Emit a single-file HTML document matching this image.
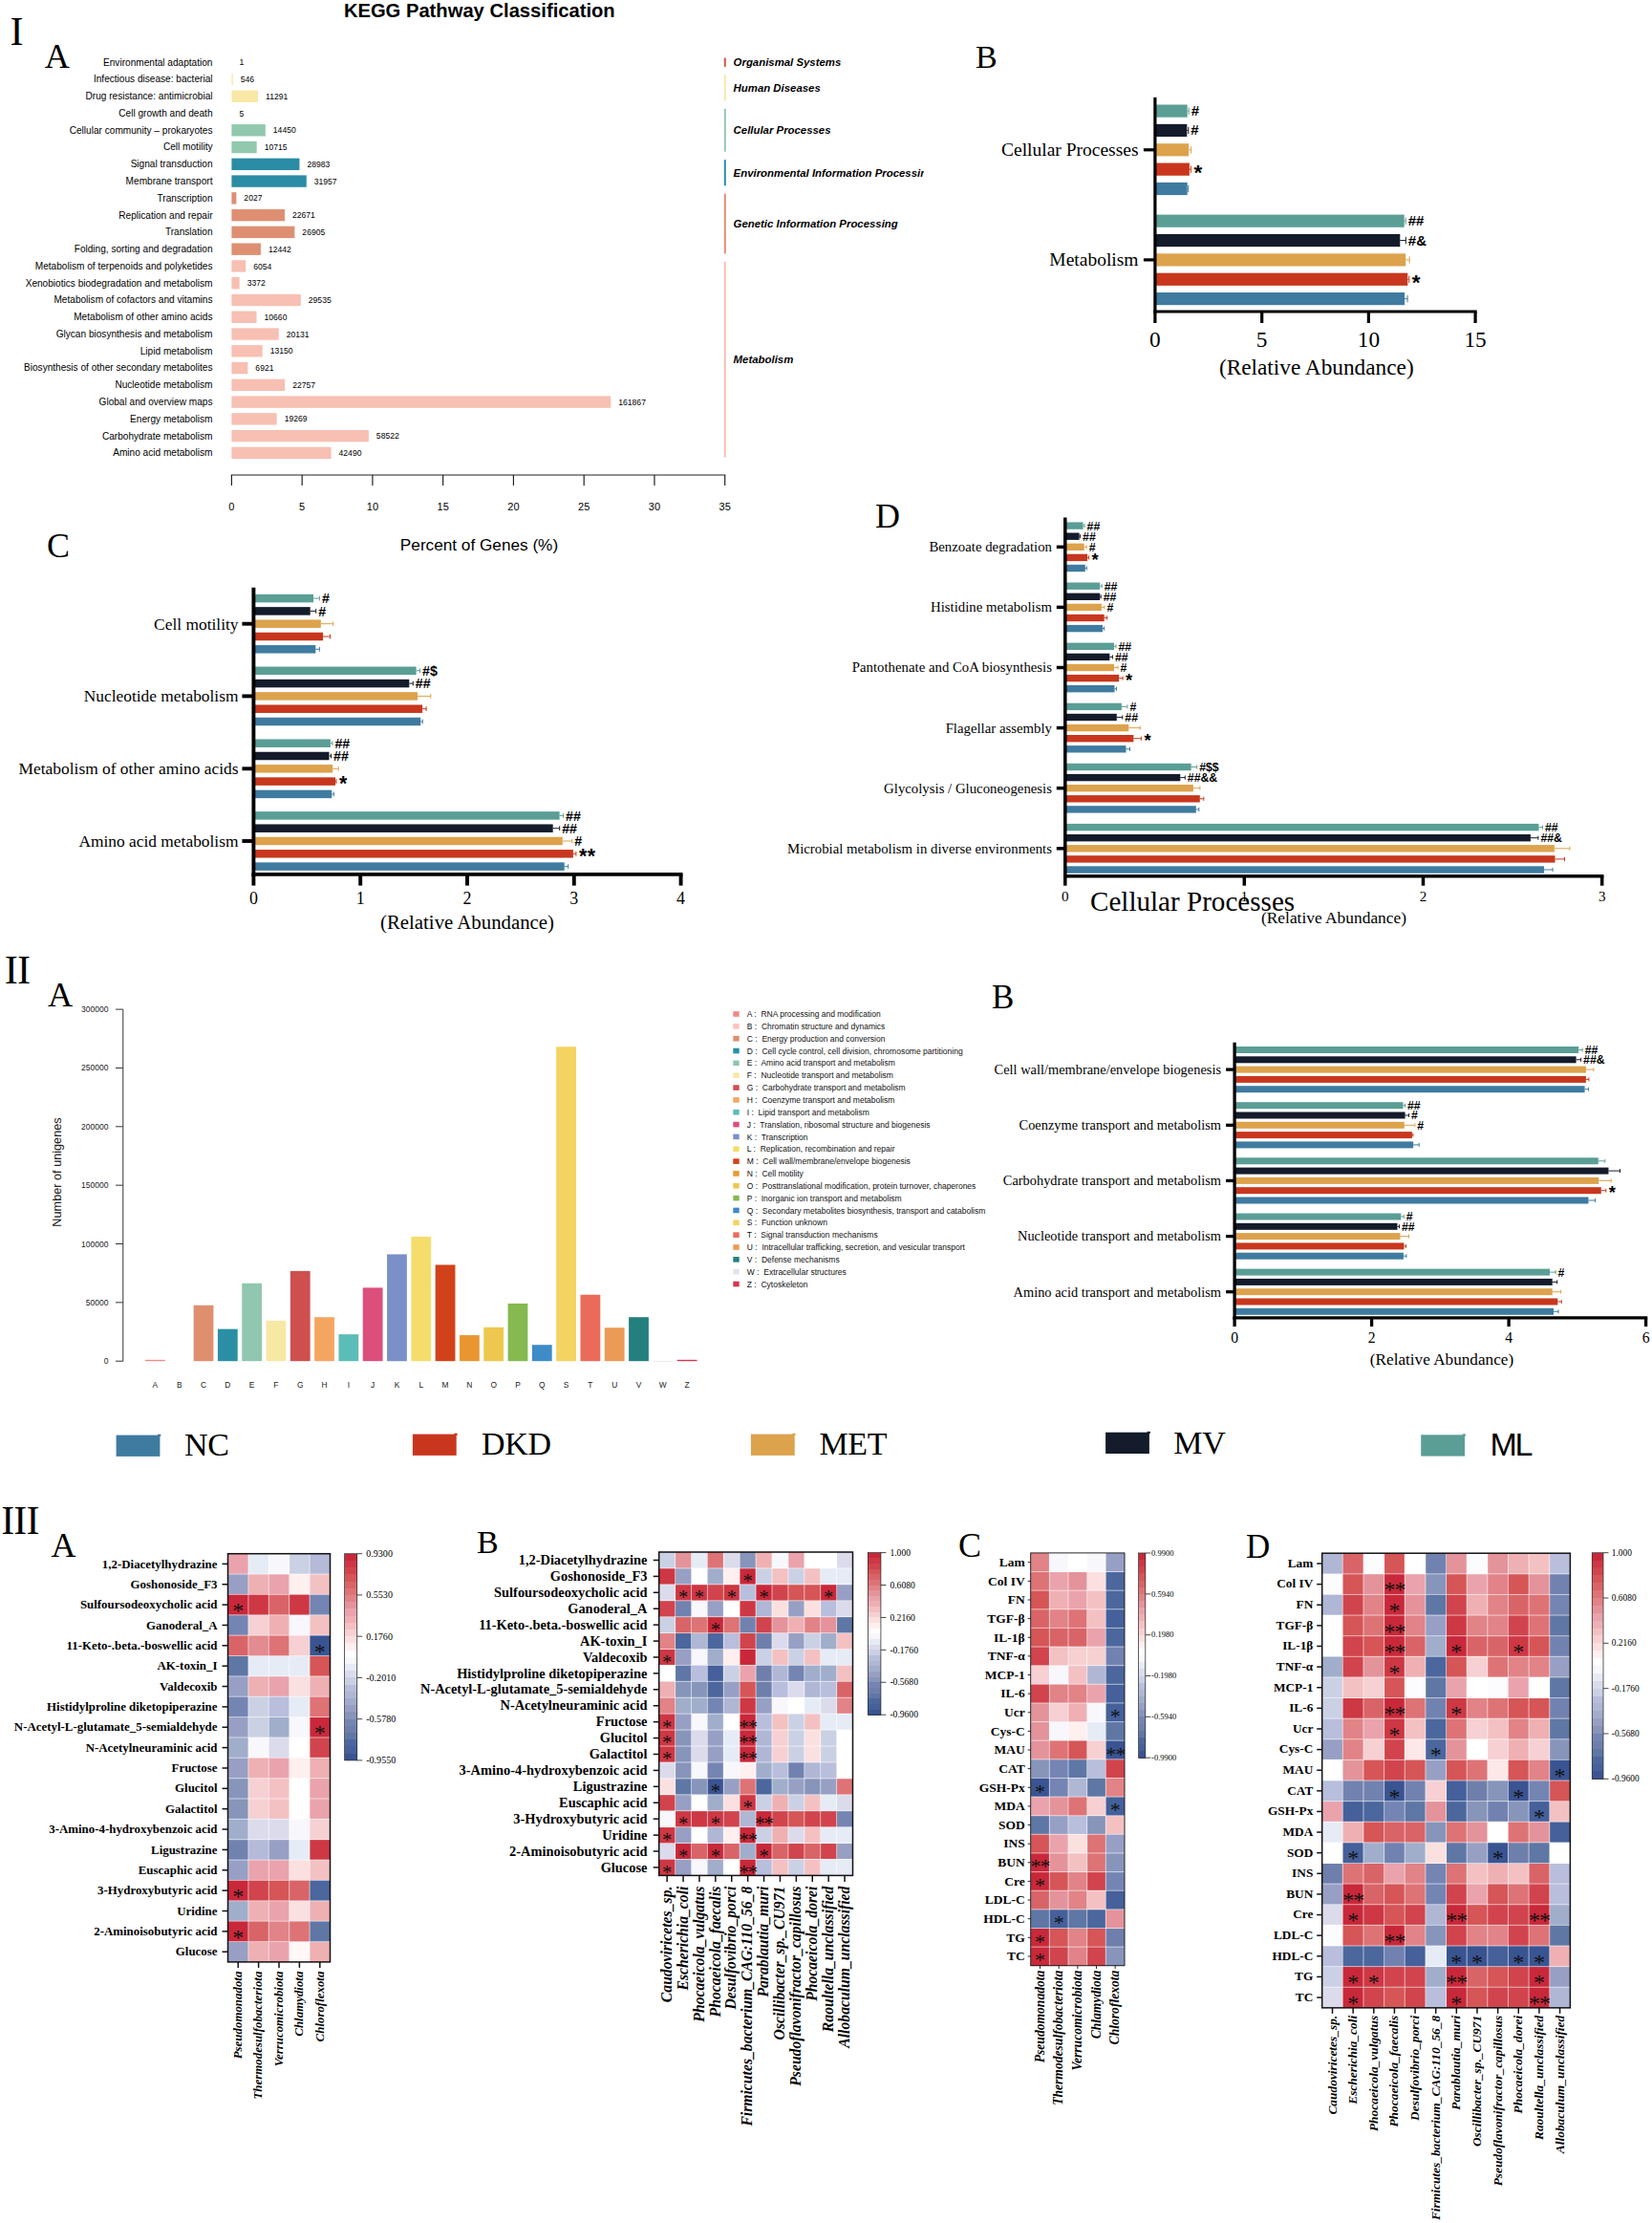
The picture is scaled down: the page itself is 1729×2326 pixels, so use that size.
<!DOCTYPE html>
<html lang="en"><head><meta charset="utf-8"><title>Figure</title>
<style>html,body{margin:0;padding:0;background:#fff}svg{display:block}text{white-space:pre}</style>
</head><body>
<svg width="1729" height="2326" viewBox="0 0 1729 2326">
<rect x="0.00" y="0.00" width="1729.00" height="2326.00" fill="#fff"/>
<text x="10.60" y="47.40" font-family="Liberation Serif, Times New Roman, serif" font-size="42.3">I</text>
<text x="46.70" y="70.50" font-family="Liberation Serif, Times New Roman, serif" font-size="36.2">A</text>
<text x="1021.00" y="70.70" font-family="Liberation Serif, Times New Roman, serif" font-size="34">B</text>
<text x="49.00" y="583.00" font-family="Liberation Serif, Times New Roman, serif" font-size="36">C</text>
<text x="916.00" y="552.00" font-family="Liberation Serif, Times New Roman, serif" font-size="36">D</text>
<text x="4.70" y="1029.00" font-family="Liberation Serif, Times New Roman, serif" font-size="42.3" letter-spacing="-0.8">II</text>
<text x="50.00" y="1052.50" font-family="Liberation Serif, Times New Roman, serif" font-size="36.2">A</text>
<text x="1038.00" y="1055.00" font-family="Liberation Serif, Times New Roman, serif" font-size="35">B</text>
<text x="1.20" y="1604.80" font-family="Liberation Serif, Times New Roman, serif" font-size="41.8" letter-spacing="-0.8">III</text>
<text x="53.40" y="1629.00" font-family="Liberation Serif, Times New Roman, serif" font-size="36">A</text>
<text x="499.00" y="1625.20" font-family="Liberation Serif, Times New Roman, serif" font-size="34">B</text>
<text x="1003.00" y="1628.50" font-family="Liberation Serif, Times New Roman, serif" font-size="36">C</text>
<text x="1304.00" y="1629.80" font-family="Liberation Serif, Times New Roman, serif" font-size="35">D</text>
<text x="501.80" y="17.50" font-family="Liberation Sans, Arial, Helvetica, sans-serif" font-size="20.2" text-anchor="middle" font-weight="bold">KEGG Pathway Classification</text>
<text x="222.50" y="68.60" font-family="Liberation Sans, Arial, Helvetica, sans-serif" font-size="10.1" text-anchor="end">Environmental adaptation</text>
<text x="250.40" y="68.30" font-family="Liberation Sans, Arial, Helvetica, sans-serif" font-size="8.6">1</text>
<text x="222.50" y="86.37" font-family="Liberation Sans, Arial, Helvetica, sans-serif" font-size="10.1" text-anchor="end">Infectious disease: bacterial</text>
<rect x="242.40" y="76.77" width="1.34" height="12.40" fill="#F9E7A5"/>
<text x="251.74" y="86.07" font-family="Liberation Sans, Arial, Helvetica, sans-serif" font-size="8.6">546</text>
<text x="222.50" y="104.14" font-family="Liberation Sans, Arial, Helvetica, sans-serif" font-size="10.1" text-anchor="end">Drug resistance: antimicrobial</text>
<rect x="242.40" y="94.54" width="27.68" height="12.40" fill="#F9E7A5"/>
<text x="278.08" y="103.84" font-family="Liberation Sans, Arial, Helvetica, sans-serif" font-size="8.6">11291</text>
<text x="222.50" y="121.91" font-family="Liberation Sans, Arial, Helvetica, sans-serif" font-size="10.1" text-anchor="end">Cell growth and death</text>
<text x="250.41" y="121.61" font-family="Liberation Sans, Arial, Helvetica, sans-serif" font-size="8.6">5</text>
<text x="222.50" y="139.68" font-family="Liberation Sans, Arial, Helvetica, sans-serif" font-size="10.1" text-anchor="end">Cellular community – prokaryotes</text>
<rect x="242.40" y="130.08" width="35.43" height="12.40" fill="#91C8AE"/>
<text x="285.83" y="139.38" font-family="Liberation Sans, Arial, Helvetica, sans-serif" font-size="8.6">14450</text>
<text x="222.50" y="157.45" font-family="Liberation Sans, Arial, Helvetica, sans-serif" font-size="10.1" text-anchor="end">Cell motility</text>
<rect x="242.40" y="147.85" width="26.27" height="12.40" fill="#91C8AE"/>
<text x="276.67" y="157.15" font-family="Liberation Sans, Arial, Helvetica, sans-serif" font-size="8.6">10715</text>
<text x="222.50" y="175.22" font-family="Liberation Sans, Arial, Helvetica, sans-serif" font-size="10.1" text-anchor="end">Signal transduction</text>
<rect x="242.40" y="165.62" width="71.06" height="12.40" fill="#2A8CA5"/>
<text x="321.46" y="174.92" font-family="Liberation Sans, Arial, Helvetica, sans-serif" font-size="8.6">28983</text>
<text x="222.50" y="192.99" font-family="Liberation Sans, Arial, Helvetica, sans-serif" font-size="10.1" text-anchor="end">Membrane transport</text>
<rect x="242.40" y="183.39" width="78.35" height="12.40" fill="#2A8CA5"/>
<text x="328.75" y="192.69" font-family="Liberation Sans, Arial, Helvetica, sans-serif" font-size="8.6">31957</text>
<text x="222.50" y="210.76" font-family="Liberation Sans, Arial, Helvetica, sans-serif" font-size="10.1" text-anchor="end">Transcription</text>
<rect x="242.40" y="201.16" width="4.97" height="12.40" fill="#DE8F72"/>
<text x="255.37" y="210.46" font-family="Liberation Sans, Arial, Helvetica, sans-serif" font-size="8.6">2027</text>
<text x="222.50" y="228.53" font-family="Liberation Sans, Arial, Helvetica, sans-serif" font-size="10.1" text-anchor="end">Replication and repair</text>
<rect x="242.40" y="218.93" width="55.58" height="12.40" fill="#DE8F72"/>
<text x="305.98" y="228.23" font-family="Liberation Sans, Arial, Helvetica, sans-serif" font-size="8.6">22671</text>
<text x="222.50" y="246.30" font-family="Liberation Sans, Arial, Helvetica, sans-serif" font-size="10.1" text-anchor="end">Translation</text>
<rect x="242.40" y="236.70" width="65.96" height="12.40" fill="#DE8F72"/>
<text x="316.36" y="246.00" font-family="Liberation Sans, Arial, Helvetica, sans-serif" font-size="8.6">26905</text>
<text x="222.50" y="264.07" font-family="Liberation Sans, Arial, Helvetica, sans-serif" font-size="10.1" text-anchor="end">Folding, sorting and degradation</text>
<rect x="242.40" y="254.47" width="30.50" height="12.40" fill="#DE8F72"/>
<text x="280.90" y="263.77" font-family="Liberation Sans, Arial, Helvetica, sans-serif" font-size="8.6">12442</text>
<text x="222.50" y="281.84" font-family="Liberation Sans, Arial, Helvetica, sans-serif" font-size="10.1" text-anchor="end">Metabolism of terpenoids and polyketides</text>
<rect x="242.40" y="272.24" width="14.84" height="12.40" fill="#F8BFB3"/>
<text x="265.24" y="281.54" font-family="Liberation Sans, Arial, Helvetica, sans-serif" font-size="8.6">6054</text>
<text x="222.50" y="299.61" font-family="Liberation Sans, Arial, Helvetica, sans-serif" font-size="10.1" text-anchor="end">Xenobiotics biodegradation and metabolism</text>
<rect x="242.40" y="290.01" width="8.27" height="12.40" fill="#F8BFB3"/>
<text x="258.67" y="299.31" font-family="Liberation Sans, Arial, Helvetica, sans-serif" font-size="8.6">3372</text>
<text x="222.50" y="317.38" font-family="Liberation Sans, Arial, Helvetica, sans-serif" font-size="10.1" text-anchor="end">Metabolism of cofactors and vitamins</text>
<rect x="242.40" y="307.78" width="72.41" height="12.40" fill="#F8BFB3"/>
<text x="322.81" y="317.08" font-family="Liberation Sans, Arial, Helvetica, sans-serif" font-size="8.6">29535</text>
<text x="222.50" y="335.15" font-family="Liberation Sans, Arial, Helvetica, sans-serif" font-size="10.1" text-anchor="end">Metabolism of other amino acids</text>
<rect x="242.40" y="325.55" width="26.13" height="12.40" fill="#F8BFB3"/>
<text x="276.53" y="334.85" font-family="Liberation Sans, Arial, Helvetica, sans-serif" font-size="8.6">10660</text>
<text x="222.50" y="352.92" font-family="Liberation Sans, Arial, Helvetica, sans-serif" font-size="10.1" text-anchor="end">Glycan biosynthesis and metabolism</text>
<rect x="242.40" y="343.32" width="49.35" height="12.40" fill="#F8BFB3"/>
<text x="299.75" y="352.62" font-family="Liberation Sans, Arial, Helvetica, sans-serif" font-size="8.6">20131</text>
<text x="222.50" y="370.69" font-family="Liberation Sans, Arial, Helvetica, sans-serif" font-size="10.1" text-anchor="end">Lipid metabolism</text>
<rect x="242.40" y="361.09" width="32.24" height="12.40" fill="#F8BFB3"/>
<text x="282.64" y="370.39" font-family="Liberation Sans, Arial, Helvetica, sans-serif" font-size="8.6">13150</text>
<text x="222.50" y="388.46" font-family="Liberation Sans, Arial, Helvetica, sans-serif" font-size="10.1" text-anchor="end">Biosynthesis of other secondary metabolites</text>
<rect x="242.40" y="378.86" width="16.97" height="12.40" fill="#F8BFB3"/>
<text x="267.37" y="388.16" font-family="Liberation Sans, Arial, Helvetica, sans-serif" font-size="8.6">6921</text>
<text x="222.50" y="406.23" font-family="Liberation Sans, Arial, Helvetica, sans-serif" font-size="10.1" text-anchor="end">Nucleotide metabolism</text>
<rect x="242.40" y="396.63" width="55.79" height="12.40" fill="#F8BFB3"/>
<text x="306.19" y="405.93" font-family="Liberation Sans, Arial, Helvetica, sans-serif" font-size="8.6">22757</text>
<text x="222.50" y="424.00" font-family="Liberation Sans, Arial, Helvetica, sans-serif" font-size="10.1" text-anchor="end">Global and overview maps</text>
<rect x="242.40" y="414.40" width="396.84" height="12.40" fill="#F8BFB3"/>
<text x="647.24" y="423.70" font-family="Liberation Sans, Arial, Helvetica, sans-serif" font-size="8.6">161867</text>
<text x="222.50" y="441.77" font-family="Liberation Sans, Arial, Helvetica, sans-serif" font-size="10.1" text-anchor="end">Energy metabolism</text>
<rect x="242.40" y="432.17" width="47.24" height="12.40" fill="#F8BFB3"/>
<text x="297.64" y="441.47" font-family="Liberation Sans, Arial, Helvetica, sans-serif" font-size="8.6">19269</text>
<text x="222.50" y="459.54" font-family="Liberation Sans, Arial, Helvetica, sans-serif" font-size="10.1" text-anchor="end">Carbohydrate metabolism</text>
<rect x="242.40" y="449.94" width="143.47" height="12.40" fill="#F8BFB3"/>
<text x="393.87" y="459.24" font-family="Liberation Sans, Arial, Helvetica, sans-serif" font-size="8.6">58522</text>
<text x="222.50" y="477.31" font-family="Liberation Sans, Arial, Helvetica, sans-serif" font-size="10.1" text-anchor="end">Amino acid metabolism</text>
<rect x="242.40" y="467.71" width="104.17" height="12.40" fill="#F8BFB3"/>
<text x="354.57" y="477.01" font-family="Liberation Sans, Arial, Helvetica, sans-serif" font-size="8.6">42490</text>
<clipPath id="kclip"><rect x="756" y="40" width="211" height="460"/></clipPath>
<g clip-path="url(#kclip)">
<line x1="758.80" y1="60.50" x2="758.80" y2="69.90" stroke="#D9534F" stroke-width="2"/>
<text x="767.60" y="69.40" font-family="Liberation Sans, Arial, Helvetica, sans-serif" font-size="11.4" font-weight="bold" font-style="italic">Organismal Systems</text>
<line x1="758.80" y1="78.27" x2="758.80" y2="105.44" stroke="#F9E7A5" stroke-width="2"/>
<text x="767.60" y="96.06" font-family="Liberation Sans, Arial, Helvetica, sans-serif" font-size="11.4" font-weight="bold" font-style="italic">Human Diseases</text>
<line x1="758.80" y1="113.81" x2="758.80" y2="158.75" stroke="#91C8AE" stroke-width="2"/>
<text x="767.60" y="140.48" font-family="Liberation Sans, Arial, Helvetica, sans-serif" font-size="11.4" font-weight="bold" font-style="italic">Cellular Processes</text>
<line x1="758.80" y1="167.12" x2="758.80" y2="194.29" stroke="#2A8CA5" stroke-width="2"/>
<text x="767.60" y="184.90" font-family="Liberation Sans, Arial, Helvetica, sans-serif" font-size="11.4" font-weight="bold" font-style="italic">Environmental Information Processing</text>
<line x1="758.80" y1="202.66" x2="758.80" y2="265.37" stroke="#DE8F72" stroke-width="2"/>
<text x="767.60" y="238.22" font-family="Liberation Sans, Arial, Helvetica, sans-serif" font-size="11.4" font-weight="bold" font-style="italic">Genetic Information Processing</text>
<line x1="758.80" y1="273.74" x2="758.80" y2="478.61" stroke="#F8BFB3" stroke-width="2"/>
<text x="767.60" y="380.37" font-family="Liberation Sans, Arial, Helvetica, sans-serif" font-size="11.4" font-weight="bold" font-style="italic">Metabolism</text>
</g>
<line x1="241.80" y1="497.00" x2="759.30" y2="497.00" stroke="#222" stroke-width="1.2"/>
<line x1="242.40" y1="497.00" x2="242.40" y2="508.00" stroke="#222" stroke-width="1.2"/>
<text x="242.40" y="534.00" font-family="Liberation Sans, Arial, Helvetica, sans-serif" font-size="11" text-anchor="middle">0</text>
<line x1="316.16" y1="497.00" x2="316.16" y2="508.00" stroke="#222" stroke-width="1.2"/>
<text x="316.16" y="534.00" font-family="Liberation Sans, Arial, Helvetica, sans-serif" font-size="11" text-anchor="middle">5</text>
<line x1="389.91" y1="497.00" x2="389.91" y2="508.00" stroke="#222" stroke-width="1.2"/>
<text x="389.91" y="534.00" font-family="Liberation Sans, Arial, Helvetica, sans-serif" font-size="11" text-anchor="middle">10</text>
<line x1="463.67" y1="497.00" x2="463.67" y2="508.00" stroke="#222" stroke-width="1.2"/>
<text x="463.67" y="534.00" font-family="Liberation Sans, Arial, Helvetica, sans-serif" font-size="11" text-anchor="middle">15</text>
<line x1="537.43" y1="497.00" x2="537.43" y2="508.00" stroke="#222" stroke-width="1.2"/>
<text x="537.43" y="534.00" font-family="Liberation Sans, Arial, Helvetica, sans-serif" font-size="11" text-anchor="middle">20</text>
<line x1="611.19" y1="497.00" x2="611.19" y2="508.00" stroke="#222" stroke-width="1.2"/>
<text x="611.19" y="534.00" font-family="Liberation Sans, Arial, Helvetica, sans-serif" font-size="11" text-anchor="middle">25</text>
<line x1="684.94" y1="497.00" x2="684.94" y2="508.00" stroke="#222" stroke-width="1.2"/>
<text x="684.94" y="534.00" font-family="Liberation Sans, Arial, Helvetica, sans-serif" font-size="11" text-anchor="middle">30</text>
<line x1="758.70" y1="497.00" x2="758.70" y2="508.00" stroke="#222" stroke-width="1.2"/>
<text x="758.70" y="534.00" font-family="Liberation Sans, Arial, Helvetica, sans-serif" font-size="11" text-anchor="middle">35</text>
<text x="501.50" y="575.80" font-family="Liberation Sans, Arial, Helvetica, sans-serif" font-size="17.2" text-anchor="middle">Percent of Genes (%)</text>
<rect x="1208.90" y="109.50" width="33.80" height="13.20" fill="#5A9E96"/>
<line x1="1242.70" y1="116.10" x2="1244.20" y2="116.10" stroke="#5A9E96" stroke-width="1"/>
<line x1="1244.20" y1="112.40" x2="1244.20" y2="119.80" stroke="#5A9E96" stroke-width="1"/>
<text x="1246.70" y="121.05" font-family="Liberation Sans, Arial, Helvetica, sans-serif" font-size="15" font-weight="bold">#</text>
<rect x="1208.90" y="129.85" width="33.40" height="13.20" fill="#141B2B"/>
<line x1="1242.30" y1="136.45" x2="1243.80" y2="136.45" stroke="#141B2B" stroke-width="1"/>
<line x1="1243.80" y1="132.75" x2="1243.80" y2="140.15" stroke="#141B2B" stroke-width="1"/>
<text x="1246.30" y="141.40" font-family="Liberation Sans, Arial, Helvetica, sans-serif" font-size="15" font-weight="bold">#</text>
<rect x="1208.90" y="150.20" width="35.20" height="13.20" fill="#DDA24C"/>
<line x1="1244.10" y1="156.80" x2="1246.60" y2="156.80" stroke="#DDA24C" stroke-width="1"/>
<line x1="1246.60" y1="153.10" x2="1246.60" y2="160.50" stroke="#DDA24C" stroke-width="1"/>
<rect x="1208.90" y="170.55" width="36.00" height="13.20" fill="#C8371D"/>
<line x1="1244.90" y1="177.15" x2="1246.40" y2="177.15" stroke="#C8371D" stroke-width="1"/>
<line x1="1246.40" y1="173.45" x2="1246.40" y2="180.85" stroke="#C8371D" stroke-width="1"/>
<text x="1249.40" y="187.50" font-family="Liberation Sans, Arial, Helvetica, sans-serif" font-size="22.5" font-weight="bold" letter-spacing="0.5">*</text>
<rect x="1208.90" y="190.90" width="33.80" height="13.20" fill="#3F7BA0"/>
<line x1="1242.70" y1="197.50" x2="1243.70" y2="197.50" stroke="#3F7BA0" stroke-width="1"/>
<line x1="1243.70" y1="193.80" x2="1243.70" y2="201.20" stroke="#3F7BA0" stroke-width="1"/>
<line x1="1196.90" y1="156.80" x2="1208.90" y2="156.80" stroke="#000" stroke-width="3.2"/>
<text x="1191.50" y="163.33" font-family="Liberation Serif, Times New Roman, serif" font-size="19.5" text-anchor="end">Cellular Processes</text>
<rect x="1208.90" y="224.60" width="260.80" height="13.20" fill="#5A9E96"/>
<line x1="1469.70" y1="231.20" x2="1471.20" y2="231.20" stroke="#5A9E96" stroke-width="1"/>
<line x1="1471.20" y1="227.50" x2="1471.20" y2="234.90" stroke="#5A9E96" stroke-width="1"/>
<text x="1473.70" y="236.15" font-family="Liberation Sans, Arial, Helvetica, sans-serif" font-size="15" font-weight="bold">##</text>
<rect x="1208.90" y="244.95" width="256.40" height="13.20" fill="#141B2B"/>
<line x1="1465.30" y1="251.55" x2="1471.30" y2="251.55" stroke="#141B2B" stroke-width="1"/>
<line x1="1471.30" y1="247.85" x2="1471.30" y2="255.25" stroke="#141B2B" stroke-width="1"/>
<text x="1473.80" y="256.50" font-family="Liberation Sans, Arial, Helvetica, sans-serif" font-size="15" font-weight="bold">#&amp;</text>
<rect x="1208.90" y="265.30" width="262.30" height="13.20" fill="#DDA24C"/>
<line x1="1471.20" y1="271.90" x2="1475.20" y2="271.90" stroke="#DDA24C" stroke-width="1"/>
<line x1="1475.20" y1="268.20" x2="1475.20" y2="275.60" stroke="#DDA24C" stroke-width="1"/>
<rect x="1208.90" y="285.65" width="264.40" height="13.20" fill="#C8371D"/>
<line x1="1473.30" y1="292.25" x2="1474.80" y2="292.25" stroke="#C8371D" stroke-width="1"/>
<line x1="1474.80" y1="288.55" x2="1474.80" y2="295.95" stroke="#C8371D" stroke-width="1"/>
<text x="1477.80" y="302.60" font-family="Liberation Sans, Arial, Helvetica, sans-serif" font-size="22.5" font-weight="bold" letter-spacing="0.5">*</text>
<rect x="1208.90" y="306.00" width="261.20" height="13.20" fill="#3F7BA0"/>
<line x1="1470.10" y1="312.60" x2="1473.10" y2="312.60" stroke="#3F7BA0" stroke-width="1"/>
<line x1="1473.10" y1="308.90" x2="1473.10" y2="316.30" stroke="#3F7BA0" stroke-width="1"/>
<line x1="1196.90" y1="271.90" x2="1208.90" y2="271.90" stroke="#000" stroke-width="3.2"/>
<text x="1191.50" y="278.43" font-family="Liberation Serif, Times New Roman, serif" font-size="19.5" text-anchor="end">Metabolism</text>
<line x1="1208.90" y1="101.90" x2="1208.90" y2="327.60" stroke="#000" stroke-width="3.2"/>
<line x1="1207.30" y1="326.00" x2="1545.70" y2="326.00" stroke="#000" stroke-width="3.2"/>
<line x1="1208.90" y1="326.00" x2="1208.90" y2="338.00" stroke="#000" stroke-width="3.2"/>
<text x="1208.90" y="363.00" font-family="Liberation Serif, Times New Roman, serif" font-size="23.3" text-anchor="middle">0</text>
<line x1="1320.70" y1="326.00" x2="1320.70" y2="338.00" stroke="#000" stroke-width="3.2"/>
<text x="1320.70" y="363.00" font-family="Liberation Serif, Times New Roman, serif" font-size="23.3" text-anchor="middle">5</text>
<line x1="1432.40" y1="326.00" x2="1432.40" y2="338.00" stroke="#000" stroke-width="3.2"/>
<text x="1432.40" y="363.00" font-family="Liberation Serif, Times New Roman, serif" font-size="23.3" text-anchor="middle">10</text>
<line x1="1544.10" y1="326.00" x2="1544.10" y2="338.00" stroke="#000" stroke-width="3.2"/>
<text x="1544.10" y="363.00" font-family="Liberation Serif, Times New Roman, serif" font-size="23.3" text-anchor="middle">15</text>
<text x="1377.80" y="391.80" font-family="Liberation Serif, Times New Roman, serif" font-size="23.3" text-anchor="middle">(Relative Abundance)</text>
<rect x="265.40" y="621.85" width="62.60" height="8.50" fill="#5A9E96"/>
<line x1="328.00" y1="626.10" x2="334.40" y2="626.10" stroke="#5A9E96" stroke-width="1"/>
<line x1="334.40" y1="623.72" x2="334.40" y2="628.48" stroke="#5A9E96" stroke-width="1"/>
<text x="336.90" y="631.21" font-family="Liberation Sans, Arial, Helvetica, sans-serif" font-size="14.2" font-weight="bold">#</text>
<rect x="265.40" y="635.15" width="59.30" height="8.50" fill="#141B2B"/>
<line x1="324.70" y1="639.40" x2="330.70" y2="639.40" stroke="#141B2B" stroke-width="1"/>
<line x1="330.70" y1="637.02" x2="330.70" y2="641.78" stroke="#141B2B" stroke-width="1"/>
<text x="333.20" y="644.51" font-family="Liberation Sans, Arial, Helvetica, sans-serif" font-size="14.2" font-weight="bold">#</text>
<rect x="265.40" y="648.45" width="70.40" height="8.50" fill="#DDA24C"/>
<line x1="335.80" y1="652.70" x2="348.70" y2="652.70" stroke="#DDA24C" stroke-width="1"/>
<line x1="348.70" y1="650.32" x2="348.70" y2="655.08" stroke="#DDA24C" stroke-width="1"/>
<rect x="265.40" y="661.75" width="72.70" height="8.50" fill="#C8371D"/>
<line x1="338.10" y1="666.00" x2="345.50" y2="666.00" stroke="#C8371D" stroke-width="1"/>
<line x1="345.50" y1="663.62" x2="345.50" y2="668.38" stroke="#C8371D" stroke-width="1"/>
<rect x="265.40" y="675.05" width="64.90" height="8.50" fill="#3F7BA0"/>
<line x1="330.30" y1="679.30" x2="334.40" y2="679.30" stroke="#3F7BA0" stroke-width="1"/>
<line x1="334.40" y1="676.92" x2="334.40" y2="681.68" stroke="#3F7BA0" stroke-width="1"/>
<line x1="253.40" y1="652.70" x2="265.40" y2="652.70" stroke="#000" stroke-width="3.9"/>
<text x="249.50" y="658.53" font-family="Liberation Serif, Times New Roman, serif" font-size="17.4" text-anchor="end">Cell motility</text>
<rect x="265.40" y="697.55" width="170.20" height="8.50" fill="#5A9E96"/>
<line x1="435.60" y1="701.80" x2="439.60" y2="701.80" stroke="#5A9E96" stroke-width="1"/>
<line x1="439.60" y1="699.42" x2="439.60" y2="704.18" stroke="#5A9E96" stroke-width="1"/>
<text x="442.10" y="706.91" font-family="Liberation Sans, Arial, Helvetica, sans-serif" font-size="14.2" font-weight="bold">#$</text>
<rect x="265.40" y="710.85" width="162.90" height="8.50" fill="#141B2B"/>
<line x1="428.30" y1="715.10" x2="432.30" y2="715.10" stroke="#141B2B" stroke-width="1"/>
<line x1="432.30" y1="712.72" x2="432.30" y2="717.48" stroke="#141B2B" stroke-width="1"/>
<text x="434.80" y="720.21" font-family="Liberation Sans, Arial, Helvetica, sans-serif" font-size="14.2" font-weight="bold">##</text>
<rect x="265.40" y="724.15" width="171.60" height="8.50" fill="#DDA24C"/>
<line x1="437.00" y1="728.40" x2="450.80" y2="728.40" stroke="#DDA24C" stroke-width="1"/>
<line x1="450.80" y1="726.02" x2="450.80" y2="730.78" stroke="#DDA24C" stroke-width="1"/>
<rect x="265.40" y="737.45" width="176.70" height="8.50" fill="#C8371D"/>
<line x1="442.10" y1="741.70" x2="446.10" y2="741.70" stroke="#C8371D" stroke-width="1"/>
<line x1="446.10" y1="739.32" x2="446.10" y2="744.08" stroke="#C8371D" stroke-width="1"/>
<rect x="265.40" y="750.75" width="174.80" height="8.50" fill="#3F7BA0"/>
<line x1="440.20" y1="755.00" x2="442.20" y2="755.00" stroke="#3F7BA0" stroke-width="1"/>
<line x1="442.20" y1="752.62" x2="442.20" y2="757.38" stroke="#3F7BA0" stroke-width="1"/>
<line x1="253.40" y1="728.40" x2="265.40" y2="728.40" stroke="#000" stroke-width="3.9"/>
<text x="249.50" y="734.23" font-family="Liberation Serif, Times New Roman, serif" font-size="17.4" text-anchor="end">Nucleotide metabolism</text>
<rect x="265.40" y="773.45" width="80.50" height="8.50" fill="#5A9E96"/>
<line x1="345.90" y1="777.70" x2="347.90" y2="777.70" stroke="#5A9E96" stroke-width="1"/>
<line x1="347.90" y1="775.32" x2="347.90" y2="780.08" stroke="#5A9E96" stroke-width="1"/>
<text x="350.40" y="782.81" font-family="Liberation Sans, Arial, Helvetica, sans-serif" font-size="14.2" font-weight="bold">##</text>
<rect x="265.40" y="786.75" width="79.10" height="8.50" fill="#141B2B"/>
<line x1="344.50" y1="791.00" x2="346.50" y2="791.00" stroke="#141B2B" stroke-width="1"/>
<line x1="346.50" y1="788.62" x2="346.50" y2="793.38" stroke="#141B2B" stroke-width="1"/>
<text x="349.00" y="796.11" font-family="Liberation Sans, Arial, Helvetica, sans-serif" font-size="14.2" font-weight="bold">##</text>
<rect x="265.40" y="800.05" width="82.80" height="8.50" fill="#DDA24C"/>
<line x1="348.20" y1="804.30" x2="354.20" y2="804.30" stroke="#DDA24C" stroke-width="1"/>
<line x1="354.20" y1="801.92" x2="354.20" y2="806.68" stroke="#DDA24C" stroke-width="1"/>
<rect x="265.40" y="813.35" width="85.60" height="8.50" fill="#C8371D"/>
<line x1="351.00" y1="817.60" x2="352.00" y2="817.60" stroke="#C8371D" stroke-width="1"/>
<line x1="352.00" y1="815.22" x2="352.00" y2="819.98" stroke="#C8371D" stroke-width="1"/>
<text x="355.00" y="827.40" font-family="Liberation Sans, Arial, Helvetica, sans-serif" font-size="21.299999999999997" font-weight="bold" letter-spacing="0.5">*</text>
<rect x="265.40" y="826.65" width="81.90" height="8.50" fill="#3F7BA0"/>
<line x1="347.30" y1="830.90" x2="349.30" y2="830.90" stroke="#3F7BA0" stroke-width="1"/>
<line x1="349.30" y1="828.52" x2="349.30" y2="833.28" stroke="#3F7BA0" stroke-width="1"/>
<line x1="253.40" y1="804.30" x2="265.40" y2="804.30" stroke="#000" stroke-width="3.9"/>
<text x="249.50" y="810.13" font-family="Liberation Serif, Times New Roman, serif" font-size="17.4" text-anchor="end">Metabolism of other amino acids</text>
<rect x="265.40" y="849.15" width="320.20" height="8.50" fill="#5A9E96"/>
<line x1="585.60" y1="853.40" x2="589.60" y2="853.40" stroke="#5A9E96" stroke-width="1"/>
<line x1="589.60" y1="851.02" x2="589.60" y2="855.78" stroke="#5A9E96" stroke-width="1"/>
<text x="592.10" y="858.51" font-family="Liberation Sans, Arial, Helvetica, sans-serif" font-size="14.2" font-weight="bold">##</text>
<rect x="265.40" y="862.45" width="313.30" height="8.50" fill="#141B2B"/>
<line x1="578.70" y1="866.70" x2="585.70" y2="866.70" stroke="#141B2B" stroke-width="1"/>
<line x1="585.70" y1="864.32" x2="585.70" y2="869.08" stroke="#141B2B" stroke-width="1"/>
<text x="588.20" y="871.81" font-family="Liberation Sans, Arial, Helvetica, sans-serif" font-size="14.2" font-weight="bold">##</text>
<rect x="265.40" y="875.75" width="323.40" height="8.50" fill="#DDA24C"/>
<line x1="588.80" y1="880.00" x2="598.80" y2="880.00" stroke="#DDA24C" stroke-width="1"/>
<line x1="598.80" y1="877.62" x2="598.80" y2="882.38" stroke="#DDA24C" stroke-width="1"/>
<text x="601.30" y="885.11" font-family="Liberation Sans, Arial, Helvetica, sans-serif" font-size="14.2" font-weight="bold">#</text>
<rect x="265.40" y="889.05" width="334.50" height="8.50" fill="#C8371D"/>
<line x1="599.90" y1="893.30" x2="602.90" y2="893.30" stroke="#C8371D" stroke-width="1"/>
<line x1="602.90" y1="890.92" x2="602.90" y2="895.68" stroke="#C8371D" stroke-width="1"/>
<text x="605.90" y="903.10" font-family="Liberation Sans, Arial, Helvetica, sans-serif" font-size="21.299999999999997" font-weight="bold" letter-spacing="0.5">**</text>
<rect x="265.40" y="902.35" width="325.30" height="8.50" fill="#3F7BA0"/>
<line x1="590.70" y1="906.60" x2="594.70" y2="906.60" stroke="#3F7BA0" stroke-width="1"/>
<line x1="594.70" y1="904.22" x2="594.70" y2="908.98" stroke="#3F7BA0" stroke-width="1"/>
<line x1="253.40" y1="880.00" x2="265.40" y2="880.00" stroke="#000" stroke-width="3.9"/>
<text x="249.50" y="885.83" font-family="Liberation Serif, Times New Roman, serif" font-size="17.4" text-anchor="end">Amino acid metabolism</text>
<line x1="265.40" y1="614.70" x2="265.40" y2="916.85" stroke="#000" stroke-width="3.9"/>
<line x1="263.45" y1="914.90" x2="714.55" y2="914.90" stroke="#000" stroke-width="3.9"/>
<line x1="265.40" y1="914.90" x2="265.40" y2="926.60" stroke="#000" stroke-width="3.9"/>
<text x="265.40" y="946.40" font-family="Liberation Serif, Times New Roman, serif" font-size="17.9" text-anchor="middle">0</text>
<line x1="377.20" y1="914.90" x2="377.20" y2="926.60" stroke="#000" stroke-width="3.9"/>
<text x="377.20" y="946.40" font-family="Liberation Serif, Times New Roman, serif" font-size="17.9" text-anchor="middle">1</text>
<line x1="489.00" y1="914.90" x2="489.00" y2="926.60" stroke="#000" stroke-width="3.9"/>
<text x="489.00" y="946.40" font-family="Liberation Serif, Times New Roman, serif" font-size="17.9" text-anchor="middle">2</text>
<line x1="600.80" y1="914.90" x2="600.80" y2="926.60" stroke="#000" stroke-width="3.9"/>
<text x="600.80" y="946.40" font-family="Liberation Serif, Times New Roman, serif" font-size="17.9" text-anchor="middle">3</text>
<line x1="712.60" y1="914.90" x2="712.60" y2="926.60" stroke="#000" stroke-width="3.9"/>
<text x="712.60" y="946.40" font-family="Liberation Serif, Times New Roman, serif" font-size="17.9" text-anchor="middle">4</text>
<text x="489.00" y="972.40" font-family="Liberation Serif, Times New Roman, serif" font-size="20.8" text-anchor="middle">(Relative Abundance)</text>
<rect x="1114.80" y="546.40" width="18.80" height="7.40" fill="#5A9E96"/>
<line x1="1133.60" y1="550.10" x2="1135.10" y2="550.10" stroke="#5A9E96" stroke-width="1"/>
<line x1="1135.10" y1="548.03" x2="1135.10" y2="552.17" stroke="#5A9E96" stroke-width="1"/>
<text x="1137.60" y="554.53" font-family="Liberation Sans, Arial, Helvetica, sans-serif" font-size="12.3" font-weight="bold">##</text>
<rect x="1114.80" y="557.50" width="14.80" height="7.40" fill="#141B2B"/>
<line x1="1129.60" y1="561.20" x2="1130.60" y2="561.20" stroke="#141B2B" stroke-width="1"/>
<line x1="1130.60" y1="559.13" x2="1130.60" y2="563.27" stroke="#141B2B" stroke-width="1"/>
<text x="1133.10" y="565.63" font-family="Liberation Sans, Arial, Helvetica, sans-serif" font-size="12.3" font-weight="bold">##</text>
<rect x="1114.80" y="568.60" width="19.90" height="7.40" fill="#DDA24C"/>
<line x1="1134.70" y1="572.30" x2="1137.20" y2="572.30" stroke="#DDA24C" stroke-width="1"/>
<line x1="1137.20" y1="570.23" x2="1137.20" y2="574.37" stroke="#DDA24C" stroke-width="1"/>
<text x="1139.70" y="576.73" font-family="Liberation Sans, Arial, Helvetica, sans-serif" font-size="12.3" font-weight="bold">#</text>
<rect x="1114.80" y="579.70" width="23.30" height="7.40" fill="#C8371D"/>
<line x1="1138.10" y1="583.40" x2="1139.60" y2="583.40" stroke="#C8371D" stroke-width="1"/>
<line x1="1139.60" y1="581.33" x2="1139.60" y2="585.47" stroke="#C8371D" stroke-width="1"/>
<text x="1142.60" y="591.89" font-family="Liberation Sans, Arial, Helvetica, sans-serif" font-size="18.450000000000003" font-weight="bold" letter-spacing="0.5">*</text>
<rect x="1114.80" y="590.80" width="21.00" height="7.40" fill="#3F7BA0"/>
<line x1="1135.80" y1="594.50" x2="1137.30" y2="594.50" stroke="#3F7BA0" stroke-width="1"/>
<line x1="1137.30" y1="592.43" x2="1137.30" y2="596.57" stroke="#3F7BA0" stroke-width="1"/>
<line x1="1105.80" y1="572.30" x2="1114.80" y2="572.30" stroke="#000" stroke-width="3.5"/>
<text x="1101.00" y="577.26" font-family="Liberation Serif, Times New Roman, serif" font-size="14.8" text-anchor="end">Benzoate degradation</text>
<rect x="1114.80" y="609.50" width="36.40" height="7.40" fill="#5A9E96"/>
<line x1="1151.20" y1="613.20" x2="1153.20" y2="613.20" stroke="#5A9E96" stroke-width="1"/>
<line x1="1153.20" y1="611.13" x2="1153.20" y2="615.27" stroke="#5A9E96" stroke-width="1"/>
<text x="1155.70" y="617.63" font-family="Liberation Sans, Arial, Helvetica, sans-serif" font-size="12.3" font-weight="bold">##</text>
<rect x="1114.80" y="620.60" width="36.40" height="7.40" fill="#141B2B"/>
<line x1="1151.20" y1="624.30" x2="1152.20" y2="624.30" stroke="#141B2B" stroke-width="1"/>
<line x1="1152.20" y1="622.23" x2="1152.20" y2="626.37" stroke="#141B2B" stroke-width="1"/>
<text x="1154.70" y="628.73" font-family="Liberation Sans, Arial, Helvetica, sans-serif" font-size="12.3" font-weight="bold">##</text>
<rect x="1114.80" y="631.70" width="38.10" height="7.40" fill="#DDA24C"/>
<line x1="1152.90" y1="635.40" x2="1155.90" y2="635.40" stroke="#DDA24C" stroke-width="1"/>
<line x1="1155.90" y1="633.33" x2="1155.90" y2="637.47" stroke="#DDA24C" stroke-width="1"/>
<text x="1158.40" y="639.83" font-family="Liberation Sans, Arial, Helvetica, sans-serif" font-size="12.3" font-weight="bold">#</text>
<rect x="1114.80" y="642.80" width="40.90" height="7.40" fill="#C8371D"/>
<line x1="1155.70" y1="646.50" x2="1158.70" y2="646.50" stroke="#C8371D" stroke-width="1"/>
<line x1="1158.70" y1="644.43" x2="1158.70" y2="648.57" stroke="#C8371D" stroke-width="1"/>
<rect x="1114.80" y="653.90" width="39.20" height="7.40" fill="#3F7BA0"/>
<line x1="1154.00" y1="657.60" x2="1155.50" y2="657.60" stroke="#3F7BA0" stroke-width="1"/>
<line x1="1155.50" y1="655.53" x2="1155.50" y2="659.67" stroke="#3F7BA0" stroke-width="1"/>
<line x1="1105.80" y1="635.40" x2="1114.80" y2="635.40" stroke="#000" stroke-width="3.5"/>
<text x="1101.00" y="640.36" font-family="Liberation Serif, Times New Roman, serif" font-size="14.8" text-anchor="end">Histidine metabolism</text>
<rect x="1114.80" y="672.60" width="51.20" height="7.40" fill="#5A9E96"/>
<line x1="1166.00" y1="676.30" x2="1168.00" y2="676.30" stroke="#5A9E96" stroke-width="1"/>
<line x1="1168.00" y1="674.23" x2="1168.00" y2="678.37" stroke="#5A9E96" stroke-width="1"/>
<text x="1170.50" y="680.73" font-family="Liberation Sans, Arial, Helvetica, sans-serif" font-size="12.3" font-weight="bold">##</text>
<rect x="1114.80" y="683.70" width="46.60" height="7.40" fill="#141B2B"/>
<line x1="1161.40" y1="687.40" x2="1164.40" y2="687.40" stroke="#141B2B" stroke-width="1"/>
<line x1="1164.40" y1="685.33" x2="1164.40" y2="689.47" stroke="#141B2B" stroke-width="1"/>
<text x="1166.90" y="691.83" font-family="Liberation Sans, Arial, Helvetica, sans-serif" font-size="12.3" font-weight="bold">##</text>
<rect x="1114.80" y="694.80" width="51.20" height="7.40" fill="#DDA24C"/>
<line x1="1166.00" y1="698.50" x2="1170.00" y2="698.50" stroke="#DDA24C" stroke-width="1"/>
<line x1="1170.00" y1="696.43" x2="1170.00" y2="700.57" stroke="#DDA24C" stroke-width="1"/>
<text x="1172.50" y="702.93" font-family="Liberation Sans, Arial, Helvetica, sans-serif" font-size="12.3" font-weight="bold">#</text>
<rect x="1114.80" y="705.90" width="56.30" height="7.40" fill="#C8371D"/>
<line x1="1171.10" y1="709.60" x2="1175.10" y2="709.60" stroke="#C8371D" stroke-width="1"/>
<line x1="1175.10" y1="707.53" x2="1175.10" y2="711.67" stroke="#C8371D" stroke-width="1"/>
<text x="1178.10" y="718.09" font-family="Liberation Sans, Arial, Helvetica, sans-serif" font-size="18.450000000000003" font-weight="bold" letter-spacing="0.5">*</text>
<rect x="1114.80" y="717.00" width="51.70" height="7.40" fill="#3F7BA0"/>
<line x1="1166.50" y1="720.70" x2="1168.50" y2="720.70" stroke="#3F7BA0" stroke-width="1"/>
<line x1="1168.50" y1="718.63" x2="1168.50" y2="722.77" stroke="#3F7BA0" stroke-width="1"/>
<line x1="1105.80" y1="698.50" x2="1114.80" y2="698.50" stroke="#000" stroke-width="3.5"/>
<text x="1101.00" y="703.46" font-family="Liberation Serif, Times New Roman, serif" font-size="14.8" text-anchor="end">Pantothenate and CoA biosynthesis</text>
<rect x="1114.80" y="735.70" width="59.10" height="7.40" fill="#5A9E96"/>
<line x1="1173.90" y1="739.40" x2="1179.90" y2="739.40" stroke="#5A9E96" stroke-width="1"/>
<line x1="1179.90" y1="737.33" x2="1179.90" y2="741.47" stroke="#5A9E96" stroke-width="1"/>
<text x="1182.40" y="743.83" font-family="Liberation Sans, Arial, Helvetica, sans-serif" font-size="12.3" font-weight="bold">#</text>
<rect x="1114.80" y="746.80" width="54.00" height="7.40" fill="#141B2B"/>
<line x1="1168.80" y1="750.50" x2="1174.80" y2="750.50" stroke="#141B2B" stroke-width="1"/>
<line x1="1174.80" y1="748.43" x2="1174.80" y2="752.57" stroke="#141B2B" stroke-width="1"/>
<text x="1177.30" y="754.93" font-family="Liberation Sans, Arial, Helvetica, sans-serif" font-size="12.3" font-weight="bold">##</text>
<rect x="1114.80" y="757.90" width="66.50" height="7.40" fill="#DDA24C"/>
<line x1="1181.30" y1="761.60" x2="1193.30" y2="761.60" stroke="#DDA24C" stroke-width="1"/>
<line x1="1193.30" y1="759.53" x2="1193.30" y2="763.67" stroke="#DDA24C" stroke-width="1"/>
<rect x="1114.80" y="769.00" width="71.60" height="7.40" fill="#C8371D"/>
<line x1="1186.40" y1="772.70" x2="1194.40" y2="772.70" stroke="#C8371D" stroke-width="1"/>
<line x1="1194.40" y1="770.63" x2="1194.40" y2="774.77" stroke="#C8371D" stroke-width="1"/>
<text x="1197.40" y="781.19" font-family="Liberation Sans, Arial, Helvetica, sans-serif" font-size="18.450000000000003" font-weight="bold" letter-spacing="0.5">*</text>
<rect x="1114.80" y="780.10" width="63.70" height="7.40" fill="#3F7BA0"/>
<line x1="1178.50" y1="783.80" x2="1182.50" y2="783.80" stroke="#3F7BA0" stroke-width="1"/>
<line x1="1182.50" y1="781.73" x2="1182.50" y2="785.87" stroke="#3F7BA0" stroke-width="1"/>
<line x1="1105.80" y1="761.60" x2="1114.80" y2="761.60" stroke="#000" stroke-width="3.5"/>
<text x="1101.00" y="766.56" font-family="Liberation Serif, Times New Roman, serif" font-size="14.8" text-anchor="end">Flagellar assembly</text>
<rect x="1114.80" y="798.80" width="131.90" height="7.40" fill="#5A9E96"/>
<line x1="1246.70" y1="802.50" x2="1252.70" y2="802.50" stroke="#5A9E96" stroke-width="1"/>
<line x1="1252.70" y1="800.43" x2="1252.70" y2="804.57" stroke="#5A9E96" stroke-width="1"/>
<text x="1255.20" y="806.93" font-family="Liberation Sans, Arial, Helvetica, sans-serif" font-size="12.3" font-weight="bold">#$$</text>
<rect x="1114.80" y="809.90" width="120.50" height="7.40" fill="#141B2B"/>
<line x1="1235.30" y1="813.60" x2="1240.30" y2="813.60" stroke="#141B2B" stroke-width="1"/>
<line x1="1240.30" y1="811.53" x2="1240.30" y2="815.67" stroke="#141B2B" stroke-width="1"/>
<text x="1242.80" y="818.03" font-family="Liberation Sans, Arial, Helvetica, sans-serif" font-size="12.3" font-weight="bold">##&amp;&amp;</text>
<rect x="1114.80" y="821.00" width="134.10" height="7.40" fill="#DDA24C"/>
<line x1="1248.90" y1="824.70" x2="1255.90" y2="824.70" stroke="#DDA24C" stroke-width="1"/>
<line x1="1255.90" y1="822.63" x2="1255.90" y2="826.77" stroke="#DDA24C" stroke-width="1"/>
<rect x="1114.80" y="832.10" width="141.00" height="7.40" fill="#C8371D"/>
<line x1="1255.80" y1="835.80" x2="1259.80" y2="835.80" stroke="#C8371D" stroke-width="1"/>
<line x1="1259.80" y1="833.73" x2="1259.80" y2="837.87" stroke="#C8371D" stroke-width="1"/>
<rect x="1114.80" y="843.20" width="137.00" height="7.40" fill="#3F7BA0"/>
<line x1="1251.80" y1="846.90" x2="1254.80" y2="846.90" stroke="#3F7BA0" stroke-width="1"/>
<line x1="1254.80" y1="844.83" x2="1254.80" y2="848.97" stroke="#3F7BA0" stroke-width="1"/>
<line x1="1105.80" y1="824.70" x2="1114.80" y2="824.70" stroke="#000" stroke-width="3.5"/>
<text x="1101.00" y="829.66" font-family="Liberation Serif, Times New Roman, serif" font-size="14.8" text-anchor="end">Glycolysis / Gluconeogenesis</text>
<rect x="1114.80" y="861.90" width="495.70" height="7.40" fill="#5A9E96"/>
<line x1="1610.50" y1="865.60" x2="1614.50" y2="865.60" stroke="#5A9E96" stroke-width="1"/>
<line x1="1614.50" y1="863.53" x2="1614.50" y2="867.67" stroke="#5A9E96" stroke-width="1"/>
<text x="1617.00" y="870.03" font-family="Liberation Sans, Arial, Helvetica, sans-serif" font-size="12.3" font-weight="bold">##</text>
<rect x="1114.80" y="873.00" width="487.10" height="7.40" fill="#141B2B"/>
<line x1="1601.90" y1="876.70" x2="1609.90" y2="876.70" stroke="#141B2B" stroke-width="1"/>
<line x1="1609.90" y1="874.63" x2="1609.90" y2="878.77" stroke="#141B2B" stroke-width="1"/>
<text x="1612.40" y="881.13" font-family="Liberation Sans, Arial, Helvetica, sans-serif" font-size="12.3" font-weight="bold">##&amp;</text>
<rect x="1114.80" y="884.10" width="512.10" height="7.40" fill="#DDA24C"/>
<line x1="1626.90" y1="887.80" x2="1642.90" y2="887.80" stroke="#DDA24C" stroke-width="1"/>
<line x1="1642.90" y1="885.73" x2="1642.90" y2="889.87" stroke="#DDA24C" stroke-width="1"/>
<rect x="1114.80" y="895.20" width="512.70" height="7.40" fill="#C8371D"/>
<line x1="1627.50" y1="898.90" x2="1637.50" y2="898.90" stroke="#C8371D" stroke-width="1"/>
<line x1="1637.50" y1="896.83" x2="1637.50" y2="900.97" stroke="#C8371D" stroke-width="1"/>
<rect x="1114.80" y="906.30" width="501.30" height="7.40" fill="#3F7BA0"/>
<line x1="1616.10" y1="910.00" x2="1625.10" y2="910.00" stroke="#3F7BA0" stroke-width="1"/>
<line x1="1625.10" y1="907.93" x2="1625.10" y2="912.07" stroke="#3F7BA0" stroke-width="1"/>
<line x1="1105.80" y1="887.80" x2="1114.80" y2="887.80" stroke="#000" stroke-width="3.5"/>
<text x="1101.00" y="892.76" font-family="Liberation Serif, Times New Roman, serif" font-size="14.8" text-anchor="end">Microbial metabolism in diverse environments</text>
<line x1="1114.80" y1="541.60" x2="1114.80" y2="918.45" stroke="#000" stroke-width="3.5"/>
<line x1="1113.05" y1="916.70" x2="1678.45" y2="916.70" stroke="#000" stroke-width="3.5"/>
<line x1="1114.80" y1="916.70" x2="1114.80" y2="926.70" stroke="#000" stroke-width="3.5"/>
<text x="1114.80" y="943.40" font-family="Liberation Serif, Times New Roman, serif" font-size="15.1" text-anchor="middle">0</text>
<line x1="1302.30" y1="916.70" x2="1302.30" y2="926.70" stroke="#000" stroke-width="3.5"/>
<text x="1302.30" y="943.40" font-family="Liberation Serif, Times New Roman, serif" font-size="15.1" text-anchor="middle">1</text>
<line x1="1489.50" y1="916.70" x2="1489.50" y2="926.70" stroke="#000" stroke-width="3.5"/>
<text x="1489.50" y="943.40" font-family="Liberation Serif, Times New Roman, serif" font-size="15.1" text-anchor="middle">2</text>
<line x1="1676.70" y1="916.70" x2="1676.70" y2="926.70" stroke="#000" stroke-width="3.5"/>
<text x="1676.70" y="943.40" font-family="Liberation Serif, Times New Roman, serif" font-size="15.1" text-anchor="middle">3</text>
<text x="1396.00" y="965.50" font-family="Liberation Serif, Times New Roman, serif" font-size="17.4" text-anchor="middle">(Relative Abundance)</text>
<text x="1141.00" y="953.00" font-family="Liberation Serif, Times New Roman, serif" font-size="29.1">Cellular Processes</text>
<rect x="1292.10" y="1095.00" width="360.10" height="7.00" fill="#5A9E96"/>
<line x1="1652.20" y1="1098.50" x2="1656.20" y2="1098.50" stroke="#5A9E96" stroke-width="1"/>
<line x1="1656.20" y1="1096.54" x2="1656.20" y2="1100.46" stroke="#5A9E96" stroke-width="1"/>
<text x="1658.70" y="1102.93" font-family="Liberation Sans, Arial, Helvetica, sans-serif" font-size="12.3" font-weight="bold">##</text>
<rect x="1292.10" y="1105.30" width="357.50" height="7.00" fill="#141B2B"/>
<line x1="1649.60" y1="1108.80" x2="1654.60" y2="1108.80" stroke="#141B2B" stroke-width="1"/>
<line x1="1654.60" y1="1106.84" x2="1654.60" y2="1110.76" stroke="#141B2B" stroke-width="1"/>
<text x="1657.10" y="1113.23" font-family="Liberation Sans, Arial, Helvetica, sans-serif" font-size="12.3" font-weight="bold">##&amp;</text>
<rect x="1292.10" y="1115.60" width="367.80" height="7.00" fill="#DDA24C"/>
<line x1="1659.90" y1="1119.10" x2="1667.90" y2="1119.10" stroke="#DDA24C" stroke-width="1"/>
<line x1="1667.90" y1="1117.14" x2="1667.90" y2="1121.06" stroke="#DDA24C" stroke-width="1"/>
<rect x="1292.10" y="1125.90" width="367.80" height="7.00" fill="#C8371D"/>
<line x1="1659.90" y1="1129.40" x2="1662.90" y2="1129.40" stroke="#C8371D" stroke-width="1"/>
<line x1="1662.90" y1="1127.44" x2="1662.90" y2="1131.36" stroke="#C8371D" stroke-width="1"/>
<rect x="1292.10" y="1136.20" width="366.50" height="7.00" fill="#3F7BA0"/>
<line x1="1658.60" y1="1139.70" x2="1662.60" y2="1139.70" stroke="#3F7BA0" stroke-width="1"/>
<line x1="1662.60" y1="1137.74" x2="1662.60" y2="1141.66" stroke="#3F7BA0" stroke-width="1"/>
<line x1="1283.10" y1="1119.10" x2="1292.10" y2="1119.10" stroke="#000" stroke-width="3.3"/>
<text x="1278.00" y="1123.92" font-family="Liberation Serif, Times New Roman, serif" font-size="14.4" text-anchor="end">Cell wall/membrane/envelope biogenesis</text>
<rect x="1292.10" y="1153.20" width="176.40" height="7.00" fill="#5A9E96"/>
<line x1="1468.50" y1="1156.70" x2="1470.50" y2="1156.70" stroke="#5A9E96" stroke-width="1"/>
<line x1="1470.50" y1="1154.74" x2="1470.50" y2="1158.66" stroke="#5A9E96" stroke-width="1"/>
<text x="1473.00" y="1161.13" font-family="Liberation Sans, Arial, Helvetica, sans-serif" font-size="12.3" font-weight="bold">##</text>
<rect x="1292.10" y="1163.50" width="178.50" height="7.00" fill="#141B2B"/>
<line x1="1470.60" y1="1167.00" x2="1474.60" y2="1167.00" stroke="#141B2B" stroke-width="1"/>
<line x1="1474.60" y1="1165.04" x2="1474.60" y2="1168.96" stroke="#141B2B" stroke-width="1"/>
<text x="1477.10" y="1171.43" font-family="Liberation Sans, Arial, Helvetica, sans-serif" font-size="12.3" font-weight="bold">#</text>
<rect x="1292.10" y="1173.80" width="177.70" height="7.00" fill="#DDA24C"/>
<line x1="1469.80" y1="1177.30" x2="1480.80" y2="1177.30" stroke="#DDA24C" stroke-width="1"/>
<line x1="1480.80" y1="1175.34" x2="1480.80" y2="1179.26" stroke="#DDA24C" stroke-width="1"/>
<text x="1483.30" y="1181.73" font-family="Liberation Sans, Arial, Helvetica, sans-serif" font-size="12.3" font-weight="bold">#</text>
<rect x="1292.10" y="1184.10" width="185.80" height="7.00" fill="#C8371D"/>
<line x1="1477.90" y1="1187.60" x2="1478.90" y2="1187.60" stroke="#C8371D" stroke-width="1"/>
<line x1="1478.90" y1="1185.64" x2="1478.90" y2="1189.56" stroke="#C8371D" stroke-width="1"/>
<rect x="1292.10" y="1194.40" width="187.10" height="7.00" fill="#3F7BA0"/>
<line x1="1479.20" y1="1197.90" x2="1485.20" y2="1197.90" stroke="#3F7BA0" stroke-width="1"/>
<line x1="1485.20" y1="1195.94" x2="1485.20" y2="1199.86" stroke="#3F7BA0" stroke-width="1"/>
<line x1="1283.10" y1="1177.30" x2="1292.10" y2="1177.30" stroke="#000" stroke-width="3.3"/>
<text x="1278.00" y="1182.12" font-family="Liberation Serif, Times New Roman, serif" font-size="14.4" text-anchor="end">Coenzyme transport and metabolism</text>
<rect x="1292.10" y="1211.30" width="380.70" height="7.00" fill="#5A9E96"/>
<line x1="1672.80" y1="1214.80" x2="1679.80" y2="1214.80" stroke="#5A9E96" stroke-width="1"/>
<line x1="1679.80" y1="1212.84" x2="1679.80" y2="1216.76" stroke="#5A9E96" stroke-width="1"/>
<rect x="1292.10" y="1221.60" width="391.40" height="7.00" fill="#141B2B"/>
<line x1="1683.50" y1="1225.10" x2="1695.50" y2="1225.10" stroke="#141B2B" stroke-width="1"/>
<line x1="1695.50" y1="1223.14" x2="1695.50" y2="1227.06" stroke="#141B2B" stroke-width="1"/>
<rect x="1292.10" y="1231.90" width="381.10" height="7.00" fill="#DDA24C"/>
<line x1="1673.20" y1="1235.40" x2="1686.20" y2="1235.40" stroke="#DDA24C" stroke-width="1"/>
<line x1="1686.20" y1="1233.44" x2="1686.20" y2="1237.36" stroke="#DDA24C" stroke-width="1"/>
<rect x="1292.10" y="1242.20" width="383.70" height="7.00" fill="#C8371D"/>
<line x1="1675.80" y1="1245.70" x2="1680.80" y2="1245.70" stroke="#C8371D" stroke-width="1"/>
<line x1="1680.80" y1="1243.74" x2="1680.80" y2="1247.66" stroke="#C8371D" stroke-width="1"/>
<text x="1683.80" y="1254.19" font-family="Liberation Sans, Arial, Helvetica, sans-serif" font-size="18.450000000000003" font-weight="bold" letter-spacing="0.5">*</text>
<rect x="1292.10" y="1252.50" width="370.40" height="7.00" fill="#3F7BA0"/>
<line x1="1662.50" y1="1256.00" x2="1669.50" y2="1256.00" stroke="#3F7BA0" stroke-width="1"/>
<line x1="1669.50" y1="1254.04" x2="1669.50" y2="1257.96" stroke="#3F7BA0" stroke-width="1"/>
<line x1="1283.10" y1="1235.40" x2="1292.10" y2="1235.40" stroke="#000" stroke-width="3.3"/>
<text x="1278.00" y="1240.22" font-family="Liberation Serif, Times New Roman, serif" font-size="14.4" text-anchor="end">Carbohydrate transport and metabolism</text>
<rect x="1292.10" y="1269.50" width="174.20" height="7.00" fill="#5A9E96"/>
<line x1="1466.30" y1="1273.00" x2="1469.30" y2="1273.00" stroke="#5A9E96" stroke-width="1"/>
<line x1="1469.30" y1="1271.04" x2="1469.30" y2="1274.96" stroke="#5A9E96" stroke-width="1"/>
<text x="1471.80" y="1277.43" font-family="Liberation Sans, Arial, Helvetica, sans-serif" font-size="12.3" font-weight="bold">#</text>
<rect x="1292.10" y="1279.80" width="170.40" height="7.00" fill="#141B2B"/>
<line x1="1462.50" y1="1283.30" x2="1464.50" y2="1283.30" stroke="#141B2B" stroke-width="1"/>
<line x1="1464.50" y1="1281.34" x2="1464.50" y2="1285.26" stroke="#141B2B" stroke-width="1"/>
<text x="1467.00" y="1287.73" font-family="Liberation Sans, Arial, Helvetica, sans-serif" font-size="12.3" font-weight="bold">##</text>
<rect x="1292.10" y="1290.10" width="173.40" height="7.00" fill="#DDA24C"/>
<line x1="1465.50" y1="1293.60" x2="1474.50" y2="1293.60" stroke="#DDA24C" stroke-width="1"/>
<line x1="1474.50" y1="1291.64" x2="1474.50" y2="1295.56" stroke="#DDA24C" stroke-width="1"/>
<rect x="1292.10" y="1300.40" width="177.30" height="7.00" fill="#C8371D"/>
<line x1="1469.40" y1="1303.90" x2="1471.40" y2="1303.90" stroke="#C8371D" stroke-width="1"/>
<line x1="1471.40" y1="1301.94" x2="1471.40" y2="1305.86" stroke="#C8371D" stroke-width="1"/>
<rect x="1292.10" y="1310.70" width="176.80" height="7.00" fill="#3F7BA0"/>
<line x1="1468.90" y1="1314.20" x2="1471.90" y2="1314.20" stroke="#3F7BA0" stroke-width="1"/>
<line x1="1471.90" y1="1312.24" x2="1471.90" y2="1316.16" stroke="#3F7BA0" stroke-width="1"/>
<line x1="1283.10" y1="1293.60" x2="1292.10" y2="1293.60" stroke="#000" stroke-width="3.3"/>
<text x="1278.00" y="1298.42" font-family="Liberation Serif, Times New Roman, serif" font-size="14.4" text-anchor="end">Nucleotide transport and metabolism</text>
<rect x="1292.10" y="1327.60" width="330.00" height="7.00" fill="#5A9E96"/>
<line x1="1622.10" y1="1331.10" x2="1628.10" y2="1331.10" stroke="#5A9E96" stroke-width="1"/>
<line x1="1628.10" y1="1329.14" x2="1628.10" y2="1333.06" stroke="#5A9E96" stroke-width="1"/>
<text x="1630.60" y="1335.53" font-family="Liberation Sans, Arial, Helvetica, sans-serif" font-size="12.3" font-weight="bold">#</text>
<rect x="1292.10" y="1337.90" width="332.60" height="7.00" fill="#141B2B"/>
<line x1="1624.70" y1="1341.40" x2="1629.70" y2="1341.40" stroke="#141B2B" stroke-width="1"/>
<line x1="1629.70" y1="1339.44" x2="1629.70" y2="1343.36" stroke="#141B2B" stroke-width="1"/>
<rect x="1292.10" y="1348.20" width="332.60" height="7.00" fill="#DDA24C"/>
<line x1="1624.70" y1="1351.70" x2="1633.70" y2="1351.70" stroke="#DDA24C" stroke-width="1"/>
<line x1="1633.70" y1="1349.74" x2="1633.70" y2="1353.66" stroke="#DDA24C" stroke-width="1"/>
<rect x="1292.10" y="1358.50" width="338.20" height="7.00" fill="#C8371D"/>
<line x1="1630.30" y1="1362.00" x2="1634.30" y2="1362.00" stroke="#C8371D" stroke-width="1"/>
<line x1="1634.30" y1="1360.04" x2="1634.30" y2="1363.96" stroke="#C8371D" stroke-width="1"/>
<rect x="1292.10" y="1368.80" width="333.90" height="7.00" fill="#3F7BA0"/>
<line x1="1626.00" y1="1372.30" x2="1631.00" y2="1372.30" stroke="#3F7BA0" stroke-width="1"/>
<line x1="1631.00" y1="1370.34" x2="1631.00" y2="1374.26" stroke="#3F7BA0" stroke-width="1"/>
<line x1="1283.10" y1="1351.70" x2="1292.10" y2="1351.70" stroke="#000" stroke-width="3.3"/>
<text x="1278.00" y="1356.52" font-family="Liberation Serif, Times New Roman, serif" font-size="14.4" text-anchor="end">Amino acid transport and metabolism</text>
<line x1="1292.10" y1="1090.80" x2="1292.10" y2="1380.45" stroke="#000" stroke-width="3.3"/>
<line x1="1290.45" y1="1378.80" x2="1724.25" y2="1378.80" stroke="#000" stroke-width="3.3"/>
<line x1="1292.10" y1="1378.80" x2="1292.10" y2="1388.00" stroke="#000" stroke-width="3.3"/>
<text x="1292.10" y="1404.50" font-family="Liberation Serif, Times New Roman, serif" font-size="15.7" text-anchor="middle">0</text>
<line x1="1435.60" y1="1378.80" x2="1435.60" y2="1388.00" stroke="#000" stroke-width="3.3"/>
<text x="1435.60" y="1404.50" font-family="Liberation Serif, Times New Roman, serif" font-size="15.7" text-anchor="middle">2</text>
<line x1="1579.10" y1="1378.80" x2="1579.10" y2="1388.00" stroke="#000" stroke-width="3.3"/>
<text x="1579.10" y="1404.50" font-family="Liberation Serif, Times New Roman, serif" font-size="15.7" text-anchor="middle">4</text>
<line x1="1722.60" y1="1378.80" x2="1722.60" y2="1388.00" stroke="#000" stroke-width="3.3"/>
<text x="1722.60" y="1404.50" font-family="Liberation Serif, Times New Roman, serif" font-size="15.7" text-anchor="middle">6</text>
<text x="1509.00" y="1427.50" font-family="Liberation Serif, Times New Roman, serif" font-size="17.2" text-anchor="middle">(Relative Abundance)</text>
<rect x="152.00" y="1422.82" width="20.80" height="1.38" fill="#F08A86"/>
<text x="162.40" y="1451.50" font-family="Liberation Sans, Arial, Helvetica, sans-serif" font-size="8.4" text-anchor="middle" fill="#222">A</text>
<rect x="767.30" y="1058.20" width="6.40" height="5.60" fill="#F08A86"/>
<text x="781.80" y="1064.10" font-family="Liberation Sans, Arial, Helvetica, sans-serif" font-size="8.5" fill="#111">A :  RNA processing and modification</text>
<text x="187.70" y="1451.50" font-family="Liberation Sans, Arial, Helvetica, sans-serif" font-size="8.4" text-anchor="middle" fill="#222">B</text>
<rect x="767.30" y="1071.04" width="6.40" height="5.60" fill="#FBC4BA"/>
<text x="781.80" y="1076.94" font-family="Liberation Sans, Arial, Helvetica, sans-serif" font-size="8.5" fill="#111">B :  Chromatin structure and dynamics</text>
<rect x="202.61" y="1365.77" width="20.80" height="58.43" fill="#DE8F6E"/>
<text x="213.01" y="1451.50" font-family="Liberation Sans, Arial, Helvetica, sans-serif" font-size="8.4" text-anchor="middle" fill="#222">C</text>
<rect x="767.30" y="1083.88" width="6.40" height="5.60" fill="#DE8F6E"/>
<text x="781.80" y="1089.78" font-family="Liberation Sans, Arial, Helvetica, sans-serif" font-size="8.5" fill="#111">C :  Energy production and conversion</text>
<rect x="227.91" y="1390.62" width="20.80" height="33.58" fill="#2A8FA5"/>
<text x="238.31" y="1451.50" font-family="Liberation Sans, Arial, Helvetica, sans-serif" font-size="8.4" text-anchor="middle" fill="#222">D</text>
<rect x="767.30" y="1096.73" width="6.40" height="5.60" fill="#2A8FA5"/>
<text x="781.80" y="1102.63" font-family="Liberation Sans, Arial, Helvetica, sans-serif" font-size="8.5" fill="#111">D :  Cell cycle control, cell division, chromosome partitioning</text>
<rect x="253.22" y="1342.77" width="20.80" height="81.43" fill="#90C7AE"/>
<text x="263.62" y="1451.50" font-family="Liberation Sans, Arial, Helvetica, sans-serif" font-size="8.4" text-anchor="middle" fill="#222">E</text>
<rect x="767.30" y="1109.57" width="6.40" height="5.60" fill="#90C7AE"/>
<text x="781.80" y="1115.47" font-family="Liberation Sans, Arial, Helvetica, sans-serif" font-size="8.5" fill="#111">E :  Amino acid transport and metabolism</text>
<rect x="278.52" y="1381.88" width="20.80" height="42.32" fill="#F7E8A4"/>
<text x="288.92" y="1451.50" font-family="Liberation Sans, Arial, Helvetica, sans-serif" font-size="8.4" text-anchor="middle" fill="#222">F</text>
<rect x="767.30" y="1122.41" width="6.40" height="5.60" fill="#F7E8A4"/>
<text x="781.80" y="1128.31" font-family="Liberation Sans, Arial, Helvetica, sans-serif" font-size="8.5" fill="#111">F :  Nucleotide transport and metabolism</text>
<rect x="303.83" y="1329.89" width="20.80" height="94.31" fill="#CF4F4F"/>
<text x="314.23" y="1451.50" font-family="Liberation Sans, Arial, Helvetica, sans-serif" font-size="8.4" text-anchor="middle" fill="#222">G</text>
<rect x="767.30" y="1135.25" width="6.40" height="5.60" fill="#CF4F4F"/>
<text x="781.80" y="1141.15" font-family="Liberation Sans, Arial, Helvetica, sans-serif" font-size="8.5" fill="#111">G :  Carbohydrate transport and metabolism</text>
<rect x="329.13" y="1378.20" width="20.80" height="46.00" fill="#F4A660"/>
<text x="339.53" y="1451.50" font-family="Liberation Sans, Arial, Helvetica, sans-serif" font-size="8.4" text-anchor="middle" fill="#222">H</text>
<rect x="767.30" y="1148.09" width="6.40" height="5.60" fill="#F4A660"/>
<text x="781.80" y="1153.99" font-family="Liberation Sans, Arial, Helvetica, sans-serif" font-size="8.5" fill="#111">H :  Coenzyme transport and metabolism</text>
<rect x="354.44" y="1396.14" width="20.80" height="28.06" fill="#5BBDB8"/>
<text x="364.84" y="1451.50" font-family="Liberation Sans, Arial, Helvetica, sans-serif" font-size="8.4" text-anchor="middle" fill="#222">I</text>
<rect x="767.30" y="1160.94" width="6.40" height="5.60" fill="#5BBDB8"/>
<text x="781.80" y="1166.84" font-family="Liberation Sans, Arial, Helvetica, sans-serif" font-size="8.5" fill="#111">I :  Lipid transport and metabolism</text>
<rect x="379.74" y="1347.37" width="20.80" height="76.83" fill="#DC4F7C"/>
<text x="390.14" y="1451.50" font-family="Liberation Sans, Arial, Helvetica, sans-serif" font-size="8.4" text-anchor="middle" fill="#222">J</text>
<rect x="767.30" y="1173.78" width="6.40" height="5.60" fill="#DC4F7C"/>
<text x="781.80" y="1179.68" font-family="Liberation Sans, Arial, Helvetica, sans-serif" font-size="8.5" fill="#111">J :  Translation, ribosomal structure and biogenesis</text>
<rect x="405.05" y="1312.41" width="20.80" height="111.79" fill="#7B8FC8"/>
<text x="415.45" y="1451.50" font-family="Liberation Sans, Arial, Helvetica, sans-serif" font-size="8.4" text-anchor="middle" fill="#222">K</text>
<rect x="767.30" y="1186.62" width="6.40" height="5.60" fill="#7B8FC8"/>
<text x="781.80" y="1192.52" font-family="Liberation Sans, Arial, Helvetica, sans-serif" font-size="8.5" fill="#111">K :  Transcription</text>
<rect x="430.35" y="1294.01" width="20.80" height="130.19" fill="#F5DD6B"/>
<text x="440.75" y="1451.50" font-family="Liberation Sans, Arial, Helvetica, sans-serif" font-size="8.4" text-anchor="middle" fill="#222">L</text>
<rect x="767.30" y="1199.46" width="6.40" height="5.60" fill="#F5DD6B"/>
<text x="781.80" y="1205.36" font-family="Liberation Sans, Arial, Helvetica, sans-serif" font-size="8.5" fill="#111">L :  Replication, recombination and repair</text>
<rect x="455.65" y="1323.45" width="20.80" height="100.75" fill="#D2421A"/>
<text x="466.05" y="1451.50" font-family="Liberation Sans, Arial, Helvetica, sans-serif" font-size="8.4" text-anchor="middle" fill="#222">M</text>
<rect x="767.30" y="1212.30" width="6.40" height="5.60" fill="#D2421A"/>
<text x="781.80" y="1218.20" font-family="Liberation Sans, Arial, Helvetica, sans-serif" font-size="8.5" fill="#111">M :  Cell wall/membrane/envelope biogenesis</text>
<rect x="480.96" y="1397.06" width="20.80" height="27.14" fill="#E99631"/>
<text x="491.36" y="1451.50" font-family="Liberation Sans, Arial, Helvetica, sans-serif" font-size="8.4" text-anchor="middle" fill="#222">N</text>
<rect x="767.30" y="1225.15" width="6.40" height="5.60" fill="#E99631"/>
<text x="781.80" y="1231.05" font-family="Liberation Sans, Arial, Helvetica, sans-serif" font-size="8.5" fill="#111">N :  Cell motility</text>
<rect x="506.26" y="1388.78" width="20.80" height="35.42" fill="#EEC84E"/>
<text x="516.66" y="1451.50" font-family="Liberation Sans, Arial, Helvetica, sans-serif" font-size="8.4" text-anchor="middle" fill="#222">O</text>
<rect x="767.30" y="1237.99" width="6.40" height="5.60" fill="#EEC84E"/>
<text x="781.80" y="1243.89" font-family="Liberation Sans, Arial, Helvetica, sans-serif" font-size="8.5" fill="#111">O :  Posttranslational modification, protein turnover, chaperones</text>
<rect x="531.57" y="1363.93" width="20.80" height="60.27" fill="#86B94F"/>
<text x="541.97" y="1451.50" font-family="Liberation Sans, Arial, Helvetica, sans-serif" font-size="8.4" text-anchor="middle" fill="#222">P</text>
<rect x="767.30" y="1250.83" width="6.40" height="5.60" fill="#86B94F"/>
<text x="781.80" y="1256.73" font-family="Liberation Sans, Arial, Helvetica, sans-serif" font-size="8.5" fill="#111">P :  Inorganic ion transport and metabolism</text>
<rect x="556.87" y="1407.18" width="20.80" height="17.02" fill="#3F8BC8"/>
<text x="567.27" y="1451.50" font-family="Liberation Sans, Arial, Helvetica, sans-serif" font-size="8.4" text-anchor="middle" fill="#222">Q</text>
<rect x="767.30" y="1263.67" width="6.40" height="5.60" fill="#3F8BC8"/>
<text x="781.80" y="1269.57" font-family="Liberation Sans, Arial, Helvetica, sans-serif" font-size="8.5" fill="#111">Q :  Secondary metabolites biosynthesis, transport and catabolism</text>
<rect x="582.18" y="1095.27" width="20.80" height="328.93" fill="#F5D360"/>
<text x="592.58" y="1451.50" font-family="Liberation Sans, Arial, Helvetica, sans-serif" font-size="8.4" text-anchor="middle" fill="#222">S</text>
<rect x="767.30" y="1276.51" width="6.40" height="5.60" fill="#F5D360"/>
<text x="781.80" y="1282.41" font-family="Liberation Sans, Arial, Helvetica, sans-serif" font-size="8.5" fill="#111">S :  Function unknown</text>
<rect x="607.48" y="1354.73" width="20.80" height="69.47" fill="#EB6B5A"/>
<text x="617.88" y="1451.50" font-family="Liberation Sans, Arial, Helvetica, sans-serif" font-size="8.4" text-anchor="middle" fill="#222">T</text>
<rect x="767.30" y="1289.36" width="6.40" height="5.60" fill="#EB6B5A"/>
<text x="781.80" y="1295.26" font-family="Liberation Sans, Arial, Helvetica, sans-serif" font-size="8.5" fill="#111">T :  Signal transduction mechanisms</text>
<rect x="632.79" y="1389.24" width="20.80" height="34.96" fill="#EC9B55"/>
<text x="643.19" y="1451.50" font-family="Liberation Sans, Arial, Helvetica, sans-serif" font-size="8.4" text-anchor="middle" fill="#222">U</text>
<rect x="767.30" y="1302.20" width="6.40" height="5.60" fill="#EC9B55"/>
<text x="781.80" y="1308.10" font-family="Liberation Sans, Arial, Helvetica, sans-serif" font-size="8.5" fill="#111">U :  Intracellular trafficking, secretion, and vesicular transport</text>
<rect x="658.09" y="1378.20" width="20.80" height="46.00" fill="#23807F"/>
<text x="668.49" y="1451.50" font-family="Liberation Sans, Arial, Helvetica, sans-serif" font-size="8.4" text-anchor="middle" fill="#222">V</text>
<rect x="767.30" y="1315.04" width="6.40" height="5.60" fill="#23807F"/>
<text x="781.80" y="1320.94" font-family="Liberation Sans, Arial, Helvetica, sans-serif" font-size="8.5" fill="#111">V :  Defense mechanisms</text>
<rect x="683.40" y="1423.88" width="20.80" height="0.80" fill="#E4E4E4"/>
<text x="693.80" y="1451.50" font-family="Liberation Sans, Arial, Helvetica, sans-serif" font-size="8.4" text-anchor="middle" fill="#222">W</text>
<rect x="767.30" y="1327.88" width="6.40" height="5.60" fill="#E4E4E4"/>
<text x="781.80" y="1333.78" font-family="Liberation Sans, Arial, Helvetica, sans-serif" font-size="8.5" fill="#111">W :  Extracellular structures</text>
<rect x="708.70" y="1422.82" width="20.80" height="1.38" fill="#D9364F"/>
<text x="719.10" y="1451.50" font-family="Liberation Sans, Arial, Helvetica, sans-serif" font-size="8.4" text-anchor="middle" fill="#222">Z</text>
<rect x="767.30" y="1340.72" width="6.40" height="5.60" fill="#D9364F"/>
<text x="781.80" y="1346.62" font-family="Liberation Sans, Arial, Helvetica, sans-serif" font-size="8.5" fill="#111">Z :  Cytoskeleton</text>
<line x1="128.80" y1="1056.10" x2="128.80" y2="1424.20" stroke="#333" stroke-width="1"/>
<line x1="121.00" y1="1424.20" x2="128.80" y2="1424.20" stroke="#333" stroke-width="1"/>
<text x="113.40" y="1427.20" font-family="Liberation Sans, Arial, Helvetica, sans-serif" font-size="8.5" text-anchor="end" fill="#222">0</text>
<line x1="121.00" y1="1362.85" x2="128.80" y2="1362.85" stroke="#333" stroke-width="1"/>
<text x="113.40" y="1365.85" font-family="Liberation Sans, Arial, Helvetica, sans-serif" font-size="8.5" text-anchor="end" fill="#222">50000</text>
<line x1="121.00" y1="1301.50" x2="128.80" y2="1301.50" stroke="#333" stroke-width="1"/>
<text x="113.40" y="1304.50" font-family="Liberation Sans, Arial, Helvetica, sans-serif" font-size="8.5" text-anchor="end" fill="#222">100000</text>
<line x1="121.00" y1="1240.15" x2="128.80" y2="1240.15" stroke="#333" stroke-width="1"/>
<text x="113.40" y="1243.15" font-family="Liberation Sans, Arial, Helvetica, sans-serif" font-size="8.5" text-anchor="end" fill="#222">150000</text>
<line x1="121.00" y1="1178.80" x2="128.80" y2="1178.80" stroke="#333" stroke-width="1"/>
<text x="113.40" y="1181.80" font-family="Liberation Sans, Arial, Helvetica, sans-serif" font-size="8.5" text-anchor="end" fill="#222">200000</text>
<line x1="121.00" y1="1117.45" x2="128.80" y2="1117.45" stroke="#333" stroke-width="1"/>
<text x="113.40" y="1120.45" font-family="Liberation Sans, Arial, Helvetica, sans-serif" font-size="8.5" text-anchor="end" fill="#222">250000</text>
<line x1="121.00" y1="1056.10" x2="128.80" y2="1056.10" stroke="#333" stroke-width="1"/>
<text x="113.40" y="1059.10" font-family="Liberation Sans, Arial, Helvetica, sans-serif" font-size="8.5" text-anchor="end" fill="#222">300000</text>
<text transform="translate(64.20 1226.50) rotate(-90)" font-family="Liberation Sans, Arial, Helvetica, sans-serif" font-size="12.7" text-anchor="middle" fill="#222">Number of unigenes</text>
<rect x="121.60" y="1501.60" width="45.80" height="22.30" fill="#3F7BA0"/>
<rect x="165.10" y="1500.70" width="3.20" height="2.20" fill="#3F7BA0"/>
<text x="193.10" y="1523.20" font-family="Liberation Serif, Times New Roman, serif" font-size="34" letter-spacing="-0.3">NC</text>
<rect x="431.90" y="1500.60" width="45.80" height="22.30" fill="#C8371D"/>
<rect x="475.40" y="1499.70" width="3.20" height="2.20" fill="#C8371D"/>
<text x="503.90" y="1522.20" font-family="Liberation Serif, Times New Roman, serif" font-size="34" letter-spacing="-0.3">DKD</text>
<rect x="785.90" y="1500.60" width="45.80" height="22.30" fill="#DDA24C"/>
<rect x="829.40" y="1499.70" width="3.20" height="2.20" fill="#DDA24C"/>
<text x="857.40" y="1521.70" font-family="Liberation Serif, Times New Roman, serif" font-size="34" letter-spacing="-0.3">MET</text>
<rect x="1157.10" y="1498.70" width="45.80" height="22.30" fill="#141B2B"/>
<rect x="1200.60" y="1497.80" width="3.20" height="2.20" fill="#141B2B"/>
<text x="1228.30" y="1521.10" font-family="Liberation Serif, Times New Roman, serif" font-size="34" letter-spacing="-0.3">MV</text>
<rect x="1487.20" y="1501.30" width="45.80" height="22.30" fill="#5A9E96"/>
<rect x="1530.70" y="1500.40" width="3.20" height="2.20" fill="#5A9E96"/>
<text x="1559.60" y="1522.60" font-family="Liberation Sans, Arial, Helvetica, sans-serif" font-size="34" letter-spacing="-2.5">ML</text>
<g shape-rendering="crispEdges">
<rect x="238.50" y="1625.70" width="21.70" height="21.66" fill="#eaa3ac"/>
<rect x="259.90" y="1625.70" width="21.70" height="21.66" fill="#e6ecf6"/>
<rect x="281.30" y="1625.70" width="21.70" height="21.66" fill="#f8f7fc"/>
<rect x="302.70" y="1625.70" width="21.70" height="21.66" fill="#cbd1e4"/>
<rect x="324.10" y="1625.70" width="21.70" height="21.66" fill="#b4bad8"/>
<rect x="238.50" y="1647.06" width="21.70" height="21.66" fill="#97a0c4"/>
<rect x="259.90" y="1647.06" width="21.70" height="21.66" fill="#efb0b3"/>
<rect x="281.30" y="1647.06" width="21.70" height="21.66" fill="#eaa3ac"/>
<rect x="302.70" y="1647.06" width="21.70" height="21.66" fill="#fff0ef"/>
<rect x="324.10" y="1647.06" width="21.70" height="21.66" fill="#f4c1c3"/>
<rect x="238.50" y="1668.42" width="21.70" height="21.66" fill="#c9283a"/>
<rect x="259.90" y="1668.42" width="21.70" height="21.66" fill="#ce3744"/>
<rect x="281.30" y="1668.42" width="21.70" height="21.66" fill="#d96468"/>
<rect x="302.70" y="1668.42" width="21.70" height="21.66" fill="#ce3744"/>
<rect x="324.10" y="1668.42" width="21.70" height="21.66" fill="#7585b3"/>
<rect x="238.50" y="1689.78" width="21.70" height="21.66" fill="#7585b3"/>
<rect x="259.90" y="1689.78" width="21.70" height="21.66" fill="#f6d0d2"/>
<rect x="281.30" y="1689.78" width="21.70" height="21.66" fill="#efb0b3"/>
<rect x="302.70" y="1689.78" width="21.70" height="21.66" fill="#f8f7fc"/>
<rect x="324.10" y="1689.78" width="21.70" height="21.66" fill="#f4c1c3"/>
<rect x="238.50" y="1711.14" width="21.70" height="21.66" fill="#d96468"/>
<rect x="259.90" y="1711.14" width="21.70" height="21.66" fill="#e28b91"/>
<rect x="281.30" y="1711.14" width="21.70" height="21.66" fill="#de7376"/>
<rect x="302.70" y="1711.14" width="21.70" height="21.66" fill="#f6d0d2"/>
<rect x="324.10" y="1711.14" width="21.70" height="21.66" fill="#3a5492"/>
<rect x="238.50" y="1732.50" width="21.70" height="21.66" fill="#5f77a5"/>
<rect x="259.90" y="1732.50" width="21.70" height="21.66" fill="#e6ecf6"/>
<rect x="281.30" y="1732.50" width="21.70" height="21.66" fill="#e6ecf6"/>
<rect x="302.70" y="1732.50" width="21.70" height="21.66" fill="#e6ecf6"/>
<rect x="324.10" y="1732.50" width="21.70" height="21.66" fill="#d65557"/>
<rect x="238.50" y="1753.86" width="21.70" height="21.66" fill="#97a0c4"/>
<rect x="259.90" y="1753.86" width="21.70" height="21.66" fill="#efb0b3"/>
<rect x="281.30" y="1753.86" width="21.70" height="21.66" fill="#eaa3ac"/>
<rect x="302.70" y="1753.86" width="21.70" height="21.66" fill="#fbe0e0"/>
<rect x="324.10" y="1753.86" width="21.70" height="21.66" fill="#efb0b3"/>
<rect x="238.50" y="1775.22" width="21.70" height="21.66" fill="#7585b3"/>
<rect x="259.90" y="1775.22" width="21.70" height="21.66" fill="#cbd1e4"/>
<rect x="281.30" y="1775.22" width="21.70" height="21.66" fill="#b8bedc"/>
<rect x="302.70" y="1775.22" width="21.70" height="21.66" fill="#e6ecf6"/>
<rect x="324.10" y="1775.22" width="21.70" height="21.66" fill="#de7376"/>
<rect x="238.50" y="1796.58" width="21.70" height="21.66" fill="#97a0c4"/>
<rect x="259.90" y="1796.58" width="21.70" height="21.66" fill="#cbd1e4"/>
<rect x="281.30" y="1796.58" width="21.70" height="21.66" fill="#a0aecb"/>
<rect x="302.70" y="1796.58" width="21.70" height="21.66" fill="#f8f7fc"/>
<rect x="324.10" y="1796.58" width="21.70" height="21.66" fill="#c9283a"/>
<rect x="238.50" y="1817.94" width="21.70" height="21.66" fill="#a0aecb"/>
<rect x="259.90" y="1817.94" width="21.70" height="21.66" fill="#f8f7fc"/>
<rect x="281.30" y="1817.94" width="21.70" height="21.66" fill="#dcdbec"/>
<rect x="302.70" y="1817.94" width="21.70" height="21.66" fill="#ffffff"/>
<rect x="324.10" y="1817.94" width="21.70" height="21.66" fill="#d1444d"/>
<rect x="238.50" y="1839.30" width="21.70" height="21.66" fill="#97a0c4"/>
<rect x="259.90" y="1839.30" width="21.70" height="21.66" fill="#efb0b3"/>
<rect x="281.30" y="1839.30" width="21.70" height="21.66" fill="#eaa3ac"/>
<rect x="302.70" y="1839.30" width="21.70" height="21.66" fill="#fff0ef"/>
<rect x="324.10" y="1839.30" width="21.70" height="21.66" fill="#efb0b3"/>
<rect x="238.50" y="1860.66" width="21.70" height="21.66" fill="#8795bb"/>
<rect x="259.90" y="1860.66" width="21.70" height="21.66" fill="#f6d0d2"/>
<rect x="281.30" y="1860.66" width="21.70" height="21.66" fill="#f4c1c3"/>
<rect x="302.70" y="1860.66" width="21.70" height="21.66" fill="#ffffff"/>
<rect x="324.10" y="1860.66" width="21.70" height="21.66" fill="#eaa3ac"/>
<rect x="238.50" y="1882.02" width="21.70" height="21.66" fill="#8795bb"/>
<rect x="259.90" y="1882.02" width="21.70" height="21.66" fill="#f6d0d2"/>
<rect x="281.30" y="1882.02" width="21.70" height="21.66" fill="#f4c1c3"/>
<rect x="302.70" y="1882.02" width="21.70" height="21.66" fill="#ffffff"/>
<rect x="324.10" y="1882.02" width="21.70" height="21.66" fill="#eaa3ac"/>
<rect x="238.50" y="1903.38" width="21.70" height="21.66" fill="#a0aecb"/>
<rect x="259.90" y="1903.38" width="21.70" height="21.66" fill="#dcdbec"/>
<rect x="281.30" y="1903.38" width="21.70" height="21.66" fill="#dcdbec"/>
<rect x="302.70" y="1903.38" width="21.70" height="21.66" fill="#f8f7fc"/>
<rect x="324.10" y="1903.38" width="21.70" height="21.66" fill="#f6d0d2"/>
<rect x="238.50" y="1924.74" width="21.70" height="21.66" fill="#7282b0"/>
<rect x="259.90" y="1924.74" width="21.70" height="21.66" fill="#b4bad8"/>
<rect x="281.30" y="1924.74" width="21.70" height="21.66" fill="#97a0c4"/>
<rect x="302.70" y="1924.74" width="21.70" height="21.66" fill="#e6ecf6"/>
<rect x="324.10" y="1924.74" width="21.70" height="21.66" fill="#ce3744"/>
<rect x="238.50" y="1946.10" width="21.70" height="21.66" fill="#97a0c4"/>
<rect x="259.90" y="1946.10" width="21.70" height="21.66" fill="#eaa3ac"/>
<rect x="281.30" y="1946.10" width="21.70" height="21.66" fill="#eaa3ac"/>
<rect x="302.70" y="1946.10" width="21.70" height="21.66" fill="#fbe0e0"/>
<rect x="324.10" y="1946.10" width="21.70" height="21.66" fill="#f4c1c3"/>
<rect x="238.50" y="1967.46" width="21.70" height="21.66" fill="#c9283a"/>
<rect x="259.90" y="1967.46" width="21.70" height="21.66" fill="#d1444d"/>
<rect x="281.30" y="1967.46" width="21.70" height="21.66" fill="#d65557"/>
<rect x="302.70" y="1967.46" width="21.70" height="21.66" fill="#d96468"/>
<rect x="324.10" y="1967.46" width="21.70" height="21.66" fill="#4b679d"/>
<rect x="238.50" y="1988.82" width="21.70" height="21.66" fill="#a0aecb"/>
<rect x="259.90" y="1988.82" width="21.70" height="21.66" fill="#efb0b3"/>
<rect x="281.30" y="1988.82" width="21.70" height="21.66" fill="#eaa3ac"/>
<rect x="302.70" y="1988.82" width="21.70" height="21.66" fill="#fbe0e0"/>
<rect x="324.10" y="1988.82" width="21.70" height="21.66" fill="#efb0b3"/>
<rect x="238.50" y="2010.18" width="21.70" height="21.66" fill="#c9283a"/>
<rect x="259.90" y="2010.18" width="21.70" height="21.66" fill="#d96468"/>
<rect x="281.30" y="2010.18" width="21.70" height="21.66" fill="#e18387"/>
<rect x="302.70" y="2010.18" width="21.70" height="21.66" fill="#de7376"/>
<rect x="324.10" y="2010.18" width="21.70" height="21.66" fill="#5f77a5"/>
<rect x="238.50" y="2031.54" width="21.70" height="21.66" fill="#97a0c4"/>
<rect x="259.90" y="2031.54" width="21.70" height="21.66" fill="#efb0b3"/>
<rect x="281.30" y="2031.54" width="21.70" height="21.66" fill="#eaa3ac"/>
<rect x="302.70" y="2031.54" width="21.70" height="21.66" fill="#fff8f7"/>
<rect x="324.10" y="2031.54" width="21.70" height="21.66" fill="#efb0b3"/>
</g>
<line x1="238.50" y1="1647.06" x2="345.50" y2="1647.06" stroke="#fff" stroke-width="0.8" stroke-opacity="0.75"/>
<line x1="238.50" y1="1668.42" x2="345.50" y2="1668.42" stroke="#fff" stroke-width="0.8" stroke-opacity="0.75"/>
<line x1="238.50" y1="1689.78" x2="345.50" y2="1689.78" stroke="#fff" stroke-width="0.8" stroke-opacity="0.75"/>
<line x1="238.50" y1="1711.14" x2="345.50" y2="1711.14" stroke="#fff" stroke-width="0.8" stroke-opacity="0.75"/>
<line x1="238.50" y1="1732.50" x2="345.50" y2="1732.50" stroke="#fff" stroke-width="0.8" stroke-opacity="0.75"/>
<line x1="238.50" y1="1753.86" x2="345.50" y2="1753.86" stroke="#fff" stroke-width="0.8" stroke-opacity="0.75"/>
<line x1="238.50" y1="1775.22" x2="345.50" y2="1775.22" stroke="#fff" stroke-width="0.8" stroke-opacity="0.75"/>
<line x1="238.50" y1="1796.58" x2="345.50" y2="1796.58" stroke="#fff" stroke-width="0.8" stroke-opacity="0.75"/>
<line x1="238.50" y1="1817.94" x2="345.50" y2="1817.94" stroke="#fff" stroke-width="0.8" stroke-opacity="0.75"/>
<line x1="238.50" y1="1839.30" x2="345.50" y2="1839.30" stroke="#fff" stroke-width="0.8" stroke-opacity="0.75"/>
<line x1="238.50" y1="1860.66" x2="345.50" y2="1860.66" stroke="#fff" stroke-width="0.8" stroke-opacity="0.75"/>
<line x1="238.50" y1="1882.02" x2="345.50" y2="1882.02" stroke="#fff" stroke-width="0.8" stroke-opacity="0.75"/>
<line x1="238.50" y1="1903.38" x2="345.50" y2="1903.38" stroke="#fff" stroke-width="0.8" stroke-opacity="0.75"/>
<line x1="238.50" y1="1924.74" x2="345.50" y2="1924.74" stroke="#fff" stroke-width="0.8" stroke-opacity="0.75"/>
<line x1="238.50" y1="1946.10" x2="345.50" y2="1946.10" stroke="#fff" stroke-width="0.8" stroke-opacity="0.75"/>
<line x1="238.50" y1="1967.46" x2="345.50" y2="1967.46" stroke="#fff" stroke-width="0.8" stroke-opacity="0.75"/>
<line x1="238.50" y1="1988.82" x2="345.50" y2="1988.82" stroke="#fff" stroke-width="0.8" stroke-opacity="0.75"/>
<line x1="238.50" y1="2010.18" x2="345.50" y2="2010.18" stroke="#fff" stroke-width="0.8" stroke-opacity="0.75"/>
<line x1="238.50" y1="2031.54" x2="345.50" y2="2031.54" stroke="#fff" stroke-width="0.8" stroke-opacity="0.75"/>
<line x1="259.90" y1="1625.70" x2="259.90" y2="2052.90" stroke="#fff" stroke-width="0.8" stroke-opacity="0.75"/>
<line x1="281.30" y1="1625.70" x2="281.30" y2="2052.90" stroke="#fff" stroke-width="0.8" stroke-opacity="0.75"/>
<line x1="302.70" y1="1625.70" x2="302.70" y2="2052.90" stroke="#fff" stroke-width="0.8" stroke-opacity="0.75"/>
<line x1="324.10" y1="1625.70" x2="324.10" y2="2052.90" stroke="#fff" stroke-width="0.8" stroke-opacity="0.75"/>
<rect x="238.50" y="1625.70" width="107.00" height="427.20" fill="none" stroke="#111" stroke-width="1.5"/>
<text x="249.20" y="1693.10" font-family="Liberation Serif, Times New Roman, serif" font-size="24" text-anchor="middle" fill="#111">*</text>
<text x="334.80" y="1735.82" font-family="Liberation Serif, Times New Roman, serif" font-size="24" text-anchor="middle" fill="#111">*</text>
<text x="334.80" y="1821.26" font-family="Liberation Serif, Times New Roman, serif" font-size="24" text-anchor="middle" fill="#111">*</text>
<text x="249.20" y="1992.14" font-family="Liberation Serif, Times New Roman, serif" font-size="24" text-anchor="middle" fill="#111">*</text>
<text x="249.20" y="2034.86" font-family="Liberation Serif, Times New Roman, serif" font-size="24" text-anchor="middle" fill="#111">*</text>
<line x1="232.50" y1="1636.38" x2="238.50" y2="1636.38" stroke="#111" stroke-width="1.5"/>
<text x="227.50" y="1640.51" font-family="Liberation Serif, Times New Roman, serif" font-size="12.9" text-anchor="end" font-weight="bold">1,2-Diacetylhydrazine</text>
<line x1="232.50" y1="1657.74" x2="238.50" y2="1657.74" stroke="#111" stroke-width="1.5"/>
<text x="227.50" y="1661.87" font-family="Liberation Serif, Times New Roman, serif" font-size="12.9" text-anchor="end" font-weight="bold">Goshonoside_F3</text>
<line x1="232.50" y1="1679.10" x2="238.50" y2="1679.10" stroke="#111" stroke-width="1.5"/>
<text x="227.50" y="1683.23" font-family="Liberation Serif, Times New Roman, serif" font-size="12.9" text-anchor="end" font-weight="bold">Sulfoursodeoxycholic acid</text>
<line x1="232.50" y1="1700.46" x2="238.50" y2="1700.46" stroke="#111" stroke-width="1.5"/>
<text x="227.50" y="1704.59" font-family="Liberation Serif, Times New Roman, serif" font-size="12.9" text-anchor="end" font-weight="bold">Ganoderal_A</text>
<line x1="232.50" y1="1721.82" x2="238.50" y2="1721.82" stroke="#111" stroke-width="1.5"/>
<text x="227.50" y="1725.95" font-family="Liberation Serif, Times New Roman, serif" font-size="12.9" text-anchor="end" font-weight="bold">11-Keto-.beta.-boswellic acid</text>
<line x1="232.50" y1="1743.18" x2="238.50" y2="1743.18" stroke="#111" stroke-width="1.5"/>
<text x="227.50" y="1747.31" font-family="Liberation Serif, Times New Roman, serif" font-size="12.9" text-anchor="end" font-weight="bold">AK-toxin_I</text>
<line x1="232.50" y1="1764.54" x2="238.50" y2="1764.54" stroke="#111" stroke-width="1.5"/>
<text x="227.50" y="1768.67" font-family="Liberation Serif, Times New Roman, serif" font-size="12.9" text-anchor="end" font-weight="bold">Valdecoxib</text>
<line x1="232.50" y1="1785.90" x2="238.50" y2="1785.90" stroke="#111" stroke-width="1.5"/>
<text x="227.50" y="1790.03" font-family="Liberation Serif, Times New Roman, serif" font-size="12.9" text-anchor="end" font-weight="bold">Histidylproline diketopiperazine</text>
<line x1="232.50" y1="1807.26" x2="238.50" y2="1807.26" stroke="#111" stroke-width="1.5"/>
<text x="227.50" y="1811.39" font-family="Liberation Serif, Times New Roman, serif" font-size="12.9" text-anchor="end" font-weight="bold">N-Acetyl-L-glutamate_5-semialdehyde</text>
<line x1="232.50" y1="1828.62" x2="238.50" y2="1828.62" stroke="#111" stroke-width="1.5"/>
<text x="227.50" y="1832.75" font-family="Liberation Serif, Times New Roman, serif" font-size="12.9" text-anchor="end" font-weight="bold">N-Acetylneuraminic acid</text>
<line x1="232.50" y1="1849.98" x2="238.50" y2="1849.98" stroke="#111" stroke-width="1.5"/>
<text x="227.50" y="1854.11" font-family="Liberation Serif, Times New Roman, serif" font-size="12.9" text-anchor="end" font-weight="bold">Fructose</text>
<line x1="232.50" y1="1871.34" x2="238.50" y2="1871.34" stroke="#111" stroke-width="1.5"/>
<text x="227.50" y="1875.47" font-family="Liberation Serif, Times New Roman, serif" font-size="12.9" text-anchor="end" font-weight="bold">Glucitol</text>
<line x1="232.50" y1="1892.70" x2="238.50" y2="1892.70" stroke="#111" stroke-width="1.5"/>
<text x="227.50" y="1896.83" font-family="Liberation Serif, Times New Roman, serif" font-size="12.9" text-anchor="end" font-weight="bold">Galactitol</text>
<line x1="232.50" y1="1914.06" x2="238.50" y2="1914.06" stroke="#111" stroke-width="1.5"/>
<text x="227.50" y="1918.19" font-family="Liberation Serif, Times New Roman, serif" font-size="12.9" text-anchor="end" font-weight="bold">3-Amino-4-hydroxybenzoic acid</text>
<line x1="232.50" y1="1935.42" x2="238.50" y2="1935.42" stroke="#111" stroke-width="1.5"/>
<text x="227.50" y="1939.55" font-family="Liberation Serif, Times New Roman, serif" font-size="12.9" text-anchor="end" font-weight="bold">Ligustrazine</text>
<line x1="232.50" y1="1956.78" x2="238.50" y2="1956.78" stroke="#111" stroke-width="1.5"/>
<text x="227.50" y="1960.91" font-family="Liberation Serif, Times New Roman, serif" font-size="12.9" text-anchor="end" font-weight="bold">Euscaphic acid</text>
<line x1="232.50" y1="1978.14" x2="238.50" y2="1978.14" stroke="#111" stroke-width="1.5"/>
<text x="227.50" y="1982.27" font-family="Liberation Serif, Times New Roman, serif" font-size="12.9" text-anchor="end" font-weight="bold">3-Hydroxybutyric acid</text>
<line x1="232.50" y1="1999.50" x2="238.50" y2="1999.50" stroke="#111" stroke-width="1.5"/>
<text x="227.50" y="2003.63" font-family="Liberation Serif, Times New Roman, serif" font-size="12.9" text-anchor="end" font-weight="bold">Uridine</text>
<line x1="232.50" y1="2020.86" x2="238.50" y2="2020.86" stroke="#111" stroke-width="1.5"/>
<text x="227.50" y="2024.99" font-family="Liberation Serif, Times New Roman, serif" font-size="12.9" text-anchor="end" font-weight="bold">2-Aminoisobutyric acid</text>
<line x1="232.50" y1="2042.22" x2="238.50" y2="2042.22" stroke="#111" stroke-width="1.5"/>
<text x="227.50" y="2046.35" font-family="Liberation Serif, Times New Roman, serif" font-size="12.9" text-anchor="end" font-weight="bold">Glucose</text>
<line x1="249.20" y1="2052.90" x2="249.20" y2="2058.90" stroke="#111" stroke-width="1.5"/>
<text transform="translate(253.07 2062.60) rotate(-90)" font-family="Liberation Serif, Times New Roman, serif" font-size="12.9" text-anchor="end" font-weight="bold" font-style="italic">Pseudomonadota</text>
<line x1="270.60" y1="2052.90" x2="270.60" y2="2058.90" stroke="#111" stroke-width="1.5"/>
<text transform="translate(274.47 2062.60) rotate(-90)" font-family="Liberation Serif, Times New Roman, serif" font-size="12.9" text-anchor="end" font-weight="bold" font-style="italic">Thermodesulfobacteriota</text>
<line x1="292.00" y1="2052.90" x2="292.00" y2="2058.90" stroke="#111" stroke-width="1.5"/>
<text transform="translate(295.87 2062.60) rotate(-90)" font-family="Liberation Serif, Times New Roman, serif" font-size="12.9" text-anchor="end" font-weight="bold" font-style="italic">Verrucomicrobiota</text>
<line x1="313.40" y1="2052.90" x2="313.40" y2="2058.90" stroke="#111" stroke-width="1.5"/>
<text transform="translate(317.27 2062.60) rotate(-90)" font-family="Liberation Serif, Times New Roman, serif" font-size="12.9" text-anchor="end" font-weight="bold" font-style="italic">Chlamydiota</text>
<line x1="334.80" y1="2052.90" x2="334.80" y2="2058.90" stroke="#111" stroke-width="1.5"/>
<text transform="translate(338.67 2062.60) rotate(-90)" font-family="Liberation Serif, Times New Roman, serif" font-size="12.9" text-anchor="end" font-weight="bold" font-style="italic">Chloroflexota</text>
<g shape-rendering="crispEdges">
<rect x="360.60" y="1625.70" width="13.10" height="7.61" fill="#c9283a"/>
<rect x="360.60" y="1632.91" width="13.10" height="7.61" fill="#ce3744"/>
<rect x="360.60" y="1640.11" width="13.10" height="7.61" fill="#d1444d"/>
<rect x="360.60" y="1647.32" width="13.10" height="7.61" fill="#d65557"/>
<rect x="360.60" y="1654.53" width="13.10" height="7.61" fill="#d96468"/>
<rect x="360.60" y="1661.73" width="13.10" height="7.61" fill="#de7376"/>
<rect x="360.60" y="1668.94" width="13.10" height="7.61" fill="#e18387"/>
<rect x="360.60" y="1676.15" width="13.10" height="7.61" fill="#e4939b"/>
<rect x="360.60" y="1683.35" width="13.10" height="7.61" fill="#eaa3ac"/>
<rect x="360.60" y="1690.56" width="13.10" height="7.61" fill="#efb0b3"/>
<rect x="360.60" y="1697.77" width="13.10" height="7.61" fill="#f4c1c3"/>
<rect x="360.60" y="1704.97" width="13.10" height="7.61" fill="#f6d0d2"/>
<rect x="360.60" y="1712.18" width="13.10" height="7.61" fill="#fbe0e0"/>
<rect x="360.60" y="1719.39" width="13.10" height="7.61" fill="#fff0ef"/>
<rect x="360.60" y="1726.59" width="13.10" height="7.61" fill="#ffffff"/>
<rect x="360.60" y="1733.80" width="13.10" height="7.61" fill="#f8f7fc"/>
<rect x="360.60" y="1741.01" width="13.10" height="7.61" fill="#e6ecf6"/>
<rect x="360.60" y="1748.21" width="13.10" height="7.61" fill="#dcdbec"/>
<rect x="360.60" y="1755.42" width="13.10" height="7.61" fill="#cbd1e4"/>
<rect x="360.60" y="1762.63" width="13.10" height="7.61" fill="#b8bedc"/>
<rect x="360.60" y="1769.83" width="13.10" height="7.61" fill="#afb7d5"/>
<rect x="360.60" y="1777.04" width="13.10" height="7.61" fill="#a0aecb"/>
<rect x="360.60" y="1784.25" width="13.10" height="7.61" fill="#97a0c4"/>
<rect x="360.60" y="1791.45" width="13.10" height="7.61" fill="#8795bb"/>
<rect x="360.60" y="1798.66" width="13.10" height="7.61" fill="#7585b3"/>
<rect x="360.60" y="1805.87" width="13.10" height="7.61" fill="#6f7fac"/>
<rect x="360.60" y="1813.07" width="13.10" height="7.61" fill="#5f77a5"/>
<rect x="360.60" y="1820.28" width="13.10" height="7.61" fill="#4b679d"/>
<rect x="360.60" y="1827.49" width="13.10" height="7.61" fill="#45609a"/>
<rect x="360.60" y="1834.69" width="13.10" height="7.61" fill="#3a5492"/>
</g>
<rect x="360.60" y="1625.70" width="13.10" height="216.20" fill="none" stroke="#333" stroke-width="0.8"/>
<line x1="373.70" y1="1625.70" x2="379.20" y2="1625.70" stroke="#333" stroke-width="0.9"/>
<text x="383.20" y="1629.03" font-family="Liberation Serif, Times New Roman, serif" font-size="10.1">0.9300</text>
<line x1="373.70" y1="1668.94" x2="379.20" y2="1668.94" stroke="#333" stroke-width="0.9"/>
<text x="383.20" y="1672.27" font-family="Liberation Serif, Times New Roman, serif" font-size="10.1">0.5530</text>
<line x1="373.70" y1="1712.18" x2="379.20" y2="1712.18" stroke="#333" stroke-width="0.9"/>
<text x="383.20" y="1715.51" font-family="Liberation Serif, Times New Roman, serif" font-size="10.1">0.1760</text>
<line x1="373.70" y1="1755.42" x2="379.20" y2="1755.42" stroke="#333" stroke-width="0.9"/>
<text x="383.20" y="1758.75" font-family="Liberation Serif, Times New Roman, serif" font-size="10.1">-0.2010</text>
<line x1="373.70" y1="1798.66" x2="379.20" y2="1798.66" stroke="#333" stroke-width="0.9"/>
<text x="383.20" y="1801.99" font-family="Liberation Serif, Times New Roman, serif" font-size="10.1">-0.5780</text>
<line x1="373.70" y1="1841.90" x2="379.20" y2="1841.90" stroke="#333" stroke-width="0.9"/>
<text x="383.20" y="1845.23" font-family="Liberation Serif, Times New Roman, serif" font-size="10.1">-0.9550</text>
<g shape-rendering="crispEdges">
<rect x="689.70" y="1624.00" width="17.20" height="17.22" fill="#cbd1e4"/>
<rect x="706.60" y="1624.00" width="17.20" height="17.22" fill="#e4939b"/>
<rect x="723.50" y="1624.00" width="17.20" height="17.22" fill="#e6ecf6"/>
<rect x="740.40" y="1624.00" width="17.20" height="17.22" fill="#de7376"/>
<rect x="757.30" y="1624.00" width="17.20" height="17.22" fill="#dcdbec"/>
<rect x="774.20" y="1624.00" width="17.20" height="17.22" fill="#8795bb"/>
<rect x="791.10" y="1624.00" width="17.20" height="17.22" fill="#efb0b3"/>
<rect x="808.00" y="1624.00" width="17.20" height="17.22" fill="#f8f7fc"/>
<rect x="824.90" y="1624.00" width="17.20" height="17.22" fill="#eaa3ac"/>
<rect x="841.80" y="1624.00" width="17.20" height="17.22" fill="#ffffff"/>
<rect x="858.70" y="1624.00" width="17.20" height="17.22" fill="#ffffff"/>
<rect x="875.60" y="1624.00" width="17.20" height="17.22" fill="#dcdbec"/>
<rect x="689.70" y="1640.92" width="17.20" height="17.22" fill="#ce3744"/>
<rect x="706.60" y="1640.92" width="17.20" height="17.22" fill="#97a0c4"/>
<rect x="723.50" y="1640.92" width="17.20" height="17.22" fill="#ffffff"/>
<rect x="740.40" y="1640.92" width="17.20" height="17.22" fill="#a0aecb"/>
<rect x="757.30" y="1640.92" width="17.20" height="17.22" fill="#fff0ef"/>
<rect x="774.20" y="1640.92" width="17.20" height="17.22" fill="#c9283a"/>
<rect x="791.10" y="1640.92" width="17.20" height="17.22" fill="#cbd1e4"/>
<rect x="808.00" y="1640.92" width="17.20" height="17.22" fill="#f4c1c3"/>
<rect x="824.90" y="1640.92" width="17.20" height="17.22" fill="#cbd1e4"/>
<rect x="841.80" y="1640.92" width="17.20" height="17.22" fill="#f4c1c3"/>
<rect x="858.70" y="1640.92" width="17.20" height="17.22" fill="#e6ecf6"/>
<rect x="875.60" y="1640.92" width="17.20" height="17.22" fill="#e6ecf6"/>
<rect x="689.70" y="1657.84" width="17.20" height="17.22" fill="#dcdbec"/>
<rect x="706.60" y="1657.84" width="17.20" height="17.22" fill="#ce3744"/>
<rect x="723.50" y="1657.84" width="17.20" height="17.22" fill="#ce3744"/>
<rect x="740.40" y="1657.84" width="17.20" height="17.22" fill="#d1444d"/>
<rect x="757.30" y="1657.84" width="17.20" height="17.22" fill="#ce3744"/>
<rect x="774.20" y="1657.84" width="17.20" height="17.22" fill="#b8bedc"/>
<rect x="791.10" y="1657.84" width="17.20" height="17.22" fill="#c9283a"/>
<rect x="808.00" y="1657.84" width="17.20" height="17.22" fill="#d1444d"/>
<rect x="824.90" y="1657.84" width="17.20" height="17.22" fill="#d65557"/>
<rect x="841.80" y="1657.84" width="17.20" height="17.22" fill="#d65557"/>
<rect x="858.70" y="1657.84" width="17.20" height="17.22" fill="#c9283a"/>
<rect x="875.60" y="1657.84" width="17.20" height="17.22" fill="#97a0c4"/>
<rect x="689.70" y="1674.76" width="17.20" height="17.22" fill="#d1444d"/>
<rect x="706.60" y="1674.76" width="17.20" height="17.22" fill="#7282b0"/>
<rect x="723.50" y="1674.76" width="17.20" height="17.22" fill="#f8f7fc"/>
<rect x="740.40" y="1674.76" width="17.20" height="17.22" fill="#97a0c4"/>
<rect x="757.30" y="1674.76" width="17.20" height="17.22" fill="#ffffff"/>
<rect x="774.20" y="1674.76" width="17.20" height="17.22" fill="#ce3744"/>
<rect x="791.10" y="1674.76" width="17.20" height="17.22" fill="#afb7d5"/>
<rect x="808.00" y="1674.76" width="17.20" height="17.22" fill="#fbe0e0"/>
<rect x="824.90" y="1674.76" width="17.20" height="17.22" fill="#97a0c4"/>
<rect x="841.80" y="1674.76" width="17.20" height="17.22" fill="#fbe0e0"/>
<rect x="858.70" y="1674.76" width="17.20" height="17.22" fill="#b8bedc"/>
<rect x="875.60" y="1674.76" width="17.20" height="17.22" fill="#dcdbec"/>
<rect x="689.70" y="1691.68" width="17.20" height="17.22" fill="#cbd1e4"/>
<rect x="706.60" y="1691.68" width="17.20" height="17.22" fill="#d96468"/>
<rect x="723.50" y="1691.68" width="17.20" height="17.22" fill="#de7376"/>
<rect x="740.40" y="1691.68" width="17.20" height="17.22" fill="#c9283a"/>
<rect x="757.30" y="1691.68" width="17.20" height="17.22" fill="#de7376"/>
<rect x="774.20" y="1691.68" width="17.20" height="17.22" fill="#7282b0"/>
<rect x="791.10" y="1691.68" width="17.20" height="17.22" fill="#d1444d"/>
<rect x="808.00" y="1691.68" width="17.20" height="17.22" fill="#e4939b"/>
<rect x="824.90" y="1691.68" width="17.20" height="17.22" fill="#efb0b3"/>
<rect x="841.80" y="1691.68" width="17.20" height="17.22" fill="#e18387"/>
<rect x="858.70" y="1691.68" width="17.20" height="17.22" fill="#e4939b"/>
<rect x="875.60" y="1691.68" width="17.20" height="17.22" fill="#5f77a5"/>
<rect x="689.70" y="1708.60" width="17.20" height="17.22" fill="#e18387"/>
<rect x="706.60" y="1708.60" width="17.20" height="17.22" fill="#4b679d"/>
<rect x="723.50" y="1708.60" width="17.20" height="17.22" fill="#afb7d5"/>
<rect x="740.40" y="1708.60" width="17.20" height="17.22" fill="#4b679d"/>
<rect x="757.30" y="1708.60" width="17.20" height="17.22" fill="#b8bedc"/>
<rect x="774.20" y="1708.60" width="17.20" height="17.22" fill="#d1444d"/>
<rect x="791.10" y="1708.60" width="17.20" height="17.22" fill="#6f7fac"/>
<rect x="808.00" y="1708.60" width="17.20" height="17.22" fill="#dcdbec"/>
<rect x="824.90" y="1708.60" width="17.20" height="17.22" fill="#97a0c4"/>
<rect x="841.80" y="1708.60" width="17.20" height="17.22" fill="#cbd1e4"/>
<rect x="858.70" y="1708.60" width="17.20" height="17.22" fill="#a0aecb"/>
<rect x="875.60" y="1708.60" width="17.20" height="17.22" fill="#f4c1c3"/>
<rect x="689.70" y="1725.52" width="17.20" height="17.22" fill="#ce3744"/>
<rect x="706.60" y="1725.52" width="17.20" height="17.22" fill="#97a0c4"/>
<rect x="723.50" y="1725.52" width="17.20" height="17.22" fill="#f8f7fc"/>
<rect x="740.40" y="1725.52" width="17.20" height="17.22" fill="#a0aecb"/>
<rect x="757.30" y="1725.52" width="17.20" height="17.22" fill="#fff0ef"/>
<rect x="774.20" y="1725.52" width="17.20" height="17.22" fill="#c9283a"/>
<rect x="791.10" y="1725.52" width="17.20" height="17.22" fill="#cbd1e4"/>
<rect x="808.00" y="1725.52" width="17.20" height="17.22" fill="#f4c1c3"/>
<rect x="824.90" y="1725.52" width="17.20" height="17.22" fill="#cbd1e4"/>
<rect x="841.80" y="1725.52" width="17.20" height="17.22" fill="#f4c1c3"/>
<rect x="858.70" y="1725.52" width="17.20" height="17.22" fill="#e6ecf6"/>
<rect x="875.60" y="1725.52" width="17.20" height="17.22" fill="#e6ecf6"/>
<rect x="689.70" y="1742.44" width="17.20" height="17.22" fill="#ffffff"/>
<rect x="706.60" y="1742.44" width="17.20" height="17.22" fill="#5f77a5"/>
<rect x="723.50" y="1742.44" width="17.20" height="17.22" fill="#b8bedc"/>
<rect x="740.40" y="1742.44" width="17.20" height="17.22" fill="#45609a"/>
<rect x="757.30" y="1742.44" width="17.20" height="17.22" fill="#cbd1e4"/>
<rect x="774.20" y="1742.44" width="17.20" height="17.22" fill="#eaa3ac"/>
<rect x="791.10" y="1742.44" width="17.20" height="17.22" fill="#6f7fac"/>
<rect x="808.00" y="1742.44" width="17.20" height="17.22" fill="#afb7d5"/>
<rect x="824.90" y="1742.44" width="17.20" height="17.22" fill="#7585b3"/>
<rect x="841.80" y="1742.44" width="17.20" height="17.22" fill="#a0aecb"/>
<rect x="858.70" y="1742.44" width="17.20" height="17.22" fill="#a0aecb"/>
<rect x="875.60" y="1742.44" width="17.20" height="17.22" fill="#f4c1c3"/>
<rect x="689.70" y="1759.36" width="17.20" height="17.22" fill="#efb0b3"/>
<rect x="706.60" y="1759.36" width="17.20" height="17.22" fill="#8795bb"/>
<rect x="723.50" y="1759.36" width="17.20" height="17.22" fill="#8795bb"/>
<rect x="740.40" y="1759.36" width="17.20" height="17.22" fill="#4b679d"/>
<rect x="757.30" y="1759.36" width="17.20" height="17.22" fill="#97a0c4"/>
<rect x="774.20" y="1759.36" width="17.20" height="17.22" fill="#d65557"/>
<rect x="791.10" y="1759.36" width="17.20" height="17.22" fill="#6f7fac"/>
<rect x="808.00" y="1759.36" width="17.20" height="17.22" fill="#b8bedc"/>
<rect x="824.90" y="1759.36" width="17.20" height="17.22" fill="#dcdbec"/>
<rect x="841.80" y="1759.36" width="17.20" height="17.22" fill="#afb7d5"/>
<rect x="858.70" y="1759.36" width="17.20" height="17.22" fill="#b8bedc"/>
<rect x="875.60" y="1759.36" width="17.20" height="17.22" fill="#d96468"/>
<rect x="689.70" y="1776.28" width="17.20" height="17.22" fill="#e18387"/>
<rect x="706.60" y="1776.28" width="17.20" height="17.22" fill="#a0aecb"/>
<rect x="723.50" y="1776.28" width="17.20" height="17.22" fill="#a0aecb"/>
<rect x="740.40" y="1776.28" width="17.20" height="17.22" fill="#7585b3"/>
<rect x="757.30" y="1776.28" width="17.20" height="17.22" fill="#afb7d5"/>
<rect x="774.20" y="1776.28" width="17.20" height="17.22" fill="#ce3744"/>
<rect x="791.10" y="1776.28" width="17.20" height="17.22" fill="#97a0c4"/>
<rect x="808.00" y="1776.28" width="17.20" height="17.22" fill="#f8f7fc"/>
<rect x="824.90" y="1776.28" width="17.20" height="17.22" fill="#ffffff"/>
<rect x="841.80" y="1776.28" width="17.20" height="17.22" fill="#e6ecf6"/>
<rect x="858.70" y="1776.28" width="17.20" height="17.22" fill="#dcdbec"/>
<rect x="875.60" y="1776.28" width="17.20" height="17.22" fill="#e18387"/>
<rect x="689.70" y="1793.20" width="17.20" height="17.22" fill="#ce3744"/>
<rect x="706.60" y="1793.20" width="17.20" height="17.22" fill="#97a0c4"/>
<rect x="723.50" y="1793.20" width="17.20" height="17.22" fill="#f8f7fc"/>
<rect x="740.40" y="1793.20" width="17.20" height="17.22" fill="#a0aecb"/>
<rect x="757.30" y="1793.20" width="17.20" height="17.22" fill="#ffffff"/>
<rect x="774.20" y="1793.20" width="17.20" height="17.22" fill="#c9283a"/>
<rect x="791.10" y="1793.20" width="17.20" height="17.22" fill="#b8bedc"/>
<rect x="808.00" y="1793.20" width="17.20" height="17.22" fill="#f4c1c3"/>
<rect x="824.90" y="1793.20" width="17.20" height="17.22" fill="#cbd1e4"/>
<rect x="841.80" y="1793.20" width="17.20" height="17.22" fill="#f4c1c3"/>
<rect x="858.70" y="1793.20" width="17.20" height="17.22" fill="#e6ecf6"/>
<rect x="875.60" y="1793.20" width="17.20" height="17.22" fill="#e6ecf6"/>
<rect x="689.70" y="1810.12" width="17.20" height="17.22" fill="#ce3744"/>
<rect x="706.60" y="1810.12" width="17.20" height="17.22" fill="#8795bb"/>
<rect x="723.50" y="1810.12" width="17.20" height="17.22" fill="#dcdbec"/>
<rect x="740.40" y="1810.12" width="17.20" height="17.22" fill="#97a0c4"/>
<rect x="757.30" y="1810.12" width="17.20" height="17.22" fill="#e6ecf6"/>
<rect x="774.20" y="1810.12" width="17.20" height="17.22" fill="#c9283a"/>
<rect x="791.10" y="1810.12" width="17.20" height="17.22" fill="#afb7d5"/>
<rect x="808.00" y="1810.12" width="17.20" height="17.22" fill="#f6d0d2"/>
<rect x="824.90" y="1810.12" width="17.20" height="17.22" fill="#cbd1e4"/>
<rect x="841.80" y="1810.12" width="17.20" height="17.22" fill="#fbe0e0"/>
<rect x="858.70" y="1810.12" width="17.20" height="17.22" fill="#cbd1e4"/>
<rect x="875.60" y="1810.12" width="17.20" height="17.22" fill="#ffffff"/>
<rect x="689.70" y="1827.04" width="17.20" height="17.22" fill="#ce3744"/>
<rect x="706.60" y="1827.04" width="17.20" height="17.22" fill="#8795bb"/>
<rect x="723.50" y="1827.04" width="17.20" height="17.22" fill="#dcdbec"/>
<rect x="740.40" y="1827.04" width="17.20" height="17.22" fill="#97a0c4"/>
<rect x="757.30" y="1827.04" width="17.20" height="17.22" fill="#e6ecf6"/>
<rect x="774.20" y="1827.04" width="17.20" height="17.22" fill="#c9283a"/>
<rect x="791.10" y="1827.04" width="17.20" height="17.22" fill="#afb7d5"/>
<rect x="808.00" y="1827.04" width="17.20" height="17.22" fill="#f6d0d2"/>
<rect x="824.90" y="1827.04" width="17.20" height="17.22" fill="#cbd1e4"/>
<rect x="841.80" y="1827.04" width="17.20" height="17.22" fill="#fbe0e0"/>
<rect x="858.70" y="1827.04" width="17.20" height="17.22" fill="#cbd1e4"/>
<rect x="875.60" y="1827.04" width="17.20" height="17.22" fill="#ffffff"/>
<rect x="689.70" y="1843.96" width="17.20" height="17.22" fill="#dcdbec"/>
<rect x="706.60" y="1843.96" width="17.20" height="17.22" fill="#8795bb"/>
<rect x="723.50" y="1843.96" width="17.20" height="17.22" fill="#f8f7fc"/>
<rect x="740.40" y="1843.96" width="17.20" height="17.22" fill="#7585b3"/>
<rect x="757.30" y="1843.96" width="17.20" height="17.22" fill="#f8f7fc"/>
<rect x="774.20" y="1843.96" width="17.20" height="17.22" fill="#fff0ef"/>
<rect x="791.10" y="1843.96" width="17.20" height="17.22" fill="#a0aecb"/>
<rect x="808.00" y="1843.96" width="17.20" height="17.22" fill="#b8bedc"/>
<rect x="824.90" y="1843.96" width="17.20" height="17.22" fill="#7282b0"/>
<rect x="841.80" y="1843.96" width="17.20" height="17.22" fill="#afb7d5"/>
<rect x="858.70" y="1843.96" width="17.20" height="17.22" fill="#b8bedc"/>
<rect x="875.60" y="1843.96" width="17.20" height="17.22" fill="#ffffff"/>
<rect x="689.70" y="1860.88" width="17.20" height="17.22" fill="#fbe0e0"/>
<rect x="706.60" y="1860.88" width="17.20" height="17.22" fill="#5f77a5"/>
<rect x="723.50" y="1860.88" width="17.20" height="17.22" fill="#8795bb"/>
<rect x="740.40" y="1860.88" width="17.20" height="17.22" fill="#3a5492"/>
<rect x="757.30" y="1860.88" width="17.20" height="17.22" fill="#97a0c4"/>
<rect x="774.20" y="1860.88" width="17.20" height="17.22" fill="#de7376"/>
<rect x="791.10" y="1860.88" width="17.20" height="17.22" fill="#4b679d"/>
<rect x="808.00" y="1860.88" width="17.20" height="17.22" fill="#a0aecb"/>
<rect x="824.90" y="1860.88" width="17.20" height="17.22" fill="#97a0c4"/>
<rect x="841.80" y="1860.88" width="17.20" height="17.22" fill="#8795bb"/>
<rect x="858.70" y="1860.88" width="17.20" height="17.22" fill="#97a0c4"/>
<rect x="875.60" y="1860.88" width="17.20" height="17.22" fill="#de7376"/>
<rect x="689.70" y="1877.80" width="17.20" height="17.22" fill="#d1444d"/>
<rect x="706.60" y="1877.80" width="17.20" height="17.22" fill="#97a0c4"/>
<rect x="723.50" y="1877.80" width="17.20" height="17.22" fill="#ffffff"/>
<rect x="740.40" y="1877.80" width="17.20" height="17.22" fill="#a0aecb"/>
<rect x="757.30" y="1877.80" width="17.20" height="17.22" fill="#fbe0e0"/>
<rect x="774.20" y="1877.80" width="17.20" height="17.22" fill="#ce3744"/>
<rect x="791.10" y="1877.80" width="17.20" height="17.22" fill="#cbd1e4"/>
<rect x="808.00" y="1877.80" width="17.20" height="17.22" fill="#efb0b3"/>
<rect x="824.90" y="1877.80" width="17.20" height="17.22" fill="#cbd1e4"/>
<rect x="841.80" y="1877.80" width="17.20" height="17.22" fill="#f4c1c3"/>
<rect x="858.70" y="1877.80" width="17.20" height="17.22" fill="#e6ecf6"/>
<rect x="875.60" y="1877.80" width="17.20" height="17.22" fill="#dcdbec"/>
<rect x="689.70" y="1894.72" width="17.20" height="17.22" fill="#f8f7fc"/>
<rect x="706.60" y="1894.72" width="17.20" height="17.22" fill="#ce3744"/>
<rect x="723.50" y="1894.72" width="17.20" height="17.22" fill="#ce3744"/>
<rect x="740.40" y="1894.72" width="17.20" height="17.22" fill="#ce3744"/>
<rect x="757.30" y="1894.72" width="17.20" height="17.22" fill="#d1444d"/>
<rect x="774.20" y="1894.72" width="17.20" height="17.22" fill="#afb7d5"/>
<rect x="791.10" y="1894.72" width="17.20" height="17.22" fill="#c9283a"/>
<rect x="808.00" y="1894.72" width="17.20" height="17.22" fill="#d1444d"/>
<rect x="824.90" y="1894.72" width="17.20" height="17.22" fill="#d65557"/>
<rect x="841.80" y="1894.72" width="17.20" height="17.22" fill="#d1444d"/>
<rect x="858.70" y="1894.72" width="17.20" height="17.22" fill="#d1444d"/>
<rect x="875.60" y="1894.72" width="17.20" height="17.22" fill="#7585b3"/>
<rect x="689.70" y="1911.64" width="17.20" height="17.22" fill="#ce3744"/>
<rect x="706.60" y="1911.64" width="17.20" height="17.22" fill="#97a0c4"/>
<rect x="723.50" y="1911.64" width="17.20" height="17.22" fill="#ffffff"/>
<rect x="740.40" y="1911.64" width="17.20" height="17.22" fill="#afb7d5"/>
<rect x="757.30" y="1911.64" width="17.20" height="17.22" fill="#fff0ef"/>
<rect x="774.20" y="1911.64" width="17.20" height="17.22" fill="#c9283a"/>
<rect x="791.10" y="1911.64" width="17.20" height="17.22" fill="#cbd1e4"/>
<rect x="808.00" y="1911.64" width="17.20" height="17.22" fill="#efb0b3"/>
<rect x="824.90" y="1911.64" width="17.20" height="17.22" fill="#dcdbec"/>
<rect x="841.80" y="1911.64" width="17.20" height="17.22" fill="#f4c1c3"/>
<rect x="858.70" y="1911.64" width="17.20" height="17.22" fill="#e6ecf6"/>
<rect x="875.60" y="1911.64" width="17.20" height="17.22" fill="#e6ecf6"/>
<rect x="689.70" y="1928.56" width="17.20" height="17.22" fill="#dcdbec"/>
<rect x="706.60" y="1928.56" width="17.20" height="17.22" fill="#c9283a"/>
<rect x="723.50" y="1928.56" width="17.20" height="17.22" fill="#d96468"/>
<rect x="740.40" y="1928.56" width="17.20" height="17.22" fill="#c9283a"/>
<rect x="757.30" y="1928.56" width="17.20" height="17.22" fill="#d96468"/>
<rect x="774.20" y="1928.56" width="17.20" height="17.22" fill="#a0aecb"/>
<rect x="791.10" y="1928.56" width="17.20" height="17.22" fill="#c9283a"/>
<rect x="808.00" y="1928.56" width="17.20" height="17.22" fill="#d96468"/>
<rect x="824.90" y="1928.56" width="17.20" height="17.22" fill="#d1444d"/>
<rect x="841.80" y="1928.56" width="17.20" height="17.22" fill="#d96468"/>
<rect x="858.70" y="1928.56" width="17.20" height="17.22" fill="#d1444d"/>
<rect x="875.60" y="1928.56" width="17.20" height="17.22" fill="#97a0c4"/>
<rect x="689.70" y="1945.48" width="17.20" height="17.22" fill="#ce3744"/>
<rect x="706.60" y="1945.48" width="17.20" height="17.22" fill="#97a0c4"/>
<rect x="723.50" y="1945.48" width="17.20" height="17.22" fill="#f8f7fc"/>
<rect x="740.40" y="1945.48" width="17.20" height="17.22" fill="#a0aecb"/>
<rect x="757.30" y="1945.48" width="17.20" height="17.22" fill="#ffffff"/>
<rect x="774.20" y="1945.48" width="17.20" height="17.22" fill="#c9283a"/>
<rect x="791.10" y="1945.48" width="17.20" height="17.22" fill="#b8bedc"/>
<rect x="808.00" y="1945.48" width="17.20" height="17.22" fill="#f4c1c3"/>
<rect x="824.90" y="1945.48" width="17.20" height="17.22" fill="#cbd1e4"/>
<rect x="841.80" y="1945.48" width="17.20" height="17.22" fill="#f4c1c3"/>
<rect x="858.70" y="1945.48" width="17.20" height="17.22" fill="#e6ecf6"/>
<rect x="875.60" y="1945.48" width="17.20" height="17.22" fill="#e6ecf6"/>
</g>
<line x1="689.70" y1="1640.92" x2="892.50" y2="1640.92" stroke="#fff" stroke-width="0.8" stroke-opacity="0.75"/>
<line x1="689.70" y1="1657.84" x2="892.50" y2="1657.84" stroke="#fff" stroke-width="0.8" stroke-opacity="0.75"/>
<line x1="689.70" y1="1674.76" x2="892.50" y2="1674.76" stroke="#fff" stroke-width="0.8" stroke-opacity="0.75"/>
<line x1="689.70" y1="1691.68" x2="892.50" y2="1691.68" stroke="#fff" stroke-width="0.8" stroke-opacity="0.75"/>
<line x1="689.70" y1="1708.60" x2="892.50" y2="1708.60" stroke="#fff" stroke-width="0.8" stroke-opacity="0.75"/>
<line x1="689.70" y1="1725.52" x2="892.50" y2="1725.52" stroke="#fff" stroke-width="0.8" stroke-opacity="0.75"/>
<line x1="689.70" y1="1742.44" x2="892.50" y2="1742.44" stroke="#fff" stroke-width="0.8" stroke-opacity="0.75"/>
<line x1="689.70" y1="1759.36" x2="892.50" y2="1759.36" stroke="#fff" stroke-width="0.8" stroke-opacity="0.75"/>
<line x1="689.70" y1="1776.28" x2="892.50" y2="1776.28" stroke="#fff" stroke-width="0.8" stroke-opacity="0.75"/>
<line x1="689.70" y1="1793.20" x2="892.50" y2="1793.20" stroke="#fff" stroke-width="0.8" stroke-opacity="0.75"/>
<line x1="689.70" y1="1810.12" x2="892.50" y2="1810.12" stroke="#fff" stroke-width="0.8" stroke-opacity="0.75"/>
<line x1="689.70" y1="1827.04" x2="892.50" y2="1827.04" stroke="#fff" stroke-width="0.8" stroke-opacity="0.75"/>
<line x1="689.70" y1="1843.96" x2="892.50" y2="1843.96" stroke="#fff" stroke-width="0.8" stroke-opacity="0.75"/>
<line x1="689.70" y1="1860.88" x2="892.50" y2="1860.88" stroke="#fff" stroke-width="0.8" stroke-opacity="0.75"/>
<line x1="689.70" y1="1877.80" x2="892.50" y2="1877.80" stroke="#fff" stroke-width="0.8" stroke-opacity="0.75"/>
<line x1="689.70" y1="1894.72" x2="892.50" y2="1894.72" stroke="#fff" stroke-width="0.8" stroke-opacity="0.75"/>
<line x1="689.70" y1="1911.64" x2="892.50" y2="1911.64" stroke="#fff" stroke-width="0.8" stroke-opacity="0.75"/>
<line x1="689.70" y1="1928.56" x2="892.50" y2="1928.56" stroke="#fff" stroke-width="0.8" stroke-opacity="0.75"/>
<line x1="689.70" y1="1945.48" x2="892.50" y2="1945.48" stroke="#fff" stroke-width="0.8" stroke-opacity="0.75"/>
<line x1="706.60" y1="1624.00" x2="706.60" y2="1962.40" stroke="#fff" stroke-width="0.8" stroke-opacity="0.75"/>
<line x1="723.50" y1="1624.00" x2="723.50" y2="1962.40" stroke="#fff" stroke-width="0.8" stroke-opacity="0.75"/>
<line x1="740.40" y1="1624.00" x2="740.40" y2="1962.40" stroke="#fff" stroke-width="0.8" stroke-opacity="0.75"/>
<line x1="757.30" y1="1624.00" x2="757.30" y2="1962.40" stroke="#fff" stroke-width="0.8" stroke-opacity="0.75"/>
<line x1="774.20" y1="1624.00" x2="774.20" y2="1962.40" stroke="#fff" stroke-width="0.8" stroke-opacity="0.75"/>
<line x1="791.10" y1="1624.00" x2="791.10" y2="1962.40" stroke="#fff" stroke-width="0.8" stroke-opacity="0.75"/>
<line x1="808.00" y1="1624.00" x2="808.00" y2="1962.40" stroke="#fff" stroke-width="0.8" stroke-opacity="0.75"/>
<line x1="824.90" y1="1624.00" x2="824.90" y2="1962.40" stroke="#fff" stroke-width="0.8" stroke-opacity="0.75"/>
<line x1="841.80" y1="1624.00" x2="841.80" y2="1962.40" stroke="#fff" stroke-width="0.8" stroke-opacity="0.75"/>
<line x1="858.70" y1="1624.00" x2="858.70" y2="1962.40" stroke="#fff" stroke-width="0.8" stroke-opacity="0.75"/>
<line x1="875.60" y1="1624.00" x2="875.60" y2="1962.40" stroke="#fff" stroke-width="0.8" stroke-opacity="0.75"/>
<rect x="689.70" y="1624.00" width="202.80" height="338.40" fill="none" stroke="#111" stroke-width="1.5"/>
<text x="782.65" y="1661.28" font-family="Liberation Serif, Times New Roman, serif" font-size="20.5" text-anchor="middle" fill="#111">*</text>
<text x="715.05" y="1678.20" font-family="Liberation Serif, Times New Roman, serif" font-size="20.5" text-anchor="middle" fill="#111">*</text>
<text x="731.95" y="1678.20" font-family="Liberation Serif, Times New Roman, serif" font-size="20.5" text-anchor="middle" fill="#111">*</text>
<text x="765.75" y="1678.20" font-family="Liberation Serif, Times New Roman, serif" font-size="20.5" text-anchor="middle" fill="#111">*</text>
<text x="799.55" y="1678.20" font-family="Liberation Serif, Times New Roman, serif" font-size="20.5" text-anchor="middle" fill="#111">*</text>
<text x="867.15" y="1678.20" font-family="Liberation Serif, Times New Roman, serif" font-size="20.5" text-anchor="middle" fill="#111">*</text>
<text x="748.85" y="1712.04" font-family="Liberation Serif, Times New Roman, serif" font-size="20.5" text-anchor="middle" fill="#111">*</text>
<text x="698.15" y="1745.88" font-family="Liberation Serif, Times New Roman, serif" font-size="20.5" text-anchor="middle" fill="#111">*</text>
<text x="698.15" y="1813.56" font-family="Liberation Serif, Times New Roman, serif" font-size="20.5" text-anchor="middle" fill="#111">*</text>
<text x="782.65" y="1813.56" font-family="Liberation Serif, Times New Roman, serif" font-size="20.5" text-anchor="middle" fill="#111" letter-spacing="-1">**</text>
<text x="698.15" y="1830.48" font-family="Liberation Serif, Times New Roman, serif" font-size="20.5" text-anchor="middle" fill="#111">*</text>
<text x="782.65" y="1830.48" font-family="Liberation Serif, Times New Roman, serif" font-size="20.5" text-anchor="middle" fill="#111" letter-spacing="-1">**</text>
<text x="698.15" y="1847.40" font-family="Liberation Serif, Times New Roman, serif" font-size="20.5" text-anchor="middle" fill="#111">*</text>
<text x="782.65" y="1847.40" font-family="Liberation Serif, Times New Roman, serif" font-size="20.5" text-anchor="middle" fill="#111" letter-spacing="-1">**</text>
<text x="748.85" y="1881.24" font-family="Liberation Serif, Times New Roman, serif" font-size="20.5" text-anchor="middle" fill="#111">*</text>
<text x="782.65" y="1898.16" font-family="Liberation Serif, Times New Roman, serif" font-size="20.5" text-anchor="middle" fill="#111">*</text>
<text x="715.05" y="1915.08" font-family="Liberation Serif, Times New Roman, serif" font-size="20.5" text-anchor="middle" fill="#111">*</text>
<text x="748.85" y="1915.08" font-family="Liberation Serif, Times New Roman, serif" font-size="20.5" text-anchor="middle" fill="#111">*</text>
<text x="799.55" y="1915.08" font-family="Liberation Serif, Times New Roman, serif" font-size="20.5" text-anchor="middle" fill="#111" letter-spacing="-1">**</text>
<text x="698.15" y="1932.00" font-family="Liberation Serif, Times New Roman, serif" font-size="20.5" text-anchor="middle" fill="#111">*</text>
<text x="782.65" y="1932.00" font-family="Liberation Serif, Times New Roman, serif" font-size="20.5" text-anchor="middle" fill="#111" letter-spacing="-1">**</text>
<text x="715.05" y="1948.92" font-family="Liberation Serif, Times New Roman, serif" font-size="20.5" text-anchor="middle" fill="#111">*</text>
<text x="748.85" y="1948.92" font-family="Liberation Serif, Times New Roman, serif" font-size="20.5" text-anchor="middle" fill="#111">*</text>
<text x="799.55" y="1948.92" font-family="Liberation Serif, Times New Roman, serif" font-size="20.5" text-anchor="middle" fill="#111">*</text>
<text x="698.15" y="1965.84" font-family="Liberation Serif, Times New Roman, serif" font-size="20.5" text-anchor="middle" fill="#111">*</text>
<text x="782.65" y="1965.84" font-family="Liberation Serif, Times New Roman, serif" font-size="20.5" text-anchor="middle" fill="#111" letter-spacing="-1">**</text>
<line x1="683.70" y1="1632.46" x2="689.70" y2="1632.46" stroke="#111" stroke-width="1.5"/>
<text x="677.40" y="1637.07" font-family="Liberation Serif, Times New Roman, serif" font-size="14.4" text-anchor="end" font-weight="bold">1,2-Diacetylhydrazine</text>
<line x1="683.70" y1="1649.38" x2="689.70" y2="1649.38" stroke="#111" stroke-width="1.5"/>
<text x="677.40" y="1653.99" font-family="Liberation Serif, Times New Roman, serif" font-size="14.4" text-anchor="end" font-weight="bold">Goshonoside_F3</text>
<line x1="683.70" y1="1666.30" x2="689.70" y2="1666.30" stroke="#111" stroke-width="1.5"/>
<text x="677.40" y="1670.91" font-family="Liberation Serif, Times New Roman, serif" font-size="14.4" text-anchor="end" font-weight="bold">Sulfoursodeoxycholic acid</text>
<line x1="683.70" y1="1683.22" x2="689.70" y2="1683.22" stroke="#111" stroke-width="1.5"/>
<text x="677.40" y="1687.83" font-family="Liberation Serif, Times New Roman, serif" font-size="14.4" text-anchor="end" font-weight="bold">Ganoderal_A</text>
<line x1="683.70" y1="1700.14" x2="689.70" y2="1700.14" stroke="#111" stroke-width="1.5"/>
<text x="677.40" y="1704.75" font-family="Liberation Serif, Times New Roman, serif" font-size="14.4" text-anchor="end" font-weight="bold">11-Keto-.beta.-boswellic acid</text>
<line x1="683.70" y1="1717.06" x2="689.70" y2="1717.06" stroke="#111" stroke-width="1.5"/>
<text x="677.40" y="1721.67" font-family="Liberation Serif, Times New Roman, serif" font-size="14.4" text-anchor="end" font-weight="bold">AK-toxin_I</text>
<line x1="683.70" y1="1733.98" x2="689.70" y2="1733.98" stroke="#111" stroke-width="1.5"/>
<text x="677.40" y="1738.59" font-family="Liberation Serif, Times New Roman, serif" font-size="14.4" text-anchor="end" font-weight="bold">Valdecoxib</text>
<line x1="683.70" y1="1750.90" x2="689.70" y2="1750.90" stroke="#111" stroke-width="1.5"/>
<text x="677.40" y="1755.51" font-family="Liberation Serif, Times New Roman, serif" font-size="14.4" text-anchor="end" font-weight="bold">Histidylproline diketopiperazine</text>
<line x1="683.70" y1="1767.82" x2="689.70" y2="1767.82" stroke="#111" stroke-width="1.5"/>
<text x="677.40" y="1772.43" font-family="Liberation Serif, Times New Roman, serif" font-size="14.4" text-anchor="end" font-weight="bold">N-Acetyl-L-glutamate_5-semialdehyde</text>
<line x1="683.70" y1="1784.74" x2="689.70" y2="1784.74" stroke="#111" stroke-width="1.5"/>
<text x="677.40" y="1789.35" font-family="Liberation Serif, Times New Roman, serif" font-size="14.4" text-anchor="end" font-weight="bold">N-Acetylneuraminic acid</text>
<line x1="683.70" y1="1801.66" x2="689.70" y2="1801.66" stroke="#111" stroke-width="1.5"/>
<text x="677.40" y="1806.27" font-family="Liberation Serif, Times New Roman, serif" font-size="14.4" text-anchor="end" font-weight="bold">Fructose</text>
<line x1="683.70" y1="1818.58" x2="689.70" y2="1818.58" stroke="#111" stroke-width="1.5"/>
<text x="677.40" y="1823.19" font-family="Liberation Serif, Times New Roman, serif" font-size="14.4" text-anchor="end" font-weight="bold">Glucitol</text>
<line x1="683.70" y1="1835.50" x2="689.70" y2="1835.50" stroke="#111" stroke-width="1.5"/>
<text x="677.40" y="1840.11" font-family="Liberation Serif, Times New Roman, serif" font-size="14.4" text-anchor="end" font-weight="bold">Galactitol</text>
<line x1="683.70" y1="1852.42" x2="689.70" y2="1852.42" stroke="#111" stroke-width="1.5"/>
<text x="677.40" y="1857.03" font-family="Liberation Serif, Times New Roman, serif" font-size="14.4" text-anchor="end" font-weight="bold">3-Amino-4-hydroxybenzoic acid</text>
<line x1="683.70" y1="1869.34" x2="689.70" y2="1869.34" stroke="#111" stroke-width="1.5"/>
<text x="677.40" y="1873.95" font-family="Liberation Serif, Times New Roman, serif" font-size="14.4" text-anchor="end" font-weight="bold">Ligustrazine</text>
<line x1="683.70" y1="1886.26" x2="689.70" y2="1886.26" stroke="#111" stroke-width="1.5"/>
<text x="677.40" y="1890.87" font-family="Liberation Serif, Times New Roman, serif" font-size="14.4" text-anchor="end" font-weight="bold">Euscaphic acid</text>
<line x1="683.70" y1="1903.18" x2="689.70" y2="1903.18" stroke="#111" stroke-width="1.5"/>
<text x="677.40" y="1907.79" font-family="Liberation Serif, Times New Roman, serif" font-size="14.4" text-anchor="end" font-weight="bold">3-Hydroxybutyric acid</text>
<line x1="683.70" y1="1920.10" x2="689.70" y2="1920.10" stroke="#111" stroke-width="1.5"/>
<text x="677.40" y="1924.71" font-family="Liberation Serif, Times New Roman, serif" font-size="14.4" text-anchor="end" font-weight="bold">Uridine</text>
<line x1="683.70" y1="1937.02" x2="689.70" y2="1937.02" stroke="#111" stroke-width="1.5"/>
<text x="677.40" y="1941.63" font-family="Liberation Serif, Times New Roman, serif" font-size="14.4" text-anchor="end" font-weight="bold">2-Aminoisobutyric acid</text>
<line x1="683.70" y1="1953.94" x2="689.70" y2="1953.94" stroke="#111" stroke-width="1.5"/>
<text x="677.40" y="1958.55" font-family="Liberation Serif, Times New Roman, serif" font-size="14.4" text-anchor="end" font-weight="bold">Glucose</text>
<line x1="698.15" y1="1962.40" x2="698.15" y2="1968.90" stroke="#111" stroke-width="1.5"/>
<text transform="translate(702.86 1973.60) rotate(-90)" font-family="Liberation Serif, Times New Roman, serif" font-size="15.7" text-anchor="end" font-weight="bold" font-style="italic">Caudoviricetes_sp.</text>
<line x1="715.05" y1="1962.40" x2="715.05" y2="1968.90" stroke="#111" stroke-width="1.5"/>
<text transform="translate(719.76 1973.60) rotate(-90)" font-family="Liberation Serif, Times New Roman, serif" font-size="15.7" text-anchor="end" font-weight="bold" font-style="italic">Escherichia_coli</text>
<line x1="731.95" y1="1962.40" x2="731.95" y2="1968.90" stroke="#111" stroke-width="1.5"/>
<text transform="translate(736.66 1973.60) rotate(-90)" font-family="Liberation Serif, Times New Roman, serif" font-size="15.7" text-anchor="end" font-weight="bold" font-style="italic">Phocaeicola_vulgatus</text>
<line x1="748.85" y1="1962.40" x2="748.85" y2="1968.90" stroke="#111" stroke-width="1.5"/>
<text transform="translate(753.56 1973.60) rotate(-90)" font-family="Liberation Serif, Times New Roman, serif" font-size="15.7" text-anchor="end" font-weight="bold" font-style="italic">Phocaeicola_faecalis</text>
<line x1="765.75" y1="1962.40" x2="765.75" y2="1968.90" stroke="#111" stroke-width="1.5"/>
<text transform="translate(770.46 1973.60) rotate(-90)" font-family="Liberation Serif, Times New Roman, serif" font-size="15.7" text-anchor="end" font-weight="bold" font-style="italic">Desulfovibrio_porci</text>
<line x1="782.65" y1="1962.40" x2="782.65" y2="1968.90" stroke="#111" stroke-width="1.5"/>
<text transform="translate(787.36 1973.60) rotate(-90)" font-family="Liberation Serif, Times New Roman, serif" font-size="15.7" text-anchor="end" font-weight="bold" font-style="italic">Firmicutes_bacterium_CAG:110_56_8</text>
<line x1="799.55" y1="1962.40" x2="799.55" y2="1968.90" stroke="#111" stroke-width="1.5"/>
<text transform="translate(804.26 1973.60) rotate(-90)" font-family="Liberation Serif, Times New Roman, serif" font-size="15.7" text-anchor="end" font-weight="bold" font-style="italic">Parablautia_muri</text>
<line x1="816.45" y1="1962.40" x2="816.45" y2="1968.90" stroke="#111" stroke-width="1.5"/>
<text transform="translate(821.16 1973.60) rotate(-90)" font-family="Liberation Serif, Times New Roman, serif" font-size="15.7" text-anchor="end" font-weight="bold" font-style="italic">Oscillibacter_sp._CU971</text>
<line x1="833.35" y1="1962.40" x2="833.35" y2="1968.90" stroke="#111" stroke-width="1.5"/>
<text transform="translate(838.06 1973.60) rotate(-90)" font-family="Liberation Serif, Times New Roman, serif" font-size="15.7" text-anchor="end" font-weight="bold" font-style="italic">Pseudoflavonifractor_capillosus</text>
<line x1="850.25" y1="1962.40" x2="850.25" y2="1968.90" stroke="#111" stroke-width="1.5"/>
<text transform="translate(854.96 1973.60) rotate(-90)" font-family="Liberation Serif, Times New Roman, serif" font-size="15.7" text-anchor="end" font-weight="bold" font-style="italic">Phocaeicola_dorei</text>
<line x1="867.15" y1="1962.40" x2="867.15" y2="1968.90" stroke="#111" stroke-width="1.5"/>
<text transform="translate(871.86 1973.60) rotate(-90)" font-family="Liberation Serif, Times New Roman, serif" font-size="15.7" text-anchor="end" font-weight="bold" font-style="italic">Raoultella_unclassified</text>
<line x1="884.05" y1="1962.40" x2="884.05" y2="1968.90" stroke="#111" stroke-width="1.5"/>
<text transform="translate(888.76 1973.60) rotate(-90)" font-family="Liberation Serif, Times New Roman, serif" font-size="15.7" text-anchor="end" font-weight="bold" font-style="italic">Allobaculum_unclassified</text>
<g shape-rendering="crispEdges">
<rect x="908.40" y="1624.60" width="13.50" height="6.05" fill="#c9283a"/>
<rect x="908.40" y="1630.25" width="13.50" height="6.05" fill="#ce3744"/>
<rect x="908.40" y="1635.91" width="13.50" height="6.05" fill="#d1444d"/>
<rect x="908.40" y="1641.56" width="13.50" height="6.05" fill="#d65557"/>
<rect x="908.40" y="1647.21" width="13.50" height="6.05" fill="#d96468"/>
<rect x="908.40" y="1652.87" width="13.50" height="6.05" fill="#de7376"/>
<rect x="908.40" y="1658.52" width="13.50" height="6.05" fill="#e18387"/>
<rect x="908.40" y="1664.17" width="13.50" height="6.05" fill="#e4939b"/>
<rect x="908.40" y="1669.83" width="13.50" height="6.05" fill="#eaa3ac"/>
<rect x="908.40" y="1675.48" width="13.50" height="6.05" fill="#efb0b3"/>
<rect x="908.40" y="1681.13" width="13.50" height="6.05" fill="#f4c1c3"/>
<rect x="908.40" y="1686.79" width="13.50" height="6.05" fill="#f6d0d2"/>
<rect x="908.40" y="1692.44" width="13.50" height="6.05" fill="#fbe0e0"/>
<rect x="908.40" y="1698.09" width="13.50" height="6.05" fill="#fff0ef"/>
<rect x="908.40" y="1703.75" width="13.50" height="6.05" fill="#ffffff"/>
<rect x="908.40" y="1709.40" width="13.50" height="6.05" fill="#f8f7fc"/>
<rect x="908.40" y="1715.05" width="13.50" height="6.05" fill="#e6ecf6"/>
<rect x="908.40" y="1720.71" width="13.50" height="6.05" fill="#dcdbec"/>
<rect x="908.40" y="1726.36" width="13.50" height="6.05" fill="#cbd1e4"/>
<rect x="908.40" y="1732.01" width="13.50" height="6.05" fill="#b8bedc"/>
<rect x="908.40" y="1737.67" width="13.50" height="6.05" fill="#afb7d5"/>
<rect x="908.40" y="1743.32" width="13.50" height="6.05" fill="#a0aecb"/>
<rect x="908.40" y="1748.97" width="13.50" height="6.05" fill="#97a0c4"/>
<rect x="908.40" y="1754.63" width="13.50" height="6.05" fill="#8795bb"/>
<rect x="908.40" y="1760.28" width="13.50" height="6.05" fill="#7585b3"/>
<rect x="908.40" y="1765.93" width="13.50" height="6.05" fill="#6f7fac"/>
<rect x="908.40" y="1771.59" width="13.50" height="6.05" fill="#5f77a5"/>
<rect x="908.40" y="1777.24" width="13.50" height="6.05" fill="#4b679d"/>
<rect x="908.40" y="1782.89" width="13.50" height="6.05" fill="#45609a"/>
<rect x="908.40" y="1788.55" width="13.50" height="6.05" fill="#3a5492"/>
</g>
<rect x="908.40" y="1624.60" width="13.50" height="169.60" fill="none" stroke="#333" stroke-width="0.8"/>
<line x1="921.90" y1="1624.60" x2="927.40" y2="1624.60" stroke="#333" stroke-width="0.9"/>
<text x="931.40" y="1627.77" font-family="Liberation Serif, Times New Roman, serif" font-size="9.6">1.000</text>
<line x1="921.90" y1="1658.52" x2="927.40" y2="1658.52" stroke="#333" stroke-width="0.9"/>
<text x="931.40" y="1661.69" font-family="Liberation Serif, Times New Roman, serif" font-size="9.6">0.6080</text>
<line x1="921.90" y1="1692.44" x2="927.40" y2="1692.44" stroke="#333" stroke-width="0.9"/>
<text x="931.40" y="1695.61" font-family="Liberation Serif, Times New Roman, serif" font-size="9.6">0.2160</text>
<line x1="921.90" y1="1726.36" x2="927.40" y2="1726.36" stroke="#333" stroke-width="0.9"/>
<text x="931.40" y="1729.53" font-family="Liberation Serif, Times New Roman, serif" font-size="9.6">-0.1760</text>
<line x1="921.90" y1="1760.28" x2="927.40" y2="1760.28" stroke="#333" stroke-width="0.9"/>
<text x="931.40" y="1763.45" font-family="Liberation Serif, Times New Roman, serif" font-size="9.6">-0.5680</text>
<line x1="921.90" y1="1794.20" x2="927.40" y2="1794.20" stroke="#333" stroke-width="0.9"/>
<text x="931.40" y="1797.37" font-family="Liberation Serif, Times New Roman, serif" font-size="9.6">-0.9600</text>
<g shape-rendering="crispEdges">
<rect x="1078.70" y="1624.90" width="19.96" height="19.93" fill="#e18387"/>
<rect x="1098.36" y="1624.90" width="19.96" height="19.93" fill="#f8f7fc"/>
<rect x="1118.02" y="1624.90" width="19.96" height="19.93" fill="#ffffff"/>
<rect x="1137.68" y="1624.90" width="19.96" height="19.93" fill="#f8f7fc"/>
<rect x="1157.34" y="1624.90" width="19.96" height="19.93" fill="#97a0c4"/>
<rect x="1078.70" y="1644.53" width="19.96" height="19.93" fill="#de7376"/>
<rect x="1098.36" y="1644.53" width="19.96" height="19.93" fill="#eaa3ac"/>
<rect x="1118.02" y="1644.53" width="19.96" height="19.93" fill="#e4939b"/>
<rect x="1137.68" y="1644.53" width="19.96" height="19.93" fill="#fbe0e0"/>
<rect x="1157.34" y="1644.53" width="19.96" height="19.93" fill="#4b679d"/>
<rect x="1078.70" y="1664.16" width="19.96" height="19.93" fill="#d65557"/>
<rect x="1098.36" y="1664.16" width="19.96" height="19.93" fill="#efb0b3"/>
<rect x="1118.02" y="1664.16" width="19.96" height="19.93" fill="#eaa3ac"/>
<rect x="1137.68" y="1664.16" width="19.96" height="19.93" fill="#f4c1c3"/>
<rect x="1157.34" y="1664.16" width="19.96" height="19.93" fill="#4b679d"/>
<rect x="1078.70" y="1683.79" width="19.96" height="19.93" fill="#d96468"/>
<rect x="1098.36" y="1683.79" width="19.96" height="19.93" fill="#e18387"/>
<rect x="1118.02" y="1683.79" width="19.96" height="19.93" fill="#de7376"/>
<rect x="1137.68" y="1683.79" width="19.96" height="19.93" fill="#f4c1c3"/>
<rect x="1157.34" y="1683.79" width="19.96" height="19.93" fill="#45609a"/>
<rect x="1078.70" y="1703.42" width="19.96" height="19.93" fill="#d65557"/>
<rect x="1098.36" y="1703.42" width="19.96" height="19.93" fill="#d96468"/>
<rect x="1118.02" y="1703.42" width="19.96" height="19.93" fill="#d96468"/>
<rect x="1137.68" y="1703.42" width="19.96" height="19.93" fill="#eaa3ac"/>
<rect x="1157.34" y="1703.42" width="19.96" height="19.93" fill="#4b679d"/>
<rect x="1078.70" y="1723.05" width="19.96" height="19.93" fill="#d1444d"/>
<rect x="1098.36" y="1723.05" width="19.96" height="19.93" fill="#f4c1c3"/>
<rect x="1118.02" y="1723.05" width="19.96" height="19.93" fill="#f6d0d2"/>
<rect x="1137.68" y="1723.05" width="19.96" height="19.93" fill="#f6d0d2"/>
<rect x="1157.34" y="1723.05" width="19.96" height="19.93" fill="#7282b0"/>
<rect x="1078.70" y="1742.68" width="19.96" height="19.93" fill="#f6d0d2"/>
<rect x="1098.36" y="1742.68" width="19.96" height="19.93" fill="#f8f7fc"/>
<rect x="1118.02" y="1742.68" width="19.96" height="19.93" fill="#f4c1c3"/>
<rect x="1137.68" y="1742.68" width="19.96" height="19.93" fill="#afb7d5"/>
<rect x="1157.34" y="1742.68" width="19.96" height="19.93" fill="#4b679d"/>
<rect x="1078.70" y="1762.31" width="19.96" height="19.93" fill="#d1444d"/>
<rect x="1098.36" y="1762.31" width="19.96" height="19.93" fill="#e18387"/>
<rect x="1118.02" y="1762.31" width="19.96" height="19.93" fill="#e18387"/>
<rect x="1137.68" y="1762.31" width="19.96" height="19.93" fill="#eaa3ac"/>
<rect x="1157.34" y="1762.31" width="19.96" height="19.93" fill="#45609a"/>
<rect x="1078.70" y="1781.94" width="19.96" height="19.93" fill="#e4939b"/>
<rect x="1098.36" y="1781.94" width="19.96" height="19.93" fill="#f6d0d2"/>
<rect x="1118.02" y="1781.94" width="19.96" height="19.93" fill="#efb0b3"/>
<rect x="1137.68" y="1781.94" width="19.96" height="19.93" fill="#f8f7fc"/>
<rect x="1157.34" y="1781.94" width="19.96" height="19.93" fill="#45609a"/>
<rect x="1078.70" y="1801.57" width="19.96" height="19.93" fill="#e4939b"/>
<rect x="1098.36" y="1801.57" width="19.96" height="19.93" fill="#f8f7fc"/>
<rect x="1118.02" y="1801.57" width="19.96" height="19.93" fill="#fff0ef"/>
<rect x="1137.68" y="1801.57" width="19.96" height="19.93" fill="#e6ecf6"/>
<rect x="1157.34" y="1801.57" width="19.96" height="19.93" fill="#5f77a5"/>
<rect x="1078.70" y="1821.20" width="19.96" height="19.93" fill="#e4939b"/>
<rect x="1098.36" y="1821.20" width="19.96" height="19.93" fill="#de7376"/>
<rect x="1118.02" y="1821.20" width="19.96" height="19.93" fill="#d65557"/>
<rect x="1137.68" y="1821.20" width="19.96" height="19.93" fill="#f6d0d2"/>
<rect x="1157.34" y="1821.20" width="19.96" height="19.93" fill="#3a5492"/>
<rect x="1078.70" y="1840.83" width="19.96" height="19.93" fill="#8795bb"/>
<rect x="1098.36" y="1840.83" width="19.96" height="19.93" fill="#7585b3"/>
<rect x="1118.02" y="1840.83" width="19.96" height="19.93" fill="#5f77a5"/>
<rect x="1137.68" y="1840.83" width="19.96" height="19.93" fill="#b8bedc"/>
<rect x="1157.34" y="1840.83" width="19.96" height="19.93" fill="#d1444d"/>
<rect x="1078.70" y="1860.46" width="19.96" height="19.93" fill="#3a5492"/>
<rect x="1098.36" y="1860.46" width="19.96" height="19.93" fill="#7585b3"/>
<rect x="1118.02" y="1860.46" width="19.96" height="19.93" fill="#afb7d5"/>
<rect x="1137.68" y="1860.46" width="19.96" height="19.93" fill="#5f77a5"/>
<rect x="1157.34" y="1860.46" width="19.96" height="19.93" fill="#e18387"/>
<rect x="1078.70" y="1880.09" width="19.96" height="19.93" fill="#eaa3ac"/>
<rect x="1098.36" y="1880.09" width="19.96" height="19.93" fill="#e4939b"/>
<rect x="1118.02" y="1880.09" width="19.96" height="19.93" fill="#de7376"/>
<rect x="1137.68" y="1880.09" width="19.96" height="19.93" fill="#f6d0d2"/>
<rect x="1157.34" y="1880.09" width="19.96" height="19.93" fill="#45609a"/>
<rect x="1078.70" y="1899.72" width="19.96" height="19.93" fill="#5f77a5"/>
<rect x="1098.36" y="1899.72" width="19.96" height="19.93" fill="#97a0c4"/>
<rect x="1118.02" y="1899.72" width="19.96" height="19.93" fill="#b8bedc"/>
<rect x="1137.68" y="1899.72" width="19.96" height="19.93" fill="#8795bb"/>
<rect x="1157.34" y="1899.72" width="19.96" height="19.93" fill="#f4c1c3"/>
<rect x="1078.70" y="1919.35" width="19.96" height="19.93" fill="#d65557"/>
<rect x="1098.36" y="1919.35" width="19.96" height="19.93" fill="#eaa3ac"/>
<rect x="1118.02" y="1919.35" width="19.96" height="19.93" fill="#fbe0e0"/>
<rect x="1137.68" y="1919.35" width="19.96" height="19.93" fill="#de7376"/>
<rect x="1157.34" y="1919.35" width="19.96" height="19.93" fill="#97a0c4"/>
<rect x="1078.70" y="1938.98" width="19.96" height="19.93" fill="#c9283a"/>
<rect x="1098.36" y="1938.98" width="19.96" height="19.93" fill="#e4939b"/>
<rect x="1118.02" y="1938.98" width="19.96" height="19.93" fill="#f4c1c3"/>
<rect x="1137.68" y="1938.98" width="19.96" height="19.93" fill="#de7376"/>
<rect x="1157.34" y="1938.98" width="19.96" height="19.93" fill="#8795bb"/>
<rect x="1078.70" y="1958.61" width="19.96" height="19.93" fill="#c9283a"/>
<rect x="1098.36" y="1958.61" width="19.96" height="19.93" fill="#d65557"/>
<rect x="1118.02" y="1958.61" width="19.96" height="19.93" fill="#e18387"/>
<rect x="1137.68" y="1958.61" width="19.96" height="19.93" fill="#d1444d"/>
<rect x="1157.34" y="1958.61" width="19.96" height="19.93" fill="#7585b3"/>
<rect x="1078.70" y="1978.24" width="19.96" height="19.93" fill="#d96468"/>
<rect x="1098.36" y="1978.24" width="19.96" height="19.93" fill="#e4939b"/>
<rect x="1118.02" y="1978.24" width="19.96" height="19.93" fill="#e18387"/>
<rect x="1137.68" y="1978.24" width="19.96" height="19.93" fill="#f4c1c3"/>
<rect x="1157.34" y="1978.24" width="19.96" height="19.93" fill="#45609a"/>
<rect x="1078.70" y="1997.87" width="19.96" height="19.93" fill="#5f77a5"/>
<rect x="1098.36" y="1997.87" width="19.96" height="19.93" fill="#45609a"/>
<rect x="1118.02" y="1997.87" width="19.96" height="19.93" fill="#5f77a5"/>
<rect x="1137.68" y="1997.87" width="19.96" height="19.93" fill="#4b679d"/>
<rect x="1157.34" y="1997.87" width="19.96" height="19.93" fill="#e4939b"/>
<rect x="1078.70" y="2017.50" width="19.96" height="19.93" fill="#c9283a"/>
<rect x="1098.36" y="2017.50" width="19.96" height="19.93" fill="#d65557"/>
<rect x="1118.02" y="2017.50" width="19.96" height="19.93" fill="#e18387"/>
<rect x="1137.68" y="2017.50" width="19.96" height="19.93" fill="#d65557"/>
<rect x="1157.34" y="2017.50" width="19.96" height="19.93" fill="#6f7fac"/>
<rect x="1078.70" y="2037.13" width="19.96" height="19.93" fill="#c9283a"/>
<rect x="1098.36" y="2037.13" width="19.96" height="19.93" fill="#d1444d"/>
<rect x="1118.02" y="2037.13" width="19.96" height="19.93" fill="#e18387"/>
<rect x="1137.68" y="2037.13" width="19.96" height="19.93" fill="#d1444d"/>
<rect x="1157.34" y="2037.13" width="19.96" height="19.93" fill="#8795bb"/>
</g>
<line x1="1078.70" y1="1644.53" x2="1177.00" y2="1644.53" stroke="#fff" stroke-width="0.8" stroke-opacity="0.75"/>
<line x1="1078.70" y1="1664.16" x2="1177.00" y2="1664.16" stroke="#fff" stroke-width="0.8" stroke-opacity="0.75"/>
<line x1="1078.70" y1="1683.79" x2="1177.00" y2="1683.79" stroke="#fff" stroke-width="0.8" stroke-opacity="0.75"/>
<line x1="1078.70" y1="1703.42" x2="1177.00" y2="1703.42" stroke="#fff" stroke-width="0.8" stroke-opacity="0.75"/>
<line x1="1078.70" y1="1723.05" x2="1177.00" y2="1723.05" stroke="#fff" stroke-width="0.8" stroke-opacity="0.75"/>
<line x1="1078.70" y1="1742.68" x2="1177.00" y2="1742.68" stroke="#fff" stroke-width="0.8" stroke-opacity="0.75"/>
<line x1="1078.70" y1="1762.31" x2="1177.00" y2="1762.31" stroke="#fff" stroke-width="0.8" stroke-opacity="0.75"/>
<line x1="1078.70" y1="1781.94" x2="1177.00" y2="1781.94" stroke="#fff" stroke-width="0.8" stroke-opacity="0.75"/>
<line x1="1078.70" y1="1801.57" x2="1177.00" y2="1801.57" stroke="#fff" stroke-width="0.8" stroke-opacity="0.75"/>
<line x1="1078.70" y1="1821.20" x2="1177.00" y2="1821.20" stroke="#fff" stroke-width="0.8" stroke-opacity="0.75"/>
<line x1="1078.70" y1="1840.83" x2="1177.00" y2="1840.83" stroke="#fff" stroke-width="0.8" stroke-opacity="0.75"/>
<line x1="1078.70" y1="1860.46" x2="1177.00" y2="1860.46" stroke="#fff" stroke-width="0.8" stroke-opacity="0.75"/>
<line x1="1078.70" y1="1880.09" x2="1177.00" y2="1880.09" stroke="#fff" stroke-width="0.8" stroke-opacity="0.75"/>
<line x1="1078.70" y1="1899.72" x2="1177.00" y2="1899.72" stroke="#fff" stroke-width="0.8" stroke-opacity="0.75"/>
<line x1="1078.70" y1="1919.35" x2="1177.00" y2="1919.35" stroke="#fff" stroke-width="0.8" stroke-opacity="0.75"/>
<line x1="1078.70" y1="1938.98" x2="1177.00" y2="1938.98" stroke="#fff" stroke-width="0.8" stroke-opacity="0.75"/>
<line x1="1078.70" y1="1958.61" x2="1177.00" y2="1958.61" stroke="#fff" stroke-width="0.8" stroke-opacity="0.75"/>
<line x1="1078.70" y1="1978.24" x2="1177.00" y2="1978.24" stroke="#fff" stroke-width="0.8" stroke-opacity="0.75"/>
<line x1="1078.70" y1="1997.87" x2="1177.00" y2="1997.87" stroke="#fff" stroke-width="0.8" stroke-opacity="0.75"/>
<line x1="1078.70" y1="2017.50" x2="1177.00" y2="2017.50" stroke="#fff" stroke-width="0.8" stroke-opacity="0.75"/>
<line x1="1078.70" y1="2037.13" x2="1177.00" y2="2037.13" stroke="#fff" stroke-width="0.8" stroke-opacity="0.75"/>
<line x1="1098.36" y1="1624.90" x2="1098.36" y2="2056.76" stroke="#fff" stroke-width="0.8" stroke-opacity="0.75"/>
<line x1="1118.02" y1="1624.90" x2="1118.02" y2="2056.76" stroke="#fff" stroke-width="0.8" stroke-opacity="0.75"/>
<line x1="1137.68" y1="1624.90" x2="1137.68" y2="2056.76" stroke="#fff" stroke-width="0.8" stroke-opacity="0.75"/>
<line x1="1157.34" y1="1624.90" x2="1157.34" y2="2056.76" stroke="#fff" stroke-width="0.8" stroke-opacity="0.75"/>
<rect x="1078.70" y="1624.90" width="98.30" height="431.86" fill="none" stroke="#111" stroke-width="0.9"/>
<text x="1167.17" y="1803.26" font-family="Liberation Serif, Times New Roman, serif" font-size="22" text-anchor="middle" fill="#111">*</text>
<text x="1167.17" y="1842.52" font-family="Liberation Serif, Times New Roman, serif" font-size="22" text-anchor="middle" fill="#111" letter-spacing="-1">**</text>
<text x="1088.53" y="1881.78" font-family="Liberation Serif, Times New Roman, serif" font-size="22" text-anchor="middle" fill="#111">*</text>
<text x="1167.17" y="1901.41" font-family="Liberation Serif, Times New Roman, serif" font-size="22" text-anchor="middle" fill="#111">*</text>
<text x="1088.53" y="1960.30" font-family="Liberation Serif, Times New Roman, serif" font-size="22" text-anchor="middle" fill="#111" letter-spacing="-1">**</text>
<text x="1088.53" y="1979.93" font-family="Liberation Serif, Times New Roman, serif" font-size="22" text-anchor="middle" fill="#111">*</text>
<text x="1108.19" y="2019.18" font-family="Liberation Serif, Times New Roman, serif" font-size="22" text-anchor="middle" fill="#111">*</text>
<text x="1088.53" y="2038.82" font-family="Liberation Serif, Times New Roman, serif" font-size="22" text-anchor="middle" fill="#111">*</text>
<text x="1088.53" y="2058.45" font-family="Liberation Serif, Times New Roman, serif" font-size="22" text-anchor="middle" fill="#111">*</text>
<line x1="1075.70" y1="1634.72" x2="1078.70" y2="1634.72" stroke="#111" stroke-width="0.9"/>
<text x="1072.70" y="1639.04" font-family="Liberation Serif, Times New Roman, serif" font-size="13.5" text-anchor="end" font-weight="bold">Lam</text>
<line x1="1075.70" y1="1654.35" x2="1078.70" y2="1654.35" stroke="#111" stroke-width="0.9"/>
<text x="1072.70" y="1658.66" font-family="Liberation Serif, Times New Roman, serif" font-size="13.5" text-anchor="end" font-weight="bold">Col IV</text>
<line x1="1075.70" y1="1673.98" x2="1078.70" y2="1673.98" stroke="#111" stroke-width="0.9"/>
<text x="1072.70" y="1678.30" font-family="Liberation Serif, Times New Roman, serif" font-size="13.5" text-anchor="end" font-weight="bold">FN</text>
<line x1="1075.70" y1="1693.61" x2="1078.70" y2="1693.61" stroke="#111" stroke-width="0.9"/>
<text x="1072.70" y="1697.92" font-family="Liberation Serif, Times New Roman, serif" font-size="13.5" text-anchor="end" font-weight="bold">TGF-β</text>
<line x1="1075.70" y1="1713.24" x2="1078.70" y2="1713.24" stroke="#111" stroke-width="0.9"/>
<text x="1072.70" y="1717.56" font-family="Liberation Serif, Times New Roman, serif" font-size="13.5" text-anchor="end" font-weight="bold">IL-1β</text>
<line x1="1075.70" y1="1732.87" x2="1078.70" y2="1732.87" stroke="#111" stroke-width="0.9"/>
<text x="1072.70" y="1737.18" font-family="Liberation Serif, Times New Roman, serif" font-size="13.5" text-anchor="end" font-weight="bold">TNF-α</text>
<line x1="1075.70" y1="1752.50" x2="1078.70" y2="1752.50" stroke="#111" stroke-width="0.9"/>
<text x="1072.70" y="1756.82" font-family="Liberation Serif, Times New Roman, serif" font-size="13.5" text-anchor="end" font-weight="bold">MCP-1</text>
<line x1="1075.70" y1="1772.12" x2="1078.70" y2="1772.12" stroke="#111" stroke-width="0.9"/>
<text x="1072.70" y="1776.44" font-family="Liberation Serif, Times New Roman, serif" font-size="13.5" text-anchor="end" font-weight="bold">IL-6</text>
<line x1="1075.70" y1="1791.76" x2="1078.70" y2="1791.76" stroke="#111" stroke-width="0.9"/>
<text x="1072.70" y="1796.08" font-family="Liberation Serif, Times New Roman, serif" font-size="13.5" text-anchor="end" font-weight="bold">Ucr</text>
<line x1="1075.70" y1="1811.38" x2="1078.70" y2="1811.38" stroke="#111" stroke-width="0.9"/>
<text x="1072.70" y="1815.70" font-family="Liberation Serif, Times New Roman, serif" font-size="13.5" text-anchor="end" font-weight="bold">Cys-C</text>
<line x1="1075.70" y1="1831.02" x2="1078.70" y2="1831.02" stroke="#111" stroke-width="0.9"/>
<text x="1072.70" y="1835.34" font-family="Liberation Serif, Times New Roman, serif" font-size="13.5" text-anchor="end" font-weight="bold">MAU</text>
<line x1="1075.70" y1="1850.64" x2="1078.70" y2="1850.64" stroke="#111" stroke-width="0.9"/>
<text x="1072.70" y="1854.96" font-family="Liberation Serif, Times New Roman, serif" font-size="13.5" text-anchor="end" font-weight="bold">CAT</text>
<line x1="1075.70" y1="1870.28" x2="1078.70" y2="1870.28" stroke="#111" stroke-width="0.9"/>
<text x="1072.70" y="1874.60" font-family="Liberation Serif, Times New Roman, serif" font-size="13.5" text-anchor="end" font-weight="bold">GSH-Px</text>
<line x1="1075.70" y1="1889.91" x2="1078.70" y2="1889.91" stroke="#111" stroke-width="0.9"/>
<text x="1072.70" y="1894.23" font-family="Liberation Serif, Times New Roman, serif" font-size="13.5" text-anchor="end" font-weight="bold">MDA</text>
<line x1="1075.70" y1="1909.54" x2="1078.70" y2="1909.54" stroke="#111" stroke-width="0.9"/>
<text x="1072.70" y="1913.86" font-family="Liberation Serif, Times New Roman, serif" font-size="13.5" text-anchor="end" font-weight="bold">SOD</text>
<line x1="1075.70" y1="1929.16" x2="1078.70" y2="1929.16" stroke="#111" stroke-width="0.9"/>
<text x="1072.70" y="1933.48" font-family="Liberation Serif, Times New Roman, serif" font-size="13.5" text-anchor="end" font-weight="bold">INS</text>
<line x1="1075.70" y1="1948.80" x2="1078.70" y2="1948.80" stroke="#111" stroke-width="0.9"/>
<text x="1072.70" y="1953.12" font-family="Liberation Serif, Times New Roman, serif" font-size="13.5" text-anchor="end" font-weight="bold">BUN</text>
<line x1="1075.70" y1="1968.43" x2="1078.70" y2="1968.43" stroke="#111" stroke-width="0.9"/>
<text x="1072.70" y="1972.75" font-family="Liberation Serif, Times New Roman, serif" font-size="13.5" text-anchor="end" font-weight="bold">Cre</text>
<line x1="1075.70" y1="1988.06" x2="1078.70" y2="1988.06" stroke="#111" stroke-width="0.9"/>
<text x="1072.70" y="1992.38" font-family="Liberation Serif, Times New Roman, serif" font-size="13.5" text-anchor="end" font-weight="bold">LDL-C</text>
<line x1="1075.70" y1="2007.68" x2="1078.70" y2="2007.68" stroke="#111" stroke-width="0.9"/>
<text x="1072.70" y="2012.00" font-family="Liberation Serif, Times New Roman, serif" font-size="13.5" text-anchor="end" font-weight="bold">HDL-C</text>
<line x1="1075.70" y1="2027.32" x2="1078.70" y2="2027.32" stroke="#111" stroke-width="0.9"/>
<text x="1072.70" y="2031.63" font-family="Liberation Serif, Times New Roman, serif" font-size="13.5" text-anchor="end" font-weight="bold">TG</text>
<line x1="1075.70" y1="2046.95" x2="1078.70" y2="2046.95" stroke="#111" stroke-width="0.9"/>
<text x="1072.70" y="2051.27" font-family="Liberation Serif, Times New Roman, serif" font-size="13.5" text-anchor="end" font-weight="bold">TC</text>
<line x1="1088.53" y1="2056.76" x2="1088.53" y2="2059.96" stroke="#111" stroke-width="0.9"/>
<text transform="translate(1092.61 2061.60) rotate(-90)" font-family="Liberation Serif, Times New Roman, serif" font-size="13.6" text-anchor="end" font-weight="bold" font-style="italic">Pseudomonadota</text>
<line x1="1108.19" y1="2056.76" x2="1108.19" y2="2059.96" stroke="#111" stroke-width="0.9"/>
<text transform="translate(1112.27 2061.60) rotate(-90)" font-family="Liberation Serif, Times New Roman, serif" font-size="13.6" text-anchor="end" font-weight="bold" font-style="italic">Thermodesulfobacteriota</text>
<line x1="1127.85" y1="2056.76" x2="1127.85" y2="2059.96" stroke="#111" stroke-width="0.9"/>
<text transform="translate(1131.93 2061.60) rotate(-90)" font-family="Liberation Serif, Times New Roman, serif" font-size="13.6" text-anchor="end" font-weight="bold" font-style="italic">Verrucomicrobiota</text>
<line x1="1147.51" y1="2056.76" x2="1147.51" y2="2059.96" stroke="#111" stroke-width="0.9"/>
<text transform="translate(1151.59 2061.60) rotate(-90)" font-family="Liberation Serif, Times New Roman, serif" font-size="13.6" text-anchor="end" font-weight="bold" font-style="italic">Chlamydiota</text>
<line x1="1167.17" y1="2056.76" x2="1167.17" y2="2059.96" stroke="#111" stroke-width="0.9"/>
<text transform="translate(1171.25 2061.60) rotate(-90)" font-family="Liberation Serif, Times New Roman, serif" font-size="13.6" text-anchor="end" font-weight="bold" font-style="italic">Chloroflexota</text>
<g shape-rendering="crispEdges">
<rect x="1191.60" y="1625.00" width="7.20" height="7.54" fill="#c9283a"/>
<rect x="1191.60" y="1632.14" width="7.20" height="7.54" fill="#ce3744"/>
<rect x="1191.60" y="1639.28" width="7.20" height="7.54" fill="#d1444d"/>
<rect x="1191.60" y="1646.42" width="7.20" height="7.54" fill="#d65557"/>
<rect x="1191.60" y="1653.56" width="7.20" height="7.54" fill="#d96468"/>
<rect x="1191.60" y="1660.70" width="7.20" height="7.54" fill="#de7376"/>
<rect x="1191.60" y="1667.84" width="7.20" height="7.54" fill="#e18387"/>
<rect x="1191.60" y="1674.98" width="7.20" height="7.54" fill="#e4939b"/>
<rect x="1191.60" y="1682.12" width="7.20" height="7.54" fill="#eaa3ac"/>
<rect x="1191.60" y="1689.26" width="7.20" height="7.54" fill="#efb0b3"/>
<rect x="1191.60" y="1696.40" width="7.20" height="7.54" fill="#f4c1c3"/>
<rect x="1191.60" y="1703.54" width="7.20" height="7.54" fill="#f6d0d2"/>
<rect x="1191.60" y="1710.68" width="7.20" height="7.54" fill="#fbe0e0"/>
<rect x="1191.60" y="1717.82" width="7.20" height="7.54" fill="#fff0ef"/>
<rect x="1191.60" y="1724.96" width="7.20" height="7.54" fill="#ffffff"/>
<rect x="1191.60" y="1732.10" width="7.20" height="7.54" fill="#f8f7fc"/>
<rect x="1191.60" y="1739.24" width="7.20" height="7.54" fill="#e6ecf6"/>
<rect x="1191.60" y="1746.38" width="7.20" height="7.54" fill="#dcdbec"/>
<rect x="1191.60" y="1753.52" width="7.20" height="7.54" fill="#cbd1e4"/>
<rect x="1191.60" y="1760.66" width="7.20" height="7.54" fill="#b8bedc"/>
<rect x="1191.60" y="1767.80" width="7.20" height="7.54" fill="#afb7d5"/>
<rect x="1191.60" y="1774.94" width="7.20" height="7.54" fill="#a0aecb"/>
<rect x="1191.60" y="1782.08" width="7.20" height="7.54" fill="#97a0c4"/>
<rect x="1191.60" y="1789.22" width="7.20" height="7.54" fill="#8795bb"/>
<rect x="1191.60" y="1796.36" width="7.20" height="7.54" fill="#7585b3"/>
<rect x="1191.60" y="1803.50" width="7.20" height="7.54" fill="#6f7fac"/>
<rect x="1191.60" y="1810.64" width="7.20" height="7.54" fill="#5f77a5"/>
<rect x="1191.60" y="1817.78" width="7.20" height="7.54" fill="#4b679d"/>
<rect x="1191.60" y="1824.92" width="7.20" height="7.54" fill="#45609a"/>
<rect x="1191.60" y="1832.06" width="7.20" height="7.54" fill="#3a5492"/>
</g>
<rect x="1191.60" y="1625.00" width="7.20" height="214.20" fill="none" stroke="#333" stroke-width="0.8"/>
<line x1="1198.80" y1="1625.00" x2="1204.30" y2="1625.00" stroke="#333" stroke-width="0.9"/>
<text x="1205.10" y="1627.81" font-family="Liberation Serif, Times New Roman, serif" font-size="8.5">0.9900</text>
<line x1="1198.80" y1="1667.84" x2="1204.30" y2="1667.84" stroke="#333" stroke-width="0.9"/>
<text x="1205.10" y="1670.64" font-family="Liberation Serif, Times New Roman, serif" font-size="8.5">0.5940</text>
<line x1="1198.80" y1="1710.68" x2="1204.30" y2="1710.68" stroke="#333" stroke-width="0.9"/>
<text x="1205.10" y="1713.49" font-family="Liberation Serif, Times New Roman, serif" font-size="8.5">0.1980</text>
<line x1="1198.80" y1="1753.52" x2="1204.30" y2="1753.52" stroke="#333" stroke-width="0.9"/>
<text x="1205.10" y="1756.33" font-family="Liberation Serif, Times New Roman, serif" font-size="8.5">-0.1980</text>
<line x1="1198.80" y1="1796.36" x2="1204.30" y2="1796.36" stroke="#333" stroke-width="0.9"/>
<text x="1205.10" y="1799.16" font-family="Liberation Serif, Times New Roman, serif" font-size="8.5">-0.5940</text>
<line x1="1198.80" y1="1839.20" x2="1204.30" y2="1839.20" stroke="#333" stroke-width="0.9"/>
<text x="1205.10" y="1842.01" font-family="Liberation Serif, Times New Roman, serif" font-size="8.5">-0.9900</text>
<g shape-rendering="crispEdges">
<rect x="1383.70" y="1625.20" width="21.94" height="21.92" fill="#afb7d5"/>
<rect x="1405.34" y="1625.20" width="21.94" height="21.92" fill="#d96468"/>
<rect x="1426.98" y="1625.20" width="21.94" height="21.92" fill="#fcfbfe"/>
<rect x="1448.62" y="1625.20" width="21.94" height="21.92" fill="#d65557"/>
<rect x="1470.26" y="1625.20" width="21.94" height="21.92" fill="#ffffff"/>
<rect x="1491.90" y="1625.20" width="21.94" height="21.92" fill="#7282b0"/>
<rect x="1513.54" y="1625.20" width="21.94" height="21.92" fill="#e4939b"/>
<rect x="1535.18" y="1625.20" width="21.94" height="21.92" fill="#fcfbfe"/>
<rect x="1556.82" y="1625.20" width="21.94" height="21.92" fill="#e4939b"/>
<rect x="1578.46" y="1625.20" width="21.94" height="21.92" fill="#efb0b3"/>
<rect x="1600.10" y="1625.20" width="21.94" height="21.92" fill="#f4c1c3"/>
<rect x="1621.74" y="1625.20" width="21.94" height="21.92" fill="#b8bedc"/>
<rect x="1383.70" y="1646.82" width="21.94" height="21.92" fill="#fcfbfe"/>
<rect x="1405.34" y="1646.82" width="21.94" height="21.92" fill="#d65557"/>
<rect x="1426.98" y="1646.82" width="21.94" height="21.92" fill="#e4939b"/>
<rect x="1448.62" y="1646.82" width="21.94" height="21.92" fill="#c9283a"/>
<rect x="1470.26" y="1646.82" width="21.94" height="21.92" fill="#eaa3ac"/>
<rect x="1491.90" y="1646.82" width="21.94" height="21.92" fill="#8795bb"/>
<rect x="1513.54" y="1646.82" width="21.94" height="21.92" fill="#d65557"/>
<rect x="1535.18" y="1646.82" width="21.94" height="21.92" fill="#eaa3ac"/>
<rect x="1556.82" y="1646.82" width="21.94" height="21.92" fill="#e18387"/>
<rect x="1578.46" y="1646.82" width="21.94" height="21.92" fill="#d65557"/>
<rect x="1600.10" y="1646.82" width="21.94" height="21.92" fill="#e4939b"/>
<rect x="1621.74" y="1646.82" width="21.94" height="21.92" fill="#7282b0"/>
<rect x="1383.70" y="1668.44" width="21.94" height="21.92" fill="#afb7d5"/>
<rect x="1405.34" y="1668.44" width="21.94" height="21.92" fill="#d1444d"/>
<rect x="1426.98" y="1668.44" width="21.94" height="21.92" fill="#e18387"/>
<rect x="1448.62" y="1668.44" width="21.94" height="21.92" fill="#c9283a"/>
<rect x="1470.26" y="1668.44" width="21.94" height="21.92" fill="#e4939b"/>
<rect x="1491.90" y="1668.44" width="21.94" height="21.92" fill="#5f77a5"/>
<rect x="1513.54" y="1668.44" width="21.94" height="21.92" fill="#d1444d"/>
<rect x="1535.18" y="1668.44" width="21.94" height="21.92" fill="#efb0b3"/>
<rect x="1556.82" y="1668.44" width="21.94" height="21.92" fill="#e18387"/>
<rect x="1578.46" y="1668.44" width="21.94" height="21.92" fill="#d96468"/>
<rect x="1600.10" y="1668.44" width="21.94" height="21.92" fill="#de7376"/>
<rect x="1621.74" y="1668.44" width="21.94" height="21.92" fill="#7585b3"/>
<rect x="1383.70" y="1690.06" width="21.94" height="21.92" fill="#ffffff"/>
<rect x="1405.34" y="1690.06" width="21.94" height="21.92" fill="#d65557"/>
<rect x="1426.98" y="1690.06" width="21.94" height="21.92" fill="#de7376"/>
<rect x="1448.62" y="1690.06" width="21.94" height="21.92" fill="#c9283a"/>
<rect x="1470.26" y="1690.06" width="21.94" height="21.92" fill="#e18387"/>
<rect x="1491.90" y="1690.06" width="21.94" height="21.92" fill="#97a0c4"/>
<rect x="1513.54" y="1690.06" width="21.94" height="21.92" fill="#ce3744"/>
<rect x="1535.18" y="1690.06" width="21.94" height="21.92" fill="#e18387"/>
<rect x="1556.82" y="1690.06" width="21.94" height="21.92" fill="#e18387"/>
<rect x="1578.46" y="1690.06" width="21.94" height="21.92" fill="#d1444d"/>
<rect x="1600.10" y="1690.06" width="21.94" height="21.92" fill="#de7376"/>
<rect x="1621.74" y="1690.06" width="21.94" height="21.92" fill="#5f77a5"/>
<rect x="1383.70" y="1711.68" width="21.94" height="21.92" fill="#ffffff"/>
<rect x="1405.34" y="1711.68" width="21.94" height="21.92" fill="#d1444d"/>
<rect x="1426.98" y="1711.68" width="21.94" height="21.92" fill="#d65557"/>
<rect x="1448.62" y="1711.68" width="21.94" height="21.92" fill="#c9283a"/>
<rect x="1470.26" y="1711.68" width="21.94" height="21.92" fill="#d96468"/>
<rect x="1491.90" y="1711.68" width="21.94" height="21.92" fill="#a0aecb"/>
<rect x="1513.54" y="1711.68" width="21.94" height="21.92" fill="#c9283a"/>
<rect x="1535.18" y="1711.68" width="21.94" height="21.92" fill="#d96468"/>
<rect x="1556.82" y="1711.68" width="21.94" height="21.92" fill="#d96468"/>
<rect x="1578.46" y="1711.68" width="21.94" height="21.92" fill="#ce3744"/>
<rect x="1600.10" y="1711.68" width="21.94" height="21.92" fill="#d65557"/>
<rect x="1621.74" y="1711.68" width="21.94" height="21.92" fill="#7282b0"/>
<rect x="1383.70" y="1733.30" width="21.94" height="21.92" fill="#a0aecb"/>
<rect x="1405.34" y="1733.30" width="21.94" height="21.92" fill="#d1444d"/>
<rect x="1426.98" y="1733.30" width="21.94" height="21.92" fill="#e4939b"/>
<rect x="1448.62" y="1733.30" width="21.94" height="21.92" fill="#ce3744"/>
<rect x="1470.26" y="1733.30" width="21.94" height="21.92" fill="#efb0b3"/>
<rect x="1491.90" y="1733.30" width="21.94" height="21.92" fill="#4b679d"/>
<rect x="1513.54" y="1733.30" width="21.94" height="21.92" fill="#d65557"/>
<rect x="1535.18" y="1733.30" width="21.94" height="21.92" fill="#f6d0d2"/>
<rect x="1556.82" y="1733.30" width="21.94" height="21.92" fill="#de7376"/>
<rect x="1578.46" y="1733.30" width="21.94" height="21.92" fill="#e18387"/>
<rect x="1600.10" y="1733.30" width="21.94" height="21.92" fill="#e18387"/>
<rect x="1621.74" y="1733.30" width="21.94" height="21.92" fill="#97a0c4"/>
<rect x="1383.70" y="1754.92" width="21.94" height="21.92" fill="#cbd1e4"/>
<rect x="1405.34" y="1754.92" width="21.94" height="21.92" fill="#f4c1c3"/>
<rect x="1426.98" y="1754.92" width="21.94" height="21.92" fill="#f6d0d2"/>
<rect x="1448.62" y="1754.92" width="21.94" height="21.92" fill="#d65557"/>
<rect x="1470.26" y="1754.92" width="21.94" height="21.92" fill="#fcfbfe"/>
<rect x="1491.90" y="1754.92" width="21.94" height="21.92" fill="#5f77a5"/>
<rect x="1513.54" y="1754.92" width="21.94" height="21.92" fill="#eaa3ac"/>
<rect x="1535.18" y="1754.92" width="21.94" height="21.92" fill="#ffffff"/>
<rect x="1556.82" y="1754.92" width="21.94" height="21.92" fill="#fcfbfe"/>
<rect x="1578.46" y="1754.92" width="21.94" height="21.92" fill="#eaa3ac"/>
<rect x="1600.10" y="1754.92" width="21.94" height="21.92" fill="#ffffff"/>
<rect x="1621.74" y="1754.92" width="21.94" height="21.92" fill="#5f77a5"/>
<rect x="1383.70" y="1776.54" width="21.94" height="21.92" fill="#cbd1e4"/>
<rect x="1405.34" y="1776.54" width="21.94" height="21.92" fill="#ce3744"/>
<rect x="1426.98" y="1776.54" width="21.94" height="21.92" fill="#d96468"/>
<rect x="1448.62" y="1776.54" width="21.94" height="21.92" fill="#c9283a"/>
<rect x="1470.26" y="1776.54" width="21.94" height="21.92" fill="#de7376"/>
<rect x="1491.90" y="1776.54" width="21.94" height="21.92" fill="#7282b0"/>
<rect x="1513.54" y="1776.54" width="21.94" height="21.92" fill="#ce3744"/>
<rect x="1535.18" y="1776.54" width="21.94" height="21.92" fill="#e18387"/>
<rect x="1556.82" y="1776.54" width="21.94" height="21.92" fill="#de7376"/>
<rect x="1578.46" y="1776.54" width="21.94" height="21.92" fill="#d65557"/>
<rect x="1600.10" y="1776.54" width="21.94" height="21.92" fill="#d65557"/>
<rect x="1621.74" y="1776.54" width="21.94" height="21.92" fill="#7282b0"/>
<rect x="1383.70" y="1798.16" width="21.94" height="21.92" fill="#b8bedc"/>
<rect x="1405.34" y="1798.16" width="21.94" height="21.92" fill="#e18387"/>
<rect x="1426.98" y="1798.16" width="21.94" height="21.92" fill="#eaa3ac"/>
<rect x="1448.62" y="1798.16" width="21.94" height="21.92" fill="#ce3744"/>
<rect x="1470.26" y="1798.16" width="21.94" height="21.92" fill="#f4c1c3"/>
<rect x="1491.90" y="1798.16" width="21.94" height="21.92" fill="#4b679d"/>
<rect x="1513.54" y="1798.16" width="21.94" height="21.92" fill="#de7376"/>
<rect x="1535.18" y="1798.16" width="21.94" height="21.92" fill="#f6d0d2"/>
<rect x="1556.82" y="1798.16" width="21.94" height="21.92" fill="#f4c1c3"/>
<rect x="1578.46" y="1798.16" width="21.94" height="21.92" fill="#e18387"/>
<rect x="1600.10" y="1798.16" width="21.94" height="21.92" fill="#efb0b3"/>
<rect x="1621.74" y="1798.16" width="21.94" height="21.92" fill="#5f77a5"/>
<rect x="1383.70" y="1819.78" width="21.94" height="21.92" fill="#97a0c4"/>
<rect x="1405.34" y="1819.78" width="21.94" height="21.92" fill="#e18387"/>
<rect x="1426.98" y="1819.78" width="21.94" height="21.92" fill="#f6d0d2"/>
<rect x="1448.62" y="1819.78" width="21.94" height="21.92" fill="#d1444d"/>
<rect x="1470.26" y="1819.78" width="21.94" height="21.92" fill="#fde8e8"/>
<rect x="1491.90" y="1819.78" width="21.94" height="21.92" fill="#4b679d"/>
<rect x="1513.54" y="1819.78" width="21.94" height="21.92" fill="#e4939b"/>
<rect x="1535.18" y="1819.78" width="21.94" height="21.92" fill="#ffffff"/>
<rect x="1556.82" y="1819.78" width="21.94" height="21.92" fill="#f6d0d2"/>
<rect x="1578.46" y="1819.78" width="21.94" height="21.92" fill="#efb0b3"/>
<rect x="1600.10" y="1819.78" width="21.94" height="21.92" fill="#f6d0d2"/>
<rect x="1621.74" y="1819.78" width="21.94" height="21.92" fill="#8795bb"/>
<rect x="1383.70" y="1841.40" width="21.94" height="21.92" fill="#ffffff"/>
<rect x="1405.34" y="1841.40" width="21.94" height="21.92" fill="#e4939b"/>
<rect x="1426.98" y="1841.40" width="21.94" height="21.92" fill="#d65557"/>
<rect x="1448.62" y="1841.40" width="21.94" height="21.92" fill="#d1444d"/>
<rect x="1470.26" y="1841.40" width="21.94" height="21.92" fill="#d65557"/>
<rect x="1491.90" y="1841.40" width="21.94" height="21.92" fill="#97a0c4"/>
<rect x="1513.54" y="1841.40" width="21.94" height="21.92" fill="#d65557"/>
<rect x="1535.18" y="1841.40" width="21.94" height="21.92" fill="#de7376"/>
<rect x="1556.82" y="1841.40" width="21.94" height="21.92" fill="#fde8e8"/>
<rect x="1578.46" y="1841.40" width="21.94" height="21.92" fill="#d65557"/>
<rect x="1600.10" y="1841.40" width="21.94" height="21.92" fill="#e18387"/>
<rect x="1621.74" y="1841.40" width="21.94" height="21.92" fill="#3a5492"/>
<rect x="1383.70" y="1863.02" width="21.94" height="21.92" fill="#b8bedc"/>
<rect x="1405.34" y="1863.02" width="21.94" height="21.92" fill="#7282b0"/>
<rect x="1426.98" y="1863.02" width="21.94" height="21.92" fill="#7282b0"/>
<rect x="1448.62" y="1863.02" width="21.94" height="21.92" fill="#3a5492"/>
<rect x="1470.26" y="1863.02" width="21.94" height="21.92" fill="#7282b0"/>
<rect x="1491.90" y="1863.02" width="21.94" height="21.92" fill="#f6d0d2"/>
<rect x="1513.54" y="1863.02" width="21.94" height="21.92" fill="#45609a"/>
<rect x="1535.18" y="1863.02" width="21.94" height="21.92" fill="#6f7fac"/>
<rect x="1556.82" y="1863.02" width="21.94" height="21.92" fill="#8795bb"/>
<rect x="1578.46" y="1863.02" width="21.94" height="21.92" fill="#3a5492"/>
<rect x="1600.10" y="1863.02" width="21.94" height="21.92" fill="#7585b3"/>
<rect x="1621.74" y="1863.02" width="21.94" height="21.92" fill="#d65557"/>
<rect x="1383.70" y="1884.64" width="21.94" height="21.92" fill="#eaa3ac"/>
<rect x="1405.34" y="1884.64" width="21.94" height="21.92" fill="#45609a"/>
<rect x="1426.98" y="1884.64" width="21.94" height="21.92" fill="#4b679d"/>
<rect x="1448.62" y="1884.64" width="21.94" height="21.92" fill="#7585b3"/>
<rect x="1470.26" y="1884.64" width="21.94" height="21.92" fill="#5f77a5"/>
<rect x="1491.90" y="1884.64" width="21.94" height="21.92" fill="#e4939b"/>
<rect x="1513.54" y="1884.64" width="21.94" height="21.92" fill="#4b679d"/>
<rect x="1535.18" y="1884.64" width="21.94" height="21.92" fill="#8795bb"/>
<rect x="1556.82" y="1884.64" width="21.94" height="21.92" fill="#7282b0"/>
<rect x="1578.46" y="1884.64" width="21.94" height="21.92" fill="#8795bb"/>
<rect x="1600.10" y="1884.64" width="21.94" height="21.92" fill="#45609a"/>
<rect x="1621.74" y="1884.64" width="21.94" height="21.92" fill="#f4c1c3"/>
<rect x="1383.70" y="1906.26" width="21.94" height="21.92" fill="#e6ecf6"/>
<rect x="1405.34" y="1906.26" width="21.94" height="21.92" fill="#efb0b3"/>
<rect x="1426.98" y="1906.26" width="21.94" height="21.92" fill="#d65557"/>
<rect x="1448.62" y="1906.26" width="21.94" height="21.92" fill="#d96468"/>
<rect x="1470.26" y="1906.26" width="21.94" height="21.92" fill="#d96468"/>
<rect x="1491.90" y="1906.26" width="21.94" height="21.92" fill="#8795bb"/>
<rect x="1513.54" y="1906.26" width="21.94" height="21.92" fill="#de7376"/>
<rect x="1535.18" y="1906.26" width="21.94" height="21.92" fill="#e4939b"/>
<rect x="1556.82" y="1906.26" width="21.94" height="21.92" fill="#ffffff"/>
<rect x="1578.46" y="1906.26" width="21.94" height="21.92" fill="#de7376"/>
<rect x="1600.10" y="1906.26" width="21.94" height="21.92" fill="#e4939b"/>
<rect x="1621.74" y="1906.26" width="21.94" height="21.92" fill="#45609a"/>
<rect x="1383.70" y="1927.88" width="21.94" height="21.92" fill="#ffffff"/>
<rect x="1405.34" y="1927.88" width="21.94" height="21.92" fill="#45609a"/>
<rect x="1426.98" y="1927.88" width="21.94" height="21.92" fill="#a0aecb"/>
<rect x="1448.62" y="1927.88" width="21.94" height="21.92" fill="#7282b0"/>
<rect x="1470.26" y="1927.88" width="21.94" height="21.92" fill="#a0aecb"/>
<rect x="1491.90" y="1927.88" width="21.94" height="21.92" fill="#fbe0e0"/>
<rect x="1513.54" y="1927.88" width="21.94" height="21.92" fill="#5f77a5"/>
<rect x="1535.18" y="1927.88" width="21.94" height="21.92" fill="#97a0c4"/>
<rect x="1556.82" y="1927.88" width="21.94" height="21.92" fill="#3a5492"/>
<rect x="1578.46" y="1927.88" width="21.94" height="21.92" fill="#6f7fac"/>
<rect x="1600.10" y="1927.88" width="21.94" height="21.92" fill="#5f77a5"/>
<rect x="1621.74" y="1927.88" width="21.94" height="21.92" fill="#ffffff"/>
<rect x="1383.70" y="1949.50" width="21.94" height="21.92" fill="#6f7fac"/>
<rect x="1405.34" y="1949.50" width="21.94" height="21.92" fill="#de7376"/>
<rect x="1426.98" y="1949.50" width="21.94" height="21.92" fill="#d96468"/>
<rect x="1448.62" y="1949.50" width="21.94" height="21.92" fill="#eaa3ac"/>
<rect x="1470.26" y="1949.50" width="21.94" height="21.92" fill="#e18387"/>
<rect x="1491.90" y="1949.50" width="21.94" height="21.92" fill="#7585b3"/>
<rect x="1513.54" y="1949.50" width="21.94" height="21.92" fill="#de7376"/>
<rect x="1535.18" y="1949.50" width="21.94" height="21.92" fill="#f4c1c3"/>
<rect x="1556.82" y="1949.50" width="21.94" height="21.92" fill="#efb0b3"/>
<rect x="1578.46" y="1949.50" width="21.94" height="21.92" fill="#f4c1c3"/>
<rect x="1600.10" y="1949.50" width="21.94" height="21.92" fill="#d96468"/>
<rect x="1621.74" y="1949.50" width="21.94" height="21.92" fill="#b8bedc"/>
<rect x="1383.70" y="1971.12" width="21.94" height="21.92" fill="#97a0c4"/>
<rect x="1405.34" y="1971.12" width="21.94" height="21.92" fill="#c9283a"/>
<rect x="1426.98" y="1971.12" width="21.94" height="21.92" fill="#d96468"/>
<rect x="1448.62" y="1971.12" width="21.94" height="21.92" fill="#d65557"/>
<rect x="1470.26" y="1971.12" width="21.94" height="21.92" fill="#de7376"/>
<rect x="1491.90" y="1971.12" width="21.94" height="21.92" fill="#7585b3"/>
<rect x="1513.54" y="1971.12" width="21.94" height="21.92" fill="#d1444d"/>
<rect x="1535.18" y="1971.12" width="21.94" height="21.92" fill="#eaa3ac"/>
<rect x="1556.82" y="1971.12" width="21.94" height="21.92" fill="#d65557"/>
<rect x="1578.46" y="1971.12" width="21.94" height="21.92" fill="#de7376"/>
<rect x="1600.10" y="1971.12" width="21.94" height="21.92" fill="#d1444d"/>
<rect x="1621.74" y="1971.12" width="21.94" height="21.92" fill="#b8bedc"/>
<rect x="1383.70" y="1992.74" width="21.94" height="21.92" fill="#dcdbec"/>
<rect x="1405.34" y="1992.74" width="21.94" height="21.92" fill="#c9283a"/>
<rect x="1426.98" y="1992.74" width="21.94" height="21.92" fill="#ce3744"/>
<rect x="1448.62" y="1992.74" width="21.94" height="21.92" fill="#d65557"/>
<rect x="1470.26" y="1992.74" width="21.94" height="21.92" fill="#d1444d"/>
<rect x="1491.90" y="1992.74" width="21.94" height="21.92" fill="#afb7d5"/>
<rect x="1513.54" y="1992.74" width="21.94" height="21.92" fill="#c9283a"/>
<rect x="1535.18" y="1992.74" width="21.94" height="21.92" fill="#d65557"/>
<rect x="1556.82" y="1992.74" width="21.94" height="21.92" fill="#d1444d"/>
<rect x="1578.46" y="1992.74" width="21.94" height="21.92" fill="#d1444d"/>
<rect x="1600.10" y="1992.74" width="21.94" height="21.92" fill="#c9283a"/>
<rect x="1621.74" y="1992.74" width="21.94" height="21.92" fill="#a0aecb"/>
<rect x="1383.70" y="2014.36" width="21.94" height="21.92" fill="#fcfbfe"/>
<rect x="1405.34" y="2014.36" width="21.94" height="21.92" fill="#d65557"/>
<rect x="1426.98" y="2014.36" width="21.94" height="21.92" fill="#de7376"/>
<rect x="1448.62" y="2014.36" width="21.94" height="21.92" fill="#c9283a"/>
<rect x="1470.26" y="2014.36" width="21.94" height="21.92" fill="#e18387"/>
<rect x="1491.90" y="2014.36" width="21.94" height="21.92" fill="#8795bb"/>
<rect x="1513.54" y="2014.36" width="21.94" height="21.92" fill="#d1444d"/>
<rect x="1535.18" y="2014.36" width="21.94" height="21.92" fill="#e18387"/>
<rect x="1556.82" y="2014.36" width="21.94" height="21.92" fill="#e18387"/>
<rect x="1578.46" y="2014.36" width="21.94" height="21.92" fill="#d1444d"/>
<rect x="1600.10" y="2014.36" width="21.94" height="21.92" fill="#de7376"/>
<rect x="1621.74" y="2014.36" width="21.94" height="21.92" fill="#5f77a5"/>
<rect x="1383.70" y="2035.98" width="21.94" height="21.92" fill="#b8bedc"/>
<rect x="1405.34" y="2035.98" width="21.94" height="21.92" fill="#4b679d"/>
<rect x="1426.98" y="2035.98" width="21.94" height="21.92" fill="#4b679d"/>
<rect x="1448.62" y="2035.98" width="21.94" height="21.92" fill="#7282b0"/>
<rect x="1470.26" y="2035.98" width="21.94" height="21.92" fill="#45609a"/>
<rect x="1491.90" y="2035.98" width="21.94" height="21.92" fill="#e6ecf6"/>
<rect x="1513.54" y="2035.98" width="21.94" height="21.92" fill="#3a5492"/>
<rect x="1535.18" y="2035.98" width="21.94" height="21.92" fill="#3a5492"/>
<rect x="1556.82" y="2035.98" width="21.94" height="21.92" fill="#45609a"/>
<rect x="1578.46" y="2035.98" width="21.94" height="21.92" fill="#3a5492"/>
<rect x="1600.10" y="2035.98" width="21.94" height="21.92" fill="#3a5492"/>
<rect x="1621.74" y="2035.98" width="21.94" height="21.92" fill="#efb0b3"/>
<rect x="1383.70" y="2057.60" width="21.94" height="21.92" fill="#cbd1e4"/>
<rect x="1405.34" y="2057.60" width="21.94" height="21.92" fill="#c9283a"/>
<rect x="1426.98" y="2057.60" width="21.94" height="21.92" fill="#ce3744"/>
<rect x="1448.62" y="2057.60" width="21.94" height="21.92" fill="#d1444d"/>
<rect x="1470.26" y="2057.60" width="21.94" height="21.92" fill="#d1444d"/>
<rect x="1491.90" y="2057.60" width="21.94" height="21.92" fill="#a0aecb"/>
<rect x="1513.54" y="2057.60" width="21.94" height="21.92" fill="#c9283a"/>
<rect x="1535.18" y="2057.60" width="21.94" height="21.92" fill="#d96468"/>
<rect x="1556.82" y="2057.60" width="21.94" height="21.92" fill="#d65557"/>
<rect x="1578.46" y="2057.60" width="21.94" height="21.92" fill="#d1444d"/>
<rect x="1600.10" y="2057.60" width="21.94" height="21.92" fill="#c9283a"/>
<rect x="1621.74" y="2057.60" width="21.94" height="21.92" fill="#97a0c4"/>
<rect x="1383.70" y="2079.22" width="21.94" height="21.92" fill="#dcdbec"/>
<rect x="1405.34" y="2079.22" width="21.94" height="21.92" fill="#c9283a"/>
<rect x="1426.98" y="2079.22" width="21.94" height="21.92" fill="#d1444d"/>
<rect x="1448.62" y="2079.22" width="21.94" height="21.92" fill="#d65557"/>
<rect x="1470.26" y="2079.22" width="21.94" height="21.92" fill="#d1444d"/>
<rect x="1491.90" y="2079.22" width="21.94" height="21.92" fill="#b8bedc"/>
<rect x="1513.54" y="2079.22" width="21.94" height="21.92" fill="#c9283a"/>
<rect x="1535.18" y="2079.22" width="21.94" height="21.92" fill="#d65557"/>
<rect x="1556.82" y="2079.22" width="21.94" height="21.92" fill="#d1444d"/>
<rect x="1578.46" y="2079.22" width="21.94" height="21.92" fill="#d1444d"/>
<rect x="1600.10" y="2079.22" width="21.94" height="21.92" fill="#c9283a"/>
<rect x="1621.74" y="2079.22" width="21.94" height="21.92" fill="#afb7d5"/>
</g>
<line x1="1383.70" y1="1646.82" x2="1643.38" y2="1646.82" stroke="#fff" stroke-width="0.8" stroke-opacity="0.75"/>
<line x1="1383.70" y1="1668.44" x2="1643.38" y2="1668.44" stroke="#fff" stroke-width="0.8" stroke-opacity="0.75"/>
<line x1="1383.70" y1="1690.06" x2="1643.38" y2="1690.06" stroke="#fff" stroke-width="0.8" stroke-opacity="0.75"/>
<line x1="1383.70" y1="1711.68" x2="1643.38" y2="1711.68" stroke="#fff" stroke-width="0.8" stroke-opacity="0.75"/>
<line x1="1383.70" y1="1733.30" x2="1643.38" y2="1733.30" stroke="#fff" stroke-width="0.8" stroke-opacity="0.75"/>
<line x1="1383.70" y1="1754.92" x2="1643.38" y2="1754.92" stroke="#fff" stroke-width="0.8" stroke-opacity="0.75"/>
<line x1="1383.70" y1="1776.54" x2="1643.38" y2="1776.54" stroke="#fff" stroke-width="0.8" stroke-opacity="0.75"/>
<line x1="1383.70" y1="1798.16" x2="1643.38" y2="1798.16" stroke="#fff" stroke-width="0.8" stroke-opacity="0.75"/>
<line x1="1383.70" y1="1819.78" x2="1643.38" y2="1819.78" stroke="#fff" stroke-width="0.8" stroke-opacity="0.75"/>
<line x1="1383.70" y1="1841.40" x2="1643.38" y2="1841.40" stroke="#fff" stroke-width="0.8" stroke-opacity="0.75"/>
<line x1="1383.70" y1="1863.02" x2="1643.38" y2="1863.02" stroke="#fff" stroke-width="0.8" stroke-opacity="0.75"/>
<line x1="1383.70" y1="1884.64" x2="1643.38" y2="1884.64" stroke="#fff" stroke-width="0.8" stroke-opacity="0.75"/>
<line x1="1383.70" y1="1906.26" x2="1643.38" y2="1906.26" stroke="#fff" stroke-width="0.8" stroke-opacity="0.75"/>
<line x1="1383.70" y1="1927.88" x2="1643.38" y2="1927.88" stroke="#fff" stroke-width="0.8" stroke-opacity="0.75"/>
<line x1="1383.70" y1="1949.50" x2="1643.38" y2="1949.50" stroke="#fff" stroke-width="0.8" stroke-opacity="0.75"/>
<line x1="1383.70" y1="1971.12" x2="1643.38" y2="1971.12" stroke="#fff" stroke-width="0.8" stroke-opacity="0.75"/>
<line x1="1383.70" y1="1992.74" x2="1643.38" y2="1992.74" stroke="#fff" stroke-width="0.8" stroke-opacity="0.75"/>
<line x1="1383.70" y1="2014.36" x2="1643.38" y2="2014.36" stroke="#fff" stroke-width="0.8" stroke-opacity="0.75"/>
<line x1="1383.70" y1="2035.98" x2="1643.38" y2="2035.98" stroke="#fff" stroke-width="0.8" stroke-opacity="0.75"/>
<line x1="1383.70" y1="2057.60" x2="1643.38" y2="2057.60" stroke="#fff" stroke-width="0.8" stroke-opacity="0.75"/>
<line x1="1383.70" y1="2079.22" x2="1643.38" y2="2079.22" stroke="#fff" stroke-width="0.8" stroke-opacity="0.75"/>
<line x1="1405.34" y1="1625.20" x2="1405.34" y2="2100.84" stroke="#fff" stroke-width="0.8" stroke-opacity="0.75"/>
<line x1="1426.98" y1="1625.20" x2="1426.98" y2="2100.84" stroke="#fff" stroke-width="0.8" stroke-opacity="0.75"/>
<line x1="1448.62" y1="1625.20" x2="1448.62" y2="2100.84" stroke="#fff" stroke-width="0.8" stroke-opacity="0.75"/>
<line x1="1470.26" y1="1625.20" x2="1470.26" y2="2100.84" stroke="#fff" stroke-width="0.8" stroke-opacity="0.75"/>
<line x1="1491.90" y1="1625.20" x2="1491.90" y2="2100.84" stroke="#fff" stroke-width="0.8" stroke-opacity="0.75"/>
<line x1="1513.54" y1="1625.20" x2="1513.54" y2="2100.84" stroke="#fff" stroke-width="0.8" stroke-opacity="0.75"/>
<line x1="1535.18" y1="1625.20" x2="1535.18" y2="2100.84" stroke="#fff" stroke-width="0.8" stroke-opacity="0.75"/>
<line x1="1556.82" y1="1625.20" x2="1556.82" y2="2100.84" stroke="#fff" stroke-width="0.8" stroke-opacity="0.75"/>
<line x1="1578.46" y1="1625.20" x2="1578.46" y2="2100.84" stroke="#fff" stroke-width="0.8" stroke-opacity="0.75"/>
<line x1="1600.10" y1="1625.20" x2="1600.10" y2="2100.84" stroke="#fff" stroke-width="0.8" stroke-opacity="0.75"/>
<line x1="1621.74" y1="1625.20" x2="1621.74" y2="2100.84" stroke="#fff" stroke-width="0.8" stroke-opacity="0.75"/>
<rect x="1383.70" y="1625.20" width="259.68" height="475.64" fill="none" stroke="#111" stroke-width="1.5"/>
<text x="1459.44" y="1671.43" font-family="Liberation Serif, Times New Roman, serif" font-size="24" text-anchor="middle" fill="#111" letter-spacing="-1">**</text>
<text x="1459.44" y="1693.05" font-family="Liberation Serif, Times New Roman, serif" font-size="24" text-anchor="middle" fill="#111">*</text>
<text x="1459.44" y="1714.67" font-family="Liberation Serif, Times New Roman, serif" font-size="24" text-anchor="middle" fill="#111" letter-spacing="-1">**</text>
<text x="1459.44" y="1736.29" font-family="Liberation Serif, Times New Roman, serif" font-size="24" text-anchor="middle" fill="#111" letter-spacing="-1">**</text>
<text x="1524.36" y="1736.29" font-family="Liberation Serif, Times New Roman, serif" font-size="24" text-anchor="middle" fill="#111">*</text>
<text x="1589.28" y="1736.29" font-family="Liberation Serif, Times New Roman, serif" font-size="24" text-anchor="middle" fill="#111">*</text>
<text x="1459.44" y="1757.91" font-family="Liberation Serif, Times New Roman, serif" font-size="24" text-anchor="middle" fill="#111">*</text>
<text x="1459.44" y="1801.15" font-family="Liberation Serif, Times New Roman, serif" font-size="24" text-anchor="middle" fill="#111" letter-spacing="-1">**</text>
<text x="1524.36" y="1801.15" font-family="Liberation Serif, Times New Roman, serif" font-size="24" text-anchor="middle" fill="#111">*</text>
<text x="1459.44" y="1822.77" font-family="Liberation Serif, Times New Roman, serif" font-size="24" text-anchor="middle" fill="#111">*</text>
<text x="1502.72" y="1844.39" font-family="Liberation Serif, Times New Roman, serif" font-size="24" text-anchor="middle" fill="#111">*</text>
<text x="1632.56" y="1866.01" font-family="Liberation Serif, Times New Roman, serif" font-size="24" text-anchor="middle" fill="#111">*</text>
<text x="1459.44" y="1887.63" font-family="Liberation Serif, Times New Roman, serif" font-size="24" text-anchor="middle" fill="#111">*</text>
<text x="1589.28" y="1887.63" font-family="Liberation Serif, Times New Roman, serif" font-size="24" text-anchor="middle" fill="#111">*</text>
<text x="1610.92" y="1909.25" font-family="Liberation Serif, Times New Roman, serif" font-size="24" text-anchor="middle" fill="#111">*</text>
<text x="1416.16" y="1952.49" font-family="Liberation Serif, Times New Roman, serif" font-size="24" text-anchor="middle" fill="#111">*</text>
<text x="1567.64" y="1952.49" font-family="Liberation Serif, Times New Roman, serif" font-size="24" text-anchor="middle" fill="#111">*</text>
<text x="1416.16" y="1995.73" font-family="Liberation Serif, Times New Roman, serif" font-size="24" text-anchor="middle" fill="#111" letter-spacing="-1">**</text>
<text x="1416.16" y="2017.35" font-family="Liberation Serif, Times New Roman, serif" font-size="24" text-anchor="middle" fill="#111">*</text>
<text x="1524.36" y="2017.35" font-family="Liberation Serif, Times New Roman, serif" font-size="24" text-anchor="middle" fill="#111" letter-spacing="-1">**</text>
<text x="1610.92" y="2017.35" font-family="Liberation Serif, Times New Roman, serif" font-size="24" text-anchor="middle" fill="#111" letter-spacing="-1">**</text>
<text x="1459.44" y="2038.97" font-family="Liberation Serif, Times New Roman, serif" font-size="24" text-anchor="middle" fill="#111" letter-spacing="-1">**</text>
<text x="1524.36" y="2060.59" font-family="Liberation Serif, Times New Roman, serif" font-size="24" text-anchor="middle" fill="#111">*</text>
<text x="1546.00" y="2060.59" font-family="Liberation Serif, Times New Roman, serif" font-size="24" text-anchor="middle" fill="#111">*</text>
<text x="1589.28" y="2060.59" font-family="Liberation Serif, Times New Roman, serif" font-size="24" text-anchor="middle" fill="#111">*</text>
<text x="1610.92" y="2060.59" font-family="Liberation Serif, Times New Roman, serif" font-size="24" text-anchor="middle" fill="#111">*</text>
<text x="1416.16" y="2082.21" font-family="Liberation Serif, Times New Roman, serif" font-size="24" text-anchor="middle" fill="#111">*</text>
<text x="1437.80" y="2082.21" font-family="Liberation Serif, Times New Roman, serif" font-size="24" text-anchor="middle" fill="#111">*</text>
<text x="1524.36" y="2082.21" font-family="Liberation Serif, Times New Roman, serif" font-size="24" text-anchor="middle" fill="#111" letter-spacing="-1">**</text>
<text x="1610.92" y="2082.21" font-family="Liberation Serif, Times New Roman, serif" font-size="24" text-anchor="middle" fill="#111">*</text>
<text x="1416.16" y="2103.83" font-family="Liberation Serif, Times New Roman, serif" font-size="24" text-anchor="middle" fill="#111">*</text>
<text x="1524.36" y="2103.83" font-family="Liberation Serif, Times New Roman, serif" font-size="24" text-anchor="middle" fill="#111">*</text>
<text x="1610.92" y="2103.83" font-family="Liberation Serif, Times New Roman, serif" font-size="24" text-anchor="middle" fill="#111" letter-spacing="-1">**</text>
<line x1="1378.20" y1="1636.01" x2="1383.70" y2="1636.01" stroke="#111" stroke-width="1.5"/>
<text x="1374.30" y="1639.87" font-family="Liberation Serif, Times New Roman, serif" font-size="13.3" text-anchor="end" font-weight="bold">Lam</text>
<line x1="1378.20" y1="1657.63" x2="1383.70" y2="1657.63" stroke="#111" stroke-width="1.5"/>
<text x="1374.30" y="1661.49" font-family="Liberation Serif, Times New Roman, serif" font-size="13.3" text-anchor="end" font-weight="bold">Col IV</text>
<line x1="1378.20" y1="1679.25" x2="1383.70" y2="1679.25" stroke="#111" stroke-width="1.5"/>
<text x="1374.30" y="1683.11" font-family="Liberation Serif, Times New Roman, serif" font-size="13.3" text-anchor="end" font-weight="bold">FN</text>
<line x1="1378.20" y1="1700.87" x2="1383.70" y2="1700.87" stroke="#111" stroke-width="1.5"/>
<text x="1374.30" y="1704.73" font-family="Liberation Serif, Times New Roman, serif" font-size="13.3" text-anchor="end" font-weight="bold">TGF-β</text>
<line x1="1378.20" y1="1722.49" x2="1383.70" y2="1722.49" stroke="#111" stroke-width="1.5"/>
<text x="1374.30" y="1726.35" font-family="Liberation Serif, Times New Roman, serif" font-size="13.3" text-anchor="end" font-weight="bold">IL-1β</text>
<line x1="1378.20" y1="1744.11" x2="1383.70" y2="1744.11" stroke="#111" stroke-width="1.5"/>
<text x="1374.30" y="1747.97" font-family="Liberation Serif, Times New Roman, serif" font-size="13.3" text-anchor="end" font-weight="bold">TNF-α</text>
<line x1="1378.20" y1="1765.73" x2="1383.70" y2="1765.73" stroke="#111" stroke-width="1.5"/>
<text x="1374.30" y="1769.59" font-family="Liberation Serif, Times New Roman, serif" font-size="13.3" text-anchor="end" font-weight="bold">MCP-1</text>
<line x1="1378.20" y1="1787.35" x2="1383.70" y2="1787.35" stroke="#111" stroke-width="1.5"/>
<text x="1374.30" y="1791.21" font-family="Liberation Serif, Times New Roman, serif" font-size="13.3" text-anchor="end" font-weight="bold">IL-6</text>
<line x1="1378.20" y1="1808.97" x2="1383.70" y2="1808.97" stroke="#111" stroke-width="1.5"/>
<text x="1374.30" y="1812.83" font-family="Liberation Serif, Times New Roman, serif" font-size="13.3" text-anchor="end" font-weight="bold">Ucr</text>
<line x1="1378.20" y1="1830.59" x2="1383.70" y2="1830.59" stroke="#111" stroke-width="1.5"/>
<text x="1374.30" y="1834.45" font-family="Liberation Serif, Times New Roman, serif" font-size="13.3" text-anchor="end" font-weight="bold">Cys-C</text>
<line x1="1378.20" y1="1852.21" x2="1383.70" y2="1852.21" stroke="#111" stroke-width="1.5"/>
<text x="1374.30" y="1856.07" font-family="Liberation Serif, Times New Roman, serif" font-size="13.3" text-anchor="end" font-weight="bold">MAU</text>
<line x1="1378.20" y1="1873.83" x2="1383.70" y2="1873.83" stroke="#111" stroke-width="1.5"/>
<text x="1374.30" y="1877.69" font-family="Liberation Serif, Times New Roman, serif" font-size="13.3" text-anchor="end" font-weight="bold">CAT</text>
<line x1="1378.20" y1="1895.45" x2="1383.70" y2="1895.45" stroke="#111" stroke-width="1.5"/>
<text x="1374.30" y="1899.31" font-family="Liberation Serif, Times New Roman, serif" font-size="13.3" text-anchor="end" font-weight="bold">GSH-Px</text>
<line x1="1378.20" y1="1917.07" x2="1383.70" y2="1917.07" stroke="#111" stroke-width="1.5"/>
<text x="1374.30" y="1920.93" font-family="Liberation Serif, Times New Roman, serif" font-size="13.3" text-anchor="end" font-weight="bold">MDA</text>
<line x1="1378.20" y1="1938.69" x2="1383.70" y2="1938.69" stroke="#111" stroke-width="1.5"/>
<text x="1374.30" y="1942.55" font-family="Liberation Serif, Times New Roman, serif" font-size="13.3" text-anchor="end" font-weight="bold">SOD</text>
<line x1="1378.20" y1="1960.31" x2="1383.70" y2="1960.31" stroke="#111" stroke-width="1.5"/>
<text x="1374.30" y="1964.17" font-family="Liberation Serif, Times New Roman, serif" font-size="13.3" text-anchor="end" font-weight="bold">INS</text>
<line x1="1378.20" y1="1981.93" x2="1383.70" y2="1981.93" stroke="#111" stroke-width="1.5"/>
<text x="1374.30" y="1985.79" font-family="Liberation Serif, Times New Roman, serif" font-size="13.3" text-anchor="end" font-weight="bold">BUN</text>
<line x1="1378.20" y1="2003.55" x2="1383.70" y2="2003.55" stroke="#111" stroke-width="1.5"/>
<text x="1374.30" y="2007.41" font-family="Liberation Serif, Times New Roman, serif" font-size="13.3" text-anchor="end" font-weight="bold">Cre</text>
<line x1="1378.20" y1="2025.17" x2="1383.70" y2="2025.17" stroke="#111" stroke-width="1.5"/>
<text x="1374.30" y="2029.03" font-family="Liberation Serif, Times New Roman, serif" font-size="13.3" text-anchor="end" font-weight="bold">LDL-C</text>
<line x1="1378.20" y1="2046.79" x2="1383.70" y2="2046.79" stroke="#111" stroke-width="1.5"/>
<text x="1374.30" y="2050.65" font-family="Liberation Serif, Times New Roman, serif" font-size="13.3" text-anchor="end" font-weight="bold">HDL-C</text>
<line x1="1378.20" y1="2068.41" x2="1383.70" y2="2068.41" stroke="#111" stroke-width="1.5"/>
<text x="1374.30" y="2072.27" font-family="Liberation Serif, Times New Roman, serif" font-size="13.3" text-anchor="end" font-weight="bold">TG</text>
<line x1="1378.20" y1="2090.03" x2="1383.70" y2="2090.03" stroke="#111" stroke-width="1.5"/>
<text x="1374.30" y="2093.89" font-family="Liberation Serif, Times New Roman, serif" font-size="13.3" text-anchor="end" font-weight="bold">TC</text>
<line x1="1394.52" y1="2100.84" x2="1394.52" y2="2106.84" stroke="#111" stroke-width="1.5"/>
<text transform="translate(1398.54 2108.80) rotate(-90)" font-family="Liberation Serif, Times New Roman, serif" font-size="13.4" text-anchor="end" font-weight="bold" font-style="italic">Caudoviricetes_sp.</text>
<line x1="1416.16" y1="2100.84" x2="1416.16" y2="2106.84" stroke="#111" stroke-width="1.5"/>
<text transform="translate(1420.18 2108.80) rotate(-90)" font-family="Liberation Serif, Times New Roman, serif" font-size="13.4" text-anchor="end" font-weight="bold" font-style="italic">Escherichia_coli</text>
<line x1="1437.80" y1="2100.84" x2="1437.80" y2="2106.84" stroke="#111" stroke-width="1.5"/>
<text transform="translate(1441.82 2108.80) rotate(-90)" font-family="Liberation Serif, Times New Roman, serif" font-size="13.4" text-anchor="end" font-weight="bold" font-style="italic">Phocaeicola_vulgatus</text>
<line x1="1459.44" y1="2100.84" x2="1459.44" y2="2106.84" stroke="#111" stroke-width="1.5"/>
<text transform="translate(1463.46 2108.80) rotate(-90)" font-family="Liberation Serif, Times New Roman, serif" font-size="13.4" text-anchor="end" font-weight="bold" font-style="italic">Phocaeicola_faecalis</text>
<line x1="1481.08" y1="2100.84" x2="1481.08" y2="2106.84" stroke="#111" stroke-width="1.5"/>
<text transform="translate(1485.10 2108.80) rotate(-90)" font-family="Liberation Serif, Times New Roman, serif" font-size="13.4" text-anchor="end" font-weight="bold" font-style="italic">Desulfovibrio_porci</text>
<line x1="1502.72" y1="2100.84" x2="1502.72" y2="2106.84" stroke="#111" stroke-width="1.5"/>
<text transform="translate(1506.74 2108.80) rotate(-90)" font-family="Liberation Serif, Times New Roman, serif" font-size="13.4" text-anchor="end" font-weight="bold" font-style="italic">Firmicutes_bacterium_CAG:110_56_8</text>
<line x1="1524.36" y1="2100.84" x2="1524.36" y2="2106.84" stroke="#111" stroke-width="1.5"/>
<text transform="translate(1528.38 2108.80) rotate(-90)" font-family="Liberation Serif, Times New Roman, serif" font-size="13.4" text-anchor="end" font-weight="bold" font-style="italic">Parablautia_muri</text>
<line x1="1546.00" y1="2100.84" x2="1546.00" y2="2106.84" stroke="#111" stroke-width="1.5"/>
<text transform="translate(1550.02 2108.80) rotate(-90)" font-family="Liberation Serif, Times New Roman, serif" font-size="13.4" text-anchor="end" font-weight="bold" font-style="italic">Oscillibacter_sp._CU971</text>
<line x1="1567.64" y1="2100.84" x2="1567.64" y2="2106.84" stroke="#111" stroke-width="1.5"/>
<text transform="translate(1571.66 2108.80) rotate(-90)" font-family="Liberation Serif, Times New Roman, serif" font-size="13.4" text-anchor="end" font-weight="bold" font-style="italic">Pseudoflavonifractor_capillosus</text>
<line x1="1589.28" y1="2100.84" x2="1589.28" y2="2106.84" stroke="#111" stroke-width="1.5"/>
<text transform="translate(1593.30 2108.80) rotate(-90)" font-family="Liberation Serif, Times New Roman, serif" font-size="13.4" text-anchor="end" font-weight="bold" font-style="italic">Phocaeicola_dorei</text>
<line x1="1610.92" y1="2100.84" x2="1610.92" y2="2106.84" stroke="#111" stroke-width="1.5"/>
<text transform="translate(1614.94 2108.80) rotate(-90)" font-family="Liberation Serif, Times New Roman, serif" font-size="13.4" text-anchor="end" font-weight="bold" font-style="italic">Raoultella_unclassified</text>
<line x1="1632.56" y1="2100.84" x2="1632.56" y2="2106.84" stroke="#111" stroke-width="1.5"/>
<text transform="translate(1636.58 2108.80) rotate(-90)" font-family="Liberation Serif, Times New Roman, serif" font-size="13.4" text-anchor="end" font-weight="bold" font-style="italic">Allobaculum_unclassified</text>
<g shape-rendering="crispEdges">
<rect x="1666.30" y="1624.70" width="11.70" height="8.29" fill="#c9283a"/>
<rect x="1666.30" y="1632.59" width="11.70" height="8.29" fill="#ce3744"/>
<rect x="1666.30" y="1640.47" width="11.70" height="8.29" fill="#d1444d"/>
<rect x="1666.30" y="1648.36" width="11.70" height="8.29" fill="#d65557"/>
<rect x="1666.30" y="1656.25" width="11.70" height="8.29" fill="#d96468"/>
<rect x="1666.30" y="1664.13" width="11.70" height="8.29" fill="#de7376"/>
<rect x="1666.30" y="1672.02" width="11.70" height="8.29" fill="#e18387"/>
<rect x="1666.30" y="1679.91" width="11.70" height="8.29" fill="#e4939b"/>
<rect x="1666.30" y="1687.79" width="11.70" height="8.29" fill="#eaa3ac"/>
<rect x="1666.30" y="1695.68" width="11.70" height="8.29" fill="#efb0b3"/>
<rect x="1666.30" y="1703.57" width="11.70" height="8.29" fill="#f4c1c3"/>
<rect x="1666.30" y="1711.45" width="11.70" height="8.29" fill="#f6d0d2"/>
<rect x="1666.30" y="1719.34" width="11.70" height="8.29" fill="#fbe0e0"/>
<rect x="1666.30" y="1727.23" width="11.70" height="8.29" fill="#fff0ef"/>
<rect x="1666.30" y="1735.11" width="11.70" height="8.29" fill="#ffffff"/>
<rect x="1666.30" y="1743.00" width="11.70" height="8.29" fill="#f8f7fc"/>
<rect x="1666.30" y="1750.89" width="11.70" height="8.29" fill="#e6ecf6"/>
<rect x="1666.30" y="1758.77" width="11.70" height="8.29" fill="#dcdbec"/>
<rect x="1666.30" y="1766.66" width="11.70" height="8.29" fill="#cbd1e4"/>
<rect x="1666.30" y="1774.55" width="11.70" height="8.29" fill="#b8bedc"/>
<rect x="1666.30" y="1782.43" width="11.70" height="8.29" fill="#afb7d5"/>
<rect x="1666.30" y="1790.32" width="11.70" height="8.29" fill="#a0aecb"/>
<rect x="1666.30" y="1798.21" width="11.70" height="8.29" fill="#97a0c4"/>
<rect x="1666.30" y="1806.09" width="11.70" height="8.29" fill="#8795bb"/>
<rect x="1666.30" y="1813.98" width="11.70" height="8.29" fill="#7585b3"/>
<rect x="1666.30" y="1821.87" width="11.70" height="8.29" fill="#6f7fac"/>
<rect x="1666.30" y="1829.75" width="11.70" height="8.29" fill="#5f77a5"/>
<rect x="1666.30" y="1837.64" width="11.70" height="8.29" fill="#4b679d"/>
<rect x="1666.30" y="1845.53" width="11.70" height="8.29" fill="#45609a"/>
<rect x="1666.30" y="1853.41" width="11.70" height="8.29" fill="#3a5492"/>
</g>
<rect x="1666.30" y="1624.70" width="11.70" height="236.60" fill="none" stroke="#333" stroke-width="0.8"/>
<line x1="1678.00" y1="1624.70" x2="1683.50" y2="1624.70" stroke="#333" stroke-width="0.9"/>
<text x="1686.80" y="1627.80" font-family="Liberation Serif, Times New Roman, serif" font-size="9.4">1.000</text>
<line x1="1678.00" y1="1672.02" x2="1683.50" y2="1672.02" stroke="#333" stroke-width="0.9"/>
<text x="1686.80" y="1675.12" font-family="Liberation Serif, Times New Roman, serif" font-size="9.4">0.6080</text>
<line x1="1678.00" y1="1719.34" x2="1683.50" y2="1719.34" stroke="#333" stroke-width="0.9"/>
<text x="1686.80" y="1722.44" font-family="Liberation Serif, Times New Roman, serif" font-size="9.4">0.2160</text>
<line x1="1678.00" y1="1766.66" x2="1683.50" y2="1766.66" stroke="#333" stroke-width="0.9"/>
<text x="1686.80" y="1769.76" font-family="Liberation Serif, Times New Roman, serif" font-size="9.4">-0.1760</text>
<line x1="1678.00" y1="1813.98" x2="1683.50" y2="1813.98" stroke="#333" stroke-width="0.9"/>
<text x="1686.80" y="1817.08" font-family="Liberation Serif, Times New Roman, serif" font-size="9.4">-0.5680</text>
<line x1="1678.00" y1="1861.30" x2="1683.50" y2="1861.30" stroke="#333" stroke-width="0.9"/>
<text x="1686.80" y="1864.40" font-family="Liberation Serif, Times New Roman, serif" font-size="9.4">-0.9600</text>
</svg>
</body></html>
